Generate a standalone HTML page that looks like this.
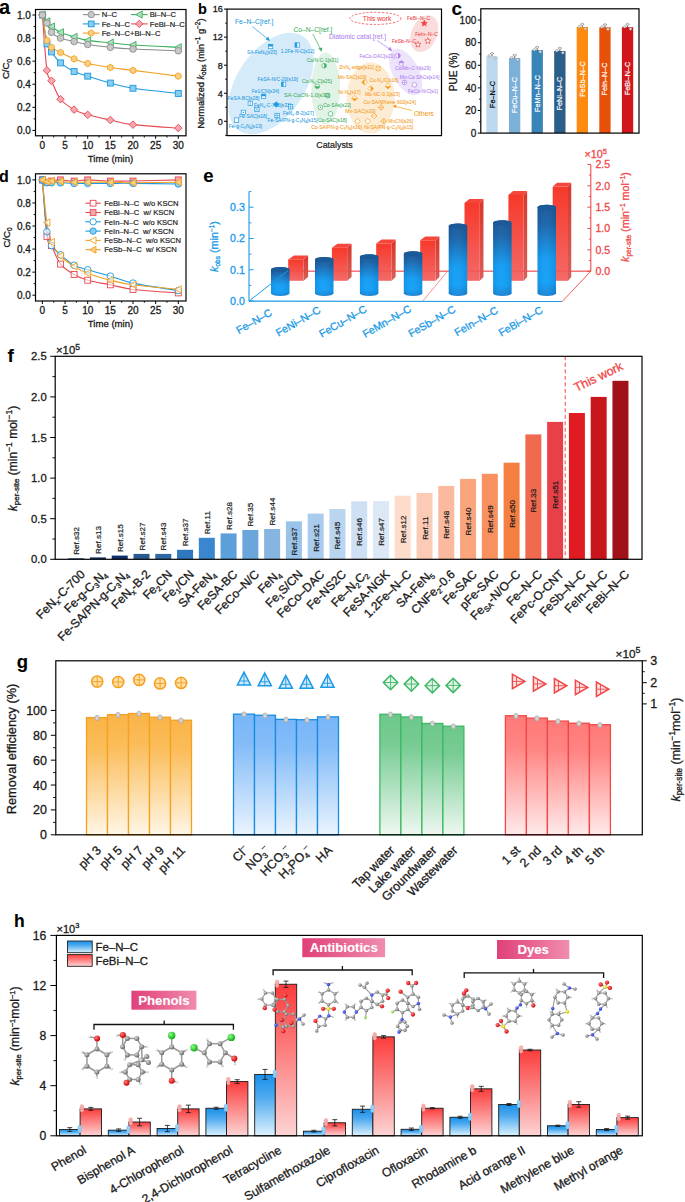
<!DOCTYPE html>
<html><head><meta charset="utf-8"><style>
html,body{margin:0;padding:0;background:#fff;width:685px;height:1202px;overflow:hidden}
svg{display:block;font-family:"Liberation Sans",sans-serif}
</style></head><body>
<svg width="685" height="1202" viewBox="0 0 685 1202">
<rect width="685" height="1202" fill="#fff"/>
<text x="-1" y="14.3" font-size="20" font-weight="bold" stroke="#000" stroke-width="0.1">a</text>
<rect x="35.5" y="9.5" width="150.5" height="126.3" fill="none" stroke="#000" stroke-width="1.2"/>
<line x1="42.4" y1="135.8" x2="42.4" y2="138.8" stroke="#000" stroke-width="1"/>
<text x="42.4" y="149.1" font-size="10" text-anchor="middle" fill="#1a1a1a" stroke="#1a1a1a" stroke-width="0.3">0</text>
<line x1="65.05" y1="135.8" x2="65.05" y2="138.8" stroke="#000" stroke-width="1"/>
<text x="65.05" y="149.1" font-size="10" text-anchor="middle" fill="#1a1a1a" stroke="#1a1a1a" stroke-width="0.3">5</text>
<line x1="87.7" y1="135.8" x2="87.7" y2="138.8" stroke="#000" stroke-width="1"/>
<text x="87.7" y="149.1" font-size="10" text-anchor="middle" fill="#1a1a1a" stroke="#1a1a1a" stroke-width="0.3">10</text>
<line x1="110.35" y1="135.8" x2="110.35" y2="138.8" stroke="#000" stroke-width="1"/>
<text x="110.35" y="149.1" font-size="10" text-anchor="middle" fill="#1a1a1a" stroke="#1a1a1a" stroke-width="0.3">15</text>
<line x1="133" y1="135.8" x2="133" y2="138.8" stroke="#000" stroke-width="1"/>
<text x="133" y="149.1" font-size="10" text-anchor="middle" fill="#1a1a1a" stroke="#1a1a1a" stroke-width="0.3">20</text>
<line x1="155.65" y1="135.8" x2="155.65" y2="138.8" stroke="#000" stroke-width="1"/>
<text x="155.65" y="149.1" font-size="10" text-anchor="middle" fill="#1a1a1a" stroke="#1a1a1a" stroke-width="0.3">25</text>
<line x1="178.3" y1="135.8" x2="178.3" y2="138.8" stroke="#000" stroke-width="1"/>
<text x="178.3" y="149.1" font-size="10" text-anchor="middle" fill="#1a1a1a" stroke="#1a1a1a" stroke-width="0.3">30</text>
<line x1="53.73" y1="135.8" x2="53.73" y2="137.6" stroke="#000" stroke-width="0.9"/>
<line x1="76.38" y1="135.8" x2="76.38" y2="137.6" stroke="#000" stroke-width="0.9"/>
<line x1="99.03" y1="135.8" x2="99.03" y2="137.6" stroke="#000" stroke-width="0.9"/>
<line x1="121.68" y1="135.8" x2="121.68" y2="137.6" stroke="#000" stroke-width="0.9"/>
<line x1="144.33" y1="135.8" x2="144.33" y2="137.6" stroke="#000" stroke-width="0.9"/>
<line x1="166.97" y1="135.8" x2="166.97" y2="137.6" stroke="#000" stroke-width="0.9"/>
<line x1="32.4" y1="130.4" x2="35.5" y2="130.4" stroke="#000" stroke-width="1"/>
<text x="30.8" y="134" font-size="10" text-anchor="end" fill="#1a1a1a" stroke="#1a1a1a" stroke-width="0.3">0.0</text>
<line x1="32.4" y1="107.32" x2="35.5" y2="107.32" stroke="#000" stroke-width="1"/>
<text x="30.8" y="110.92" font-size="10" text-anchor="end" fill="#1a1a1a" stroke="#1a1a1a" stroke-width="0.3">0.2</text>
<line x1="32.4" y1="84.24" x2="35.5" y2="84.24" stroke="#000" stroke-width="1"/>
<text x="30.8" y="87.84" font-size="10" text-anchor="end" fill="#1a1a1a" stroke="#1a1a1a" stroke-width="0.3">0.4</text>
<line x1="32.4" y1="61.16" x2="35.5" y2="61.16" stroke="#000" stroke-width="1"/>
<text x="30.8" y="64.76" font-size="10" text-anchor="end" fill="#1a1a1a" stroke="#1a1a1a" stroke-width="0.3">0.6</text>
<line x1="32.4" y1="38.08" x2="35.5" y2="38.08" stroke="#000" stroke-width="1"/>
<text x="30.8" y="41.68" font-size="10" text-anchor="end" fill="#1a1a1a" stroke="#1a1a1a" stroke-width="0.3">0.8</text>
<line x1="32.4" y1="15" x2="35.5" y2="15" stroke="#000" stroke-width="1"/>
<text x="30.8" y="18.6" font-size="10" text-anchor="end" fill="#1a1a1a" stroke="#1a1a1a" stroke-width="0.3">1.0</text>
<line x1="33.6" y1="118.86" x2="35.5" y2="118.86" stroke="#000" stroke-width="0.9"/>
<line x1="33.6" y1="95.78" x2="35.5" y2="95.78" stroke="#000" stroke-width="0.9"/>
<line x1="33.6" y1="72.7" x2="35.5" y2="72.7" stroke="#000" stroke-width="0.9"/>
<line x1="33.6" y1="49.62" x2="35.5" y2="49.62" stroke="#000" stroke-width="0.9"/>
<line x1="33.6" y1="26.54" x2="35.5" y2="26.54" stroke="#000" stroke-width="0.9"/>
<text x="110.5" y="161.5" font-size="9.6" text-anchor="middle" fill="#1a1a1a" stroke="#1a1a1a" stroke-width="0.3">Time (min)</text>
<text x="0" y="0" font-size="9.6" fill="#1a1a1a" text-anchor="middle" transform="translate(9.3 69) rotate(-90)" stroke="#1a1a1a" stroke-width="0.3">C/C<tspan font-size="6.5" dy="2.5">0</tspan></text>
<path d="M42.4,15 C43.16,24.23 45.42,59.43 46.93,70.39 C48.44,81.35 49.2,75.97 51.46,80.78 C53.73,85.59 56.74,94.43 60.52,99.24 C64.3,104.05 69.58,107.03 74.11,109.63 C78.64,112.22 81.66,113.09 87.7,114.82 C93.74,116.55 102.8,118.38 110.35,120.01 C117.9,121.65 121.67,123.28 133,124.63 C144.32,125.98 170.75,127.52 178.3,128.09" fill="none" stroke="#e84850" stroke-width="1.1"/>
<path d="M42.4,15 C43.16,19.81 45.42,37.7 46.93,43.85 C48.44,50 49.2,48.75 51.46,51.93 C53.73,55.1 56.74,59.62 60.52,62.89 C64.3,66.16 69.58,69.33 74.11,71.55 C78.64,73.76 81.66,74.24 87.7,76.16 C93.74,78.09 102.8,81.07 110.35,83.09 C117.9,85.11 121.67,86.55 133,88.28 C144.32,90.01 170.75,92.61 178.3,93.47" fill="none" stroke="#1e9ae0" stroke-width="1.1"/>
<path d="M42.4,15 C43.16,19.23 45.42,35 46.93,40.39 C48.44,45.77 49.2,45.29 51.46,47.31 C53.73,49.33 56.74,50.58 60.52,52.5 C64.3,54.43 69.58,57.02 74.11,58.85 C78.64,60.68 81.66,62.03 87.7,63.47 C93.74,64.91 102.8,66.35 110.35,67.51 C117.9,68.66 121.67,68.95 133,70.39 C144.32,71.83 170.75,75.2 178.3,76.16" fill="none" stroke="#f0a020" stroke-width="1.1"/>
<path d="M42.4,15 C43.16,16.06 45.42,19.42 46.93,21.35 C48.44,23.27 49.2,24.71 51.46,26.54 C53.73,28.37 56.74,30.58 60.52,32.31 C64.3,34.04 69.58,35.58 74.11,36.93 C78.64,38.27 81.66,39.43 87.7,40.39 C93.74,41.35 102.8,41.93 110.35,42.7 C117.9,43.47 121.67,44.23 133,45 C144.32,45.77 170.75,46.93 178.3,47.31" fill="none" stroke="#3cb060" stroke-width="1.1"/>
<path d="M42.4,15 C43.16,16.35 45.42,20.19 46.93,23.08 C48.44,25.96 49.2,29.81 51.46,32.31 C53.73,34.81 56.74,36.54 60.52,38.08 C64.3,39.62 69.58,40.48 74.11,41.54 C78.64,42.6 81.66,43.47 87.7,44.43 C93.74,45.39 102.8,46.54 110.35,47.31 C117.9,48.08 121.67,48.47 133,49.04 C144.32,49.62 170.75,50.49 178.3,50.77" fill="none" stroke="#8c8c8c" stroke-width="1.1"/>
<polygon points="42.4,11.21 46.2,15 42.4,18.79 38.6,15" fill="#f4a8b0" stroke="#e84850" stroke-width="0.9"/>
<polygon points="46.93,66.6 50.73,70.39 46.93,74.19 43.13,70.39" fill="#f4a8b0" stroke="#e84850" stroke-width="0.9"/>
<polygon points="51.46,76.98 55.26,80.78 51.46,84.57 47.66,80.78" fill="#f4a8b0" stroke="#e84850" stroke-width="0.9"/>
<polygon points="60.52,95.45 64.31,99.24 60.52,103.04 56.72,99.24" fill="#f4a8b0" stroke="#e84850" stroke-width="0.9"/>
<polygon points="74.11,105.83 77.91,109.63 74.11,113.42 70.31,109.63" fill="#f4a8b0" stroke="#e84850" stroke-width="0.9"/>
<polygon points="87.7,111.03 91.5,114.82 87.7,118.62 83.91,114.82" fill="#f4a8b0" stroke="#e84850" stroke-width="0.9"/>
<polygon points="110.35,116.22 114.14,120.01 110.35,123.81 106.55,120.01" fill="#f4a8b0" stroke="#e84850" stroke-width="0.9"/>
<polygon points="133,120.84 136.79,124.63 133,128.43 129.21,124.63" fill="#f4a8b0" stroke="#e84850" stroke-width="0.9"/>
<polygon points="178.3,124.3 182.09,128.09 178.3,131.89 174.51,128.09" fill="#f4a8b0" stroke="#e84850" stroke-width="0.9"/>
<rect x="39.43" y="12.03" width="5.94" height="5.94" fill="#88ccf2" stroke="#1e9ae0" stroke-width="0.9"/>
<rect x="43.96" y="40.88" width="5.94" height="5.94" fill="#88ccf2" stroke="#1e9ae0" stroke-width="0.9"/>
<rect x="48.49" y="48.96" width="5.94" height="5.94" fill="#88ccf2" stroke="#1e9ae0" stroke-width="0.9"/>
<rect x="57.55" y="59.92" width="5.94" height="5.94" fill="#88ccf2" stroke="#1e9ae0" stroke-width="0.9"/>
<rect x="71.14" y="68.58" width="5.94" height="5.94" fill="#88ccf2" stroke="#1e9ae0" stroke-width="0.9"/>
<rect x="84.73" y="73.19" width="5.94" height="5.94" fill="#88ccf2" stroke="#1e9ae0" stroke-width="0.9"/>
<rect x="107.38" y="80.12" width="5.94" height="5.94" fill="#88ccf2" stroke="#1e9ae0" stroke-width="0.9"/>
<rect x="130.03" y="85.31" width="5.94" height="5.94" fill="#88ccf2" stroke="#1e9ae0" stroke-width="0.9"/>
<rect x="175.33" y="90.5" width="5.94" height="5.94" fill="#88ccf2" stroke="#1e9ae0" stroke-width="0.9"/>
<polygon points="45.26,16.65 42.4,18.3 39.54,16.65 39.54,13.35 42.4,11.7 45.26,13.35" fill="#fbcf80" stroke="#f0a020" stroke-width="0.9"/>
<polygon points="49.79,42.04 46.93,43.69 44.07,42.04 44.07,38.74 46.93,37.09 49.79,38.74" fill="#fbcf80" stroke="#f0a020" stroke-width="0.9"/>
<polygon points="54.32,48.96 51.46,50.61 48.6,48.96 48.6,45.66 51.46,44.01 54.32,45.66" fill="#fbcf80" stroke="#f0a020" stroke-width="0.9"/>
<polygon points="63.38,54.15 60.52,55.8 57.66,54.15 57.66,50.85 60.52,49.2 63.38,50.85" fill="#fbcf80" stroke="#f0a020" stroke-width="0.9"/>
<polygon points="76.97,60.5 74.11,62.15 71.25,60.5 71.25,57.2 74.11,55.55 76.97,57.2" fill="#fbcf80" stroke="#f0a020" stroke-width="0.9"/>
<polygon points="90.56,65.12 87.7,66.77 84.84,65.12 84.84,61.82 87.7,60.17 90.56,61.82" fill="#fbcf80" stroke="#f0a020" stroke-width="0.9"/>
<polygon points="113.21,69.16 110.35,70.81 107.49,69.16 107.49,65.86 110.35,64.21 113.21,65.86" fill="#fbcf80" stroke="#f0a020" stroke-width="0.9"/>
<polygon points="135.86,72.04 133,73.69 130.14,72.04 130.14,68.74 133,67.09 135.86,68.74" fill="#fbcf80" stroke="#f0a020" stroke-width="0.9"/>
<polygon points="181.16,77.81 178.3,79.46 175.44,77.81 175.44,74.51 178.3,72.86 181.16,74.51" fill="#fbcf80" stroke="#f0a020" stroke-width="0.9"/>
<polygon points="38.77,15 45.37,11.37 45.37,18.63" fill="#b5dfc0" stroke="#3cb060" stroke-width="0.9"/>
<polygon points="43.3,21.35 49.9,17.72 49.9,24.98" fill="#b5dfc0" stroke="#3cb060" stroke-width="0.9"/>
<polygon points="47.83,26.54 54.43,22.91 54.43,30.17" fill="#b5dfc0" stroke="#3cb060" stroke-width="0.9"/>
<polygon points="56.89,32.31 63.49,28.68 63.49,35.94" fill="#b5dfc0" stroke="#3cb060" stroke-width="0.9"/>
<polygon points="70.48,36.93 77.08,33.3 77.08,40.56" fill="#b5dfc0" stroke="#3cb060" stroke-width="0.9"/>
<polygon points="84.07,40.39 90.67,36.76 90.67,44.02" fill="#b5dfc0" stroke="#3cb060" stroke-width="0.9"/>
<polygon points="106.72,42.7 113.32,39.07 113.32,46.33" fill="#b5dfc0" stroke="#3cb060" stroke-width="0.9"/>
<polygon points="129.37,45 135.97,41.37 135.97,48.63" fill="#b5dfc0" stroke="#3cb060" stroke-width="0.9"/>
<polygon points="174.67,47.31 181.27,43.68 181.27,50.94" fill="#b5dfc0" stroke="#3cb060" stroke-width="0.9"/>
<circle cx="42.4" cy="15" r="3.3" fill="#c8c8c8" stroke="#8c8c8c" stroke-width="0.9"/>
<circle cx="46.93" cy="23.08" r="3.3" fill="#c8c8c8" stroke="#8c8c8c" stroke-width="0.9"/>
<circle cx="51.46" cy="32.31" r="3.3" fill="#c8c8c8" stroke="#8c8c8c" stroke-width="0.9"/>
<circle cx="60.52" cy="38.08" r="3.3" fill="#c8c8c8" stroke="#8c8c8c" stroke-width="0.9"/>
<circle cx="74.11" cy="41.54" r="3.3" fill="#c8c8c8" stroke="#8c8c8c" stroke-width="0.9"/>
<circle cx="87.7" cy="44.43" r="3.3" fill="#c8c8c8" stroke="#8c8c8c" stroke-width="0.9"/>
<circle cx="110.35" cy="47.31" r="3.3" fill="#c8c8c8" stroke="#8c8c8c" stroke-width="0.9"/>
<circle cx="133" cy="49.04" r="3.3" fill="#c8c8c8" stroke="#8c8c8c" stroke-width="0.9"/>
<circle cx="178.3" cy="50.77" r="3.3" fill="#c8c8c8" stroke="#8c8c8c" stroke-width="0.9"/>
<line x1="82.9" y1="14.6" x2="99.6" y2="14.6" stroke="#8c8c8c" stroke-width="1.1"/>
<circle cx="91.2" cy="14.6" r="3.2" fill="#c8c8c8" stroke="#8c8c8c" stroke-width="0.9"/>
<text x="101.7" y="17.3" font-size="7.6" fill="#222" stroke="#222" stroke-width="0.2">N&#8211;C</text>
<line x1="131" y1="14.6" x2="147.7" y2="14.6" stroke="#3cb060" stroke-width="1.1"/>
<polygon points="135.78,14.6 142.18,11.08 142.18,18.12" fill="#b5dfc0" stroke="#3cb060" stroke-width="0.9"/>
<text x="149.8" y="17.3" font-size="7.6" fill="#222" stroke="#222" stroke-width="0.2">Bi&#8211;N&#8211;C</text>
<line x1="82.9" y1="23.9" x2="99.6" y2="23.9" stroke="#1e9ae0" stroke-width="1.1"/>
<rect x="88.32" y="21.02" width="5.76" height="5.76" fill="#88ccf2" stroke="#1e9ae0" stroke-width="0.9"/>
<text x="101.7" y="26.6" font-size="7.6" fill="#222" stroke="#222" stroke-width="0.2">Fe&#8211;N&#8211;C</text>
<line x1="131" y1="23.9" x2="147.7" y2="23.9" stroke="#e84850" stroke-width="1.1"/>
<polygon points="139.3,20.22 142.98,23.9 139.3,27.58 135.62,23.9" fill="#f4a8b0" stroke="#e84850" stroke-width="0.9"/>
<text x="149.8" y="26.6" font-size="7.6" fill="#222" stroke="#222" stroke-width="0.2">FeBi&#8211;N&#8211;C</text>
<line x1="82.9" y1="33.1" x2="99.6" y2="33.1" stroke="#f0a020" stroke-width="1.1"/>
<polygon points="93.97,34.7 91.2,36.3 88.43,34.7 88.43,31.5 91.2,29.9 93.97,31.5" fill="#fbcf80" stroke="#f0a020" stroke-width="0.9"/>
<text x="101.7" y="35.8" font-size="7.6" fill="#222" stroke="#222" stroke-width="0.2">Fe&#8211;N&#8211;C+Bi&#8211;N&#8211;C</text>
<text x="-1" y="181.8" font-size="16" font-weight="bold" stroke="#000" stroke-width="0.1">d</text>
<rect x="35.5" y="173.8" width="150.5" height="127.2" fill="none" stroke="#000" stroke-width="1.2"/>
<line x1="42.4" y1="301" x2="42.4" y2="304" stroke="#000" stroke-width="1"/>
<text x="42.4" y="314.3" font-size="10" text-anchor="middle" fill="#1a1a1a" stroke="#1a1a1a" stroke-width="0.3">0</text>
<line x1="65.05" y1="301" x2="65.05" y2="304" stroke="#000" stroke-width="1"/>
<text x="65.05" y="314.3" font-size="10" text-anchor="middle" fill="#1a1a1a" stroke="#1a1a1a" stroke-width="0.3">5</text>
<line x1="87.7" y1="301" x2="87.7" y2="304" stroke="#000" stroke-width="1"/>
<text x="87.7" y="314.3" font-size="10" text-anchor="middle" fill="#1a1a1a" stroke="#1a1a1a" stroke-width="0.3">10</text>
<line x1="110.35" y1="301" x2="110.35" y2="304" stroke="#000" stroke-width="1"/>
<text x="110.35" y="314.3" font-size="10" text-anchor="middle" fill="#1a1a1a" stroke="#1a1a1a" stroke-width="0.3">15</text>
<line x1="133" y1="301" x2="133" y2="304" stroke="#000" stroke-width="1"/>
<text x="133" y="314.3" font-size="10" text-anchor="middle" fill="#1a1a1a" stroke="#1a1a1a" stroke-width="0.3">20</text>
<line x1="155.65" y1="301" x2="155.65" y2="304" stroke="#000" stroke-width="1"/>
<text x="155.65" y="314.3" font-size="10" text-anchor="middle" fill="#1a1a1a" stroke="#1a1a1a" stroke-width="0.3">25</text>
<line x1="178.3" y1="301" x2="178.3" y2="304" stroke="#000" stroke-width="1"/>
<text x="178.3" y="314.3" font-size="10" text-anchor="middle" fill="#1a1a1a" stroke="#1a1a1a" stroke-width="0.3">30</text>
<line x1="53.73" y1="301" x2="53.73" y2="302.8" stroke="#000" stroke-width="0.9"/>
<line x1="76.38" y1="301" x2="76.38" y2="302.8" stroke="#000" stroke-width="0.9"/>
<line x1="99.03" y1="301" x2="99.03" y2="302.8" stroke="#000" stroke-width="0.9"/>
<line x1="121.68" y1="301" x2="121.68" y2="302.8" stroke="#000" stroke-width="0.9"/>
<line x1="144.33" y1="301" x2="144.33" y2="302.8" stroke="#000" stroke-width="0.9"/>
<line x1="166.97" y1="301" x2="166.97" y2="302.8" stroke="#000" stroke-width="0.9"/>
<line x1="32.4" y1="295.2" x2="35.5" y2="295.2" stroke="#000" stroke-width="1"/>
<text x="30.8" y="298.8" font-size="10" text-anchor="end" fill="#1a1a1a" stroke="#1a1a1a" stroke-width="0.3">0.0</text>
<line x1="32.4" y1="272.14" x2="35.5" y2="272.14" stroke="#000" stroke-width="1"/>
<text x="30.8" y="275.74" font-size="10" text-anchor="end" fill="#1a1a1a" stroke="#1a1a1a" stroke-width="0.3">0.2</text>
<line x1="32.4" y1="249.08" x2="35.5" y2="249.08" stroke="#000" stroke-width="1"/>
<text x="30.8" y="252.68" font-size="10" text-anchor="end" fill="#1a1a1a" stroke="#1a1a1a" stroke-width="0.3">0.4</text>
<line x1="32.4" y1="226.02" x2="35.5" y2="226.02" stroke="#000" stroke-width="1"/>
<text x="30.8" y="229.62" font-size="10" text-anchor="end" fill="#1a1a1a" stroke="#1a1a1a" stroke-width="0.3">0.6</text>
<line x1="32.4" y1="202.96" x2="35.5" y2="202.96" stroke="#000" stroke-width="1"/>
<text x="30.8" y="206.56" font-size="10" text-anchor="end" fill="#1a1a1a" stroke="#1a1a1a" stroke-width="0.3">0.8</text>
<line x1="32.4" y1="179.9" x2="35.5" y2="179.9" stroke="#000" stroke-width="1"/>
<text x="30.8" y="183.5" font-size="10" text-anchor="end" fill="#1a1a1a" stroke="#1a1a1a" stroke-width="0.3">1.0</text>
<line x1="33.6" y1="283.67" x2="35.5" y2="283.67" stroke="#000" stroke-width="0.9"/>
<line x1="33.6" y1="260.61" x2="35.5" y2="260.61" stroke="#000" stroke-width="0.9"/>
<line x1="33.6" y1="237.55" x2="35.5" y2="237.55" stroke="#000" stroke-width="0.9"/>
<line x1="33.6" y1="214.49" x2="35.5" y2="214.49" stroke="#000" stroke-width="0.9"/>
<line x1="33.6" y1="191.43" x2="35.5" y2="191.43" stroke="#000" stroke-width="0.9"/>
<text x="110.5" y="327" font-size="9.6" text-anchor="middle" fill="#1a1a1a" stroke="#1a1a1a" stroke-width="0.3">Time (min)</text>
<text x="0" y="0" font-size="9.6" fill="#1a1a1a" text-anchor="middle" transform="translate(9.8 237.5) rotate(-90)" stroke="#1a1a1a" stroke-width="0.3">C/C<tspan font-size="6.5" dy="2.5">0</tspan></text>
<path d="M42.4,179.9 C43.16,189.32 45.42,225.44 46.93,236.4 C48.44,247.35 49.2,241.01 51.46,245.62 C53.73,250.23 56.74,259.26 60.52,264.07 C64.3,268.87 69.58,271.76 74.11,274.45 C78.64,277.14 81.66,278.48 87.7,280.21 C93.74,281.94 102.8,283.29 110.35,284.82 C117.9,286.36 121.67,288.09 133,289.44 C144.32,290.78 170.75,292.32 178.3,292.89" fill="none" stroke="#e84850" stroke-width="1.1"/>
<path d="M42.4,179.9 C43.16,188.55 45.42,220.83 46.93,231.78 C48.44,242.74 49.2,241.78 51.46,245.62 C53.73,249.46 56.74,251.58 60.52,254.84 C64.3,258.11 69.58,262.72 74.11,265.22 C78.64,267.72 81.66,268.01 87.7,269.83 C93.74,271.66 102.8,273.97 110.35,276.18 C117.9,278.39 121.67,280.69 133,283.09 C144.32,285.5 170.75,289.34 178.3,290.59" fill="none" stroke="#1e9ae0" stroke-width="1.1"/>
<path d="M42.4,179.9 C43.16,187.01 45.42,212.18 46.93,222.56 C48.44,232.94 49.2,236.59 51.46,242.16 C53.73,247.73 56.74,251.96 60.52,256 C64.3,260.03 69.58,263.49 74.11,266.38 C78.64,269.26 81.66,270.99 87.7,273.29 C93.74,275.6 102.8,278.29 110.35,280.21 C117.9,282.13 121.67,283.29 133,284.82 C144.32,286.36 170.75,288.67 178.3,289.44" fill="none" stroke="#f0a020" stroke-width="1.1"/>
<path d="M42.4,179.9 C43.16,180.28 45.42,182.01 46.93,182.21 C48.44,182.4 49.2,181.44 51.46,181.05 C53.73,180.67 56.74,179.9 60.52,179.9 C64.3,179.9 69.58,181.05 74.11,181.05 C78.64,181.05 81.66,179.9 87.7,179.9 C93.74,179.9 102.8,180.86 110.35,181.05 C117.9,181.25 121.67,181.25 133,181.05 C144.32,180.86 170.75,180.09 178.3,179.9" fill="none" stroke="#e84850" stroke-width="1.1"/>
<path d="M42.4,179.9 C43.16,180.38 45.42,182.3 46.93,182.78 C48.44,183.26 49.2,182.78 51.46,182.78 C53.73,182.78 56.74,182.69 60.52,182.78 C64.3,182.88 69.58,183.26 74.11,183.36 C78.64,183.46 81.66,183.36 87.7,183.36 C93.74,183.36 102.8,183.36 110.35,183.36 C117.9,183.36 121.67,183.26 133,183.36 C144.32,183.46 170.75,183.84 178.3,183.94" fill="none" stroke="#1e9ae0" stroke-width="1.1"/>
<path d="M42.4,179.9 C43.16,180.19 45.42,181.44 46.93,181.63 C48.44,181.82 49.2,181.05 51.46,181.05 C53.73,181.05 56.74,181.44 60.52,181.63 C64.3,181.82 69.58,182.11 74.11,182.21 C78.64,182.3 81.66,182.21 87.7,182.21 C93.74,182.21 102.8,182.11 110.35,182.21 C117.9,182.3 121.67,182.78 133,182.78 C144.32,182.78 170.75,182.3 178.3,182.21" fill="none" stroke="#f0a020" stroke-width="1.1"/>
<rect x="39.43" y="176.93" width="5.94" height="5.94" fill="rgba(255,255,255,0.6)" stroke="#e84850" stroke-width="0.9"/>
<rect x="43.96" y="233.43" width="5.94" height="5.94" fill="rgba(255,255,255,0.6)" stroke="#e84850" stroke-width="0.9"/>
<rect x="48.49" y="242.65" width="5.94" height="5.94" fill="rgba(255,255,255,0.6)" stroke="#e84850" stroke-width="0.9"/>
<rect x="57.55" y="261.1" width="5.94" height="5.94" fill="rgba(255,255,255,0.6)" stroke="#e84850" stroke-width="0.9"/>
<rect x="71.14" y="271.48" width="5.94" height="5.94" fill="rgba(255,255,255,0.6)" stroke="#e84850" stroke-width="0.9"/>
<rect x="84.73" y="277.24" width="5.94" height="5.94" fill="rgba(255,255,255,0.6)" stroke="#e84850" stroke-width="0.9"/>
<rect x="107.38" y="281.85" width="5.94" height="5.94" fill="rgba(255,255,255,0.6)" stroke="#e84850" stroke-width="0.9"/>
<rect x="130.03" y="286.46" width="5.94" height="5.94" fill="rgba(255,255,255,0.6)" stroke="#e84850" stroke-width="0.9"/>
<rect x="175.33" y="289.92" width="5.94" height="5.94" fill="rgba(255,255,255,0.6)" stroke="#e84850" stroke-width="0.9"/>
<circle cx="42.4" cy="179.9" r="3.3" fill="rgba(255,255,255,0.6)" stroke="#1e9ae0" stroke-width="0.9"/>
<circle cx="46.93" cy="231.78" r="3.3" fill="rgba(255,255,255,0.6)" stroke="#1e9ae0" stroke-width="0.9"/>
<circle cx="51.46" cy="245.62" r="3.3" fill="rgba(255,255,255,0.6)" stroke="#1e9ae0" stroke-width="0.9"/>
<circle cx="60.52" cy="254.84" r="3.3" fill="rgba(255,255,255,0.6)" stroke="#1e9ae0" stroke-width="0.9"/>
<circle cx="74.11" cy="265.22" r="3.3" fill="rgba(255,255,255,0.6)" stroke="#1e9ae0" stroke-width="0.9"/>
<circle cx="87.7" cy="269.83" r="3.3" fill="rgba(255,255,255,0.6)" stroke="#1e9ae0" stroke-width="0.9"/>
<circle cx="110.35" cy="276.18" r="3.3" fill="rgba(255,255,255,0.6)" stroke="#1e9ae0" stroke-width="0.9"/>
<circle cx="133" cy="283.09" r="3.3" fill="rgba(255,255,255,0.6)" stroke="#1e9ae0" stroke-width="0.9"/>
<circle cx="178.3" cy="290.59" r="3.3" fill="rgba(255,255,255,0.6)" stroke="#1e9ae0" stroke-width="0.9"/>
<polygon points="38.77,179.9 45.37,176.27 45.37,183.53" fill="rgba(255,255,255,0.6)" stroke="#f0a020" stroke-width="0.9"/>
<polygon points="43.3,222.56 49.9,218.93 49.9,226.19" fill="rgba(255,255,255,0.6)" stroke="#f0a020" stroke-width="0.9"/>
<polygon points="47.83,242.16 54.43,238.53 54.43,245.79" fill="rgba(255,255,255,0.6)" stroke="#f0a020" stroke-width="0.9"/>
<polygon points="56.89,256 63.49,252.37 63.49,259.63" fill="rgba(255,255,255,0.6)" stroke="#f0a020" stroke-width="0.9"/>
<polygon points="70.48,266.38 77.08,262.75 77.08,270" fill="rgba(255,255,255,0.6)" stroke="#f0a020" stroke-width="0.9"/>
<polygon points="84.07,273.29 90.67,269.66 90.67,276.92" fill="rgba(255,255,255,0.6)" stroke="#f0a020" stroke-width="0.9"/>
<polygon points="106.72,280.21 113.32,276.58 113.32,283.84" fill="rgba(255,255,255,0.6)" stroke="#f0a020" stroke-width="0.9"/>
<polygon points="129.37,284.82 135.97,281.19 135.97,288.45" fill="rgba(255,255,255,0.6)" stroke="#f0a020" stroke-width="0.9"/>
<polygon points="174.67,289.44 181.27,285.81 181.27,293.06" fill="rgba(255,255,255,0.6)" stroke="#f0a020" stroke-width="0.9"/>
<rect x="39.43" y="176.93" width="5.94" height="5.94" fill="#f4a8b0" stroke="#e84850" stroke-width="0.9"/>
<rect x="43.96" y="179.24" width="5.94" height="5.94" fill="#f4a8b0" stroke="#e84850" stroke-width="0.9"/>
<rect x="48.49" y="178.08" width="5.94" height="5.94" fill="#f4a8b0" stroke="#e84850" stroke-width="0.9"/>
<rect x="57.55" y="176.93" width="5.94" height="5.94" fill="#f4a8b0" stroke="#e84850" stroke-width="0.9"/>
<rect x="71.14" y="178.08" width="5.94" height="5.94" fill="#f4a8b0" stroke="#e84850" stroke-width="0.9"/>
<rect x="84.73" y="176.93" width="5.94" height="5.94" fill="#f4a8b0" stroke="#e84850" stroke-width="0.9"/>
<rect x="107.38" y="178.08" width="5.94" height="5.94" fill="#f4a8b0" stroke="#e84850" stroke-width="0.9"/>
<rect x="130.03" y="178.08" width="5.94" height="5.94" fill="#f4a8b0" stroke="#e84850" stroke-width="0.9"/>
<rect x="175.33" y="176.93" width="5.94" height="5.94" fill="#f4a8b0" stroke="#e84850" stroke-width="0.9"/>
<circle cx="42.4" cy="179.9" r="3.3" fill="#88ccf2" stroke="#1e9ae0" stroke-width="0.9"/>
<circle cx="46.93" cy="182.78" r="3.3" fill="#88ccf2" stroke="#1e9ae0" stroke-width="0.9"/>
<circle cx="51.46" cy="182.78" r="3.3" fill="#88ccf2" stroke="#1e9ae0" stroke-width="0.9"/>
<circle cx="60.52" cy="182.78" r="3.3" fill="#88ccf2" stroke="#1e9ae0" stroke-width="0.9"/>
<circle cx="74.11" cy="183.36" r="3.3" fill="#88ccf2" stroke="#1e9ae0" stroke-width="0.9"/>
<circle cx="87.7" cy="183.36" r="3.3" fill="#88ccf2" stroke="#1e9ae0" stroke-width="0.9"/>
<circle cx="110.35" cy="183.36" r="3.3" fill="#88ccf2" stroke="#1e9ae0" stroke-width="0.9"/>
<circle cx="133" cy="183.36" r="3.3" fill="#88ccf2" stroke="#1e9ae0" stroke-width="0.9"/>
<circle cx="178.3" cy="183.94" r="3.3" fill="#88ccf2" stroke="#1e9ae0" stroke-width="0.9"/>
<polygon points="38.77,179.9 45.37,176.27 45.37,183.53" fill="#fbcf80" stroke="#f0a020" stroke-width="0.9"/>
<polygon points="43.3,181.63 49.9,178 49.9,185.26" fill="#fbcf80" stroke="#f0a020" stroke-width="0.9"/>
<polygon points="47.83,181.05 54.43,177.42 54.43,184.68" fill="#fbcf80" stroke="#f0a020" stroke-width="0.9"/>
<polygon points="56.89,181.63 63.49,178 63.49,185.26" fill="#fbcf80" stroke="#f0a020" stroke-width="0.9"/>
<polygon points="70.48,182.21 77.08,178.58 77.08,185.84" fill="#fbcf80" stroke="#f0a020" stroke-width="0.9"/>
<polygon points="84.07,182.21 90.67,178.58 90.67,185.84" fill="#fbcf80" stroke="#f0a020" stroke-width="0.9"/>
<polygon points="106.72,182.21 113.32,178.58 113.32,185.84" fill="#fbcf80" stroke="#f0a020" stroke-width="0.9"/>
<polygon points="129.37,182.78 135.97,179.15 135.97,186.41" fill="#fbcf80" stroke="#f0a020" stroke-width="0.9"/>
<polygon points="174.67,182.21 181.27,178.58 181.27,185.84" fill="#fbcf80" stroke="#f0a020" stroke-width="0.9"/>
<line x1="85.5" y1="203.2" x2="100.7" y2="203.2" stroke="#e84850" stroke-width="1.1"/>
<rect x="90.22" y="200.32" width="5.76" height="5.76" fill="#ffffff" stroke="#e84850" stroke-width="0.9"/>
<text x="104.2" y="205.9" font-size="7.6" fill="#222" xml:space="preserve" stroke="#222" stroke-width="0.2">FeBi&#8211;N&#8211;C  w/o KSCN</text>
<line x1="85.5" y1="212.5" x2="100.7" y2="212.5" stroke="#e84850" stroke-width="1.1"/>
<rect x="90.22" y="209.62" width="5.76" height="5.76" fill="#f4a8b0" stroke="#e84850" stroke-width="0.9"/>
<text x="104.2" y="215.2" font-size="7.6" fill="#222" xml:space="preserve" stroke="#222" stroke-width="0.2">FeBi&#8211;N&#8211;C  w/ KSCN</text>
<line x1="85.5" y1="221.8" x2="100.7" y2="221.8" stroke="#1e9ae0" stroke-width="1.1"/>
<circle cx="93.1" cy="221.8" r="3.2" fill="#ffffff" stroke="#1e9ae0" stroke-width="0.9"/>
<text x="104.2" y="224.5" font-size="7.6" fill="#222" xml:space="preserve" stroke="#222" stroke-width="0.2">FeIn&#8211;N&#8211;C  w/o KSCN</text>
<line x1="85.5" y1="231.1" x2="100.7" y2="231.1" stroke="#1e9ae0" stroke-width="1.1"/>
<circle cx="93.1" cy="231.1" r="3.2" fill="#88ccf2" stroke="#1e9ae0" stroke-width="0.9"/>
<text x="104.2" y="233.8" font-size="7.6" fill="#222" xml:space="preserve" stroke="#222" stroke-width="0.2">FeIn&#8211;N&#8211;C  w/ KSCN</text>
<line x1="85.5" y1="240.4" x2="100.7" y2="240.4" stroke="#f0a020" stroke-width="1.1"/>
<polygon points="89.58,240.4 95.98,236.88 95.98,243.92" fill="#ffffff" stroke="#f0a020" stroke-width="0.9"/>
<text x="104.2" y="243.1" font-size="7.6" fill="#222" xml:space="preserve" stroke="#222" stroke-width="0.2">FeSb&#8211;N&#8211;C  w/o KSCN</text>
<line x1="85.5" y1="249.7" x2="100.7" y2="249.7" stroke="#f0a020" stroke-width="1.1"/>
<polygon points="89.58,249.7 95.98,246.18 95.98,253.22" fill="#fbcf80" stroke="#f0a020" stroke-width="0.9"/>
<text x="104.2" y="252.4" font-size="7.6" fill="#222" xml:space="preserve" stroke="#222" stroke-width="0.2">FeSb&#8211;N&#8211;C  w/ KSCN</text>
<text x="198" y="13.8" font-size="14.5" font-weight="bold" stroke="#000" stroke-width="0.1">b</text>
<ellipse cx="271" cy="83.5" rx="57" ry="33.8" fill="#d6ebfa" transform="rotate(-55.5 271 83.5)"/>
<ellipse cx="325.7" cy="88.6" rx="14.3" ry="36" fill="#e1f2e6"/>
<ellipse cx="370.6" cy="97.9" rx="24" ry="35.7" fill="#fdecd4"/>
<ellipse cx="405.6" cy="72" rx="25.5" ry="13" fill="#ede3fa" transform="rotate(62 405.6 72)"/>
<ellipse cx="424.3" cy="33.6" rx="19.2" ry="12.8" fill="#fbdcdc" transform="rotate(-66.5 424.3 33.6)"/>
<ellipse cx="375.5" cy="18.4" rx="25.5" ry="6.1" fill="none" stroke="#f04848" stroke-width="0.8" stroke-dasharray="2.2,1.6"/>
<line x1="224" y1="121.3" x2="227" y2="121.3" stroke="#000" stroke-width="1"/>
<text x="222.8" y="124.6" font-size="9" text-anchor="end" fill="#1a1a1a" stroke="#1a1a1a" stroke-width="0.3">0</text>
<line x1="224" y1="93.25" x2="227" y2="93.25" stroke="#000" stroke-width="1"/>
<text x="222.8" y="96.55" font-size="9" text-anchor="end" fill="#1a1a1a" stroke="#1a1a1a" stroke-width="0.3">4</text>
<line x1="224" y1="65.2" x2="227" y2="65.2" stroke="#000" stroke-width="1"/>
<text x="222.8" y="68.5" font-size="9" text-anchor="end" fill="#1a1a1a" stroke="#1a1a1a" stroke-width="0.3">8</text>
<line x1="224" y1="37.15" x2="227" y2="37.15" stroke="#000" stroke-width="1"/>
<text x="222.8" y="40.45" font-size="9" text-anchor="end" fill="#1a1a1a" stroke="#1a1a1a" stroke-width="0.3">12</text>
<line x1="224" y1="9.1" x2="227" y2="9.1" stroke="#000" stroke-width="1"/>
<text x="222.8" y="12.4" font-size="9" text-anchor="end" fill="#1a1a1a" stroke="#1a1a1a" stroke-width="0.3">16</text>
<line x1="225.2" y1="107.27" x2="227" y2="107.27" stroke="#000" stroke-width="0.9"/>
<line x1="225.2" y1="79.22" x2="227" y2="79.22" stroke="#000" stroke-width="0.9"/>
<line x1="225.2" y1="51.17" x2="227" y2="51.17" stroke="#000" stroke-width="0.9"/>
<line x1="225.2" y1="23.12" x2="227" y2="23.12" stroke="#000" stroke-width="0.9"/>
<line x1="225.2" y1="135.32" x2="227" y2="135.32" stroke="#000" stroke-width="0.9"/>
<text x="0" y="0" font-size="9.2" fill="#1a1a1a" text-anchor="middle" transform="translate(203.5 73.5) rotate(-90)" font-size-adjust="none" stroke="#1a1a1a" stroke-width="0.3">Normalized <tspan font-style="italic">k</tspan><tspan font-size="6.5" dy="2">obs</tspan><tspan dy="-2"> (min</tspan><tspan font-size="6.5" dy="-3.5">&#8722;1</tspan><tspan dy="3.5"> g</tspan><tspan font-size="6.5" dy="-3.5">&#8722;2</tspan><tspan dy="3.5">)</tspan></text>
<text x="334.5" y="148.3" font-size="8.9" text-anchor="middle" fill="#1a1a1a" stroke="#1a1a1a" stroke-width="0.2">Catalysts</text>
<text x="235" y="24" font-size="6.7" fill="#1e9ae0" stroke="#1e9ae0" stroke-width="0.06">Fe&#8211;N&#8211;C[ref.]</text>
<line x1="252.6" y1="26.6" x2="268.5" y2="39.6" stroke="#1e9ae0" stroke-width="0.7"/>
<polygon points="270,41 265.6,39.4 268.2,36.6" fill="#1e9ae0"/>
<rect x="268.4" y="44.3" width="4.4" height="4.4" fill="#fff" stroke="#1e9ae0" stroke-width="0.7"/>
<rect x="268.4" y="44.3" width="4.4" height="2.2" fill="#1e9ae0"/>
<text x="246.9" y="54.2" font-size="5.6" fill="#1e9ae0" textLength="30" lengthAdjust="spacingAndGlyphs" stroke="#1e9ae0" stroke-width="0.06">SA-FeN<tspan font-size="4" dy="1">5</tspan><tspan dy="-1">[s33]</tspan></text>
<rect x="295" y="42.8" width="4.4" height="4.4" fill="#fff" stroke="#1e9ae0" stroke-width="0.7"/>
<rect x="295" y="42.8" width="2.2" height="4.4" fill="#1e9ae0"/>
<text x="280.7" y="52.7" font-size="5.6" fill="#1e9ae0" textLength="33.6" lengthAdjust="spacingAndGlyphs" stroke="#1e9ae0" stroke-width="0.06">1.2Fe-N-C[s12]</text>
<rect x="281.4" y="82" width="4.4" height="4.4" fill="#fff" stroke="#1e9ae0" stroke-width="0.7"/>
<rect x="281.4" y="82" width="2.2" height="4.4" fill="#1e9ae0"/>
<text x="257.5" y="81.2" font-size="5.6" fill="#1e9ae0" textLength="40.3" lengthAdjust="spacingAndGlyphs" stroke="#1e9ae0" stroke-width="0.06">FeSA-N/C-20[s19]</text>
<rect x="261.4" y="94.1" width="4.4" height="4.4" fill="#fff" stroke="#1e9ae0" stroke-width="0.7"/>
<rect x="261.4" y="94.1" width="4.4" height="2.2" fill="#1e9ae0"/>
<text x="251.8" y="93.4" font-size="5.6" fill="#1e9ae0" textLength="27.2" lengthAdjust="spacingAndGlyphs" stroke="#1e9ae0" stroke-width="0.06">Fe1/CN[s34]</text>
<rect x="248.1" y="101.2" width="4.4" height="4.4" fill="#fff" stroke="#1e9ae0" stroke-width="0.7"/>
<line x1="250.3" y1="101.2" x2="250.3" y2="105.6" stroke="#1e9ae0" stroke-width="0.6"/>
<text x="227.8" y="99.9" font-size="5.6" fill="#1e9ae0" textLength="31.7" lengthAdjust="spacingAndGlyphs" stroke="#1e9ae0" stroke-width="0.06">FeSA-BC[s28]</text>
<rect x="254.7" y="107.2" width="4.4" height="4.4" fill="#fff" stroke="#1e9ae0" stroke-width="0.7"/>
<line x1="254.7" y1="107.2" x2="259.1" y2="111.6" stroke="#1e9ae0" stroke-width="0.6"/>
<line x1="254.7" y1="111.6" x2="259.1" y2="107.2" stroke="#1e9ae0" stroke-width="0.6"/>
<text x="254" y="106.5" font-size="5.6" fill="#1e9ae0" textLength="37.2" lengthAdjust="spacingAndGlyphs" stroke="#1e9ae0" stroke-width="0.06">FeN<tspan font-size="4" dy="1">x</tspan><tspan dy="-1">-C-700[s32]</tspan></text>
<polygon points="276.3,101.7 279.1,104.5 276.3,107.3 273.5,104.5" fill="#fff" stroke="#1e9ae0" stroke-width="0.7"/>
<polygon points="276.3,101.7 279.1,104.5 276.3,107.3 273.5,104.5" fill="#1e9ae0"/>
<rect x="288.4" y="104.6" width="4.4" height="4.4" fill="#fff" stroke="#1e9ae0" stroke-width="0.7"/>
<line x1="290.6" y1="104.6" x2="290.6" y2="109" stroke="#1e9ae0" stroke-width="0.6"/>
<line x1="288.4" y1="106.8" x2="292.8" y2="106.8" stroke="#1e9ae0" stroke-width="0.6"/>
<text x="283" y="114.9" font-size="5.6" fill="#1e9ae0" textLength="30.9" lengthAdjust="spacingAndGlyphs" stroke="#1e9ae0" stroke-width="0.06">FeN<tspan font-size="4" dy="1">x</tspan><tspan dy="-1">-B-2[s27]</tspan></text>
<rect x="241.2" y="110.2" width="4.4" height="4.4" fill="#fff" stroke="#1e9ae0" stroke-width="0.7"/>
<circle cx="243.4" cy="112.4" r="0.7" fill="#1e9ae0"/>
<text x="239.1" y="118.4" font-size="5.6" fill="#1e9ae0" textLength="28.1" lengthAdjust="spacingAndGlyphs" stroke="#1e9ae0" stroke-width="0.06">Fe-SAC[s18]</text>
<rect x="274.9" y="113.3" width="4.4" height="4.4" fill="#fff" stroke="#1e9ae0" stroke-width="0.7"/>
<line x1="277.1" y1="113.3" x2="277.1" y2="117.7" stroke="#1e9ae0" stroke-width="0.6"/>
<line x1="274.9" y1="115.5" x2="279.3" y2="115.5" stroke="#1e9ae0" stroke-width="0.6"/>
<text x="267.6" y="122.1" font-size="5.6" fill="#1e9ae0" textLength="50.1" lengthAdjust="spacingAndGlyphs" stroke="#1e9ae0" stroke-width="0.06">Fe-SA/PN-g-C<tspan font-size="4" dy="1">3</tspan><tspan dy="-1">N</tspan><tspan font-size="4" dy="1">4</tspan><tspan dy="-1">[s15]</tspan></text>
<rect x="234.3" y="117.9" width="4.4" height="4.4" fill="#fff" stroke="#1e9ae0" stroke-width="0.7"/>
<text x="228.8" y="127.6" font-size="5.6" fill="#1e9ae0" textLength="33.3" lengthAdjust="spacingAndGlyphs" stroke="#1e9ae0" stroke-width="0.06">Fe-g-C<tspan font-size="4" dy="1">3</tspan><tspan dy="-1">N</tspan><tspan font-size="4" dy="1">4</tspan><tspan dy="-1">[s13]</tspan></text>
<text x="293.4" y="32" font-size="6.7" fill="#3cb060" stroke="#3cb060" stroke-width="0.06">Co&#8211;N&#8211;C[ref.]</text>
<line x1="312.8" y1="34" x2="320.8" y2="49.5" stroke="#3cb060" stroke-width="0.7"/>
<polygon points="321.7,51.7 318.4,48.6 322.2,47.6" fill="#3cb060"/>
<circle cx="324.1" cy="65.7" r="2.3" fill="#fff" stroke="#3cb060" stroke-width="0.7"/>
<path d="M324.1,63.4 A2.3,2.3 0 0 1 324.1,68 Z" fill="#3cb060"/>
<text x="306.7" y="62" font-size="5.6" fill="#3cb060" textLength="31.8" lengthAdjust="spacingAndGlyphs" stroke="#3cb060" stroke-width="0.06">Co/N-C-1[s31]</text>
<circle cx="317.3" cy="86.2" r="2.3" fill="#fff" stroke="#3cb060" stroke-width="0.7"/>
<path d="M315,86.2 A2.3,2.3 0 0 0 319.6,86.2 Z" fill="#3cb060"/>
<text x="302" y="83.1" font-size="5.6" fill="#3cb060" textLength="29.8" lengthAdjust="spacingAndGlyphs" stroke="#3cb060" stroke-width="0.06">Co-N<tspan font-size="4" dy="1">x</tspan><tspan dy="-1">-C[s25]</tspan></text>
<circle cx="327.6" cy="95.5" r="2.3" fill="#fff" stroke="#3cb060" stroke-width="0.7"/>
<line x1="326.8" y1="93.2" x2="326.8" y2="97.8" stroke="#3cb060" stroke-width="0.5"/>
<line x1="328.4" y1="93.2" x2="328.4" y2="97.8" stroke="#3cb060" stroke-width="0.5"/>
<text x="284" y="97.3" font-size="5.6" fill="#3cb060" textLength="46" lengthAdjust="spacingAndGlyphs" stroke="#3cb060" stroke-width="0.06">SA-CoCN-1.0[s30]</text>
<circle cx="320.4" cy="107.4" r="2.3" fill="#fff" stroke="#3cb060" stroke-width="0.7"/>
<circle cx="320.4" cy="107.4" r="0.7" fill="#3cb060"/>
<text x="323.3" y="107.2" font-size="5.6" fill="#3cb060" textLength="27.7" lengthAdjust="spacingAndGlyphs" stroke="#3cb060" stroke-width="0.06">Co-SAs[s22]</text>
<circle cx="330.5" cy="113.8" r="2.3" fill="#fff" stroke="#3cb060" stroke-width="0.7"/>
<text x="318" y="122" font-size="5.6" fill="#3cb060" textLength="28.9" lengthAdjust="spacingAndGlyphs" stroke="#3cb060" stroke-width="0.06">Co-SAC[s18]</text>
<text x="311.2" y="129.2" font-size="5.6" fill="#f59a18" textLength="50.6" lengthAdjust="spacingAndGlyphs" stroke="#f59a18" stroke-width="0.06">Co-SA/PN-g-C<tspan font-size="4" dy="1">3</tspan><tspan dy="-1">N</tspan><tspan font-size="4" dy="1">4</tspan><tspan dy="-1">[s16]</tspan></text>
<text x="364.2" y="129.2" font-size="5.6" fill="#f59a18" textLength="49.3" lengthAdjust="spacingAndGlyphs" stroke="#f59a18" stroke-width="0.06">Ni-SA/PN-g-C<tspan font-size="4" dy="1">3</tspan><tspan dy="-1">N</tspan><tspan font-size="4" dy="1">4</tspan><tspan dy="-1">[s15]</tspan></text>
<circle cx="378.2" cy="68.5" r="2.4" fill="#fff" stroke="#f59a18" stroke-width="0.7"/>
<line x1="376" y1="66.3" x2="380.4" y2="70.7" stroke="#f59a18" stroke-width="0.6"/>
<line x1="376" y1="70.7" x2="380.4" y2="66.3" stroke="#f59a18" stroke-width="0.6"/>
<text x="339.3" y="69.3" font-size="5.6" fill="#f59a18" textLength="34.6" lengthAdjust="spacingAndGlyphs" stroke="#f59a18" stroke-width="0.06">ZnN<tspan font-size="4" dy="1">x</tspan><tspan dy="-1">-edge[s11]</tspan></text>
<polygon points="364.6,79.4 367.4,82.2 364.6,85 361.8,82.2" fill="#fff" stroke="#f59a18" stroke-width="0.7"/>
<polygon points="364.6,79.4 364.6,85 361.8,82.2" fill="#f59a18"/>
<text x="337.7" y="79.4" font-size="5.6" fill="#f59a18" textLength="28.9" lengthAdjust="spacingAndGlyphs" stroke="#f59a18" stroke-width="0.06">Mn-SAC[s19]</text>
<polygon points="388,83.4 390.8,86.2 388,89 385.2,86.2" fill="#fff" stroke="#f59a18" stroke-width="0.7"/>
<polygon points="385.2,86.2 390.8,86.2 388,89" fill="#f59a18"/>
<text x="369.4" y="82.1" font-size="5.6" fill="#f59a18" textLength="28.9" lengthAdjust="spacingAndGlyphs" stroke="#f59a18" stroke-width="0.06">Cu-N<tspan font-size="4" dy="1">x</tspan><tspan dy="-1">/C[s18]</tspan></text>
<polygon points="370.7,85.8 373.5,88.6 370.7,91.4 367.9,88.6" fill="#fff" stroke="#f59a18" stroke-width="0.7"/>
<polygon points="370.7,85.8 373.5,88.6 370.7,91.4" fill="#f59a18"/>
<text x="365" y="95.9" font-size="5.6" fill="#f59a18" textLength="34.9" lengthAdjust="spacingAndGlyphs" stroke="#f59a18" stroke-width="0.06">Mo-NC-0.1[s23]</text>
<polygon points="354.6,95.5 357.4,98.3 354.6,101.1 351.8,98.3" fill="#fff" stroke="#f59a18" stroke-width="0.7"/>
<polygon points="351.8,98.3 357.4,98.3 354.6,101.1" fill="#f59a18"/>
<text x="338.5" y="93.8" font-size="5.6" fill="#f59a18" textLength="22.2" lengthAdjust="spacingAndGlyphs" stroke="#f59a18" stroke-width="0.06">Ni-N<tspan font-size="4" dy="1">x</tspan><tspan dy="-1">[s17]</tspan></text>
<text x="363.4" y="104" font-size="5.6" fill="#f59a18" textLength="52.6" lengthAdjust="spacingAndGlyphs" stroke="#f59a18" stroke-width="0.06">Cu-SA/MXene-900[s24]</text>
<polygon points="381.1,104.6 383.9,107.4 381.1,110.2 378.3,107.4" fill="#fff" stroke="#f59a18" stroke-width="0.7"/>
<line x1="381.1" y1="104.6" x2="381.1" y2="110.2" stroke="#f59a18" stroke-width="0.6"/>
<line x1="378.3" y1="107.4" x2="383.9" y2="107.4" stroke="#f59a18" stroke-width="0.6"/>
<polygon points="374.2,113.1 377,115.9 374.2,118.7 371.4,115.9" fill="#fff" stroke="#f59a18" stroke-width="0.7"/>
<line x1="371.4" y1="115.9" x2="377" y2="115.9" stroke="#f59a18" stroke-width="0.6"/>
<text x="345.3" y="113.1" font-size="5.6" fill="#f59a18" textLength="30.2" lengthAdjust="spacingAndGlyphs" stroke="#f59a18" stroke-width="0.06">Mn-SAC[s20]</text>
<polygon points="357.5,118.4 360.3,121.2 357.5,124 354.7,121.2" fill="#fff" stroke="#f59a18" stroke-width="0.7"/>
<polygon points="367.8,118.4 370.6,121.2 367.8,124 365,121.2" fill="#fff" stroke="#f59a18" stroke-width="0.7"/>
<polygon points="383.8,118.4 386.6,121.2 383.8,124 381,121.2" fill="#fff" stroke="#f59a18" stroke-width="0.7"/>
<line x1="383.8" y1="118.4" x2="383.8" y2="124" stroke="#f59a18" stroke-width="0.6"/>
<line x1="381" y1="121.2" x2="386.6" y2="121.2" stroke="#f59a18" stroke-width="0.6"/>
<text x="388.6" y="122.7" font-size="5.6" fill="#f59a18" textLength="24.4" lengthAdjust="spacingAndGlyphs" stroke="#f59a18" stroke-width="0.06">MnCN[s26]</text>
<text x="413.9" y="116.3" font-size="6.7" fill="#f59a18" stroke="#f59a18" stroke-width="0.06">Others</text>
<line x1="412" y1="110.5" x2="395" y2="106.4" stroke="#f59a18" stroke-width="0.7"/>
<polygon points="392.8,106 396.5,104.3 395.8,108.2" fill="#f59a18"/>
<text x="328.9" y="39.4" font-size="6.7" fill="#b07ef0" stroke="#b07ef0" stroke-width="0.06">Diatomic catal.[ref.]</text>
<line x1="377.1" y1="40.4" x2="390.5" y2="49.6" stroke="#b07ef0" stroke-width="0.7"/>
<polygon points="392.2,50.9 387.8,50 390.2,46.8" fill="#b07ef0"/>
<circle cx="398" cy="55.7" r="2.3" fill="#fff" stroke="#b07ef0" stroke-width="0.7"/>
<path d="M398,53.4 A2.3,2.3 0 0 1 398,58 Z" fill="#b07ef0"/>
<text x="359.4" y="57.7" font-size="5.6" fill="#b07ef0" textLength="35.3" lengthAdjust="spacingAndGlyphs" stroke="#b07ef0" stroke-width="0.06">FeCo-DAC[s21]</text>
<circle cx="401.3" cy="63.2" r="2.3" fill="#fff" stroke="#b07ef0" stroke-width="0.7"/>
<path d="M399,63.2 A2.3,2.3 0 0 1 403.6,63.2 Z" fill="#b07ef0"/>
<text x="395.1" y="69.8" font-size="5.6" fill="#b07ef0" textLength="35.6" lengthAdjust="spacingAndGlyphs" stroke="#b07ef0" stroke-width="0.06">Co/Mn-C-N[s29]</text>
<circle cx="404.5" cy="82.4" r="2.3" fill="#fff" stroke="#b07ef0" stroke-width="0.7"/>
<line x1="404.5" y1="80.1" x2="404.5" y2="84.7" stroke="#b07ef0" stroke-width="0.6"/>
<line x1="402.2" y1="82.4" x2="406.8" y2="82.4" stroke="#b07ef0" stroke-width="0.6"/>
<text x="399.8" y="79.2" font-size="5.6" fill="#b07ef0" textLength="39.7" lengthAdjust="spacingAndGlyphs" stroke="#b07ef0" stroke-width="0.06">Mn-Co SACs[s14]</text>
<circle cx="414.4" cy="84.8" r="2.3" fill="#fff" stroke="#b07ef0" stroke-width="0.7"/>
<text x="408" y="92.6" font-size="5.6" fill="#b07ef0" textLength="29.8" lengthAdjust="spacingAndGlyphs" stroke="#b07ef0" stroke-width="0.06">FeCo-N/C[s1]</text>
<text x="362.8" y="21.2" font-size="6.7" fill="#f04040" stroke="#f04040" stroke-width="0.06">This work</text>
<text x="407" y="19.6" font-size="5.6" fill="#f04040" textLength="23" lengthAdjust="spacingAndGlyphs" stroke="#f04040" stroke-width="0.06">FeBi&#8211;N&#8211;C</text>
<text x="415.3" y="36.3" font-size="5.6" fill="#f04040" textLength="22.5" lengthAdjust="spacingAndGlyphs" stroke="#f04040" stroke-width="0.06">FeIn&#8211;N&#8211;C</text>
<text x="392" y="43.3" font-size="5.6" fill="#f04040" textLength="24.1" lengthAdjust="spacingAndGlyphs" stroke="#f04040" stroke-width="0.06">FeSb&#8211;N&#8211;C</text>
<polygon points="424.3,20.2 425.09,22.31 427.34,22.41 425.58,23.82 426.18,25.99 424.3,24.74 422.42,25.99 423.02,23.82 421.26,22.41 423.51,22.31" fill="#f04040" stroke="#f04040" stroke-width="0.7"/>
<polygon points="427.8,37.8 428.59,39.91 430.84,40.01 429.08,41.42 429.68,43.59 427.8,42.34 425.92,43.59 426.52,41.42 424.76,40.01 427.01,39.91" fill="#fff" stroke="#f04040" stroke-width="0.7"/>
<polygon points="417.9,41.3 418.69,43.41 420.94,43.51 419.18,44.92 419.78,47.09 417.9,45.84 416.02,47.09 416.62,44.92 414.86,43.51 417.11,43.41" fill="#fff" stroke="#f04040" stroke-width="0.7"/>
<rect x="227" y="9.1" width="214.5" height="126.5" fill="none" stroke="#000" stroke-width="1.2"/>
<text x="451.5" y="14.6" font-size="19" font-weight="bold" stroke="#000" stroke-width="0.1">c</text>
<line x1="477.8" y1="133.1" x2="480.8" y2="133.1" stroke="#000" stroke-width="1"/>
<text x="476.3" y="136.7" font-size="10" text-anchor="end" fill="#1a1a1a" stroke="#1a1a1a" stroke-width="0.3">0</text>
<line x1="477.8" y1="110.5" x2="480.8" y2="110.5" stroke="#000" stroke-width="1"/>
<text x="476.3" y="114.1" font-size="10" text-anchor="end" fill="#1a1a1a" stroke="#1a1a1a" stroke-width="0.3">20</text>
<line x1="477.8" y1="87.9" x2="480.8" y2="87.9" stroke="#000" stroke-width="1"/>
<text x="476.3" y="91.5" font-size="10" text-anchor="end" fill="#1a1a1a" stroke="#1a1a1a" stroke-width="0.3">40</text>
<line x1="477.8" y1="65.3" x2="480.8" y2="65.3" stroke="#000" stroke-width="1"/>
<text x="476.3" y="68.9" font-size="10" text-anchor="end" fill="#1a1a1a" stroke="#1a1a1a" stroke-width="0.3">60</text>
<line x1="477.8" y1="42.7" x2="480.8" y2="42.7" stroke="#000" stroke-width="1"/>
<text x="476.3" y="46.3" font-size="10" text-anchor="end" fill="#1a1a1a" stroke="#1a1a1a" stroke-width="0.3">80</text>
<line x1="477.8" y1="20.1" x2="480.8" y2="20.1" stroke="#000" stroke-width="1"/>
<text x="476.3" y="23.7" font-size="10" text-anchor="end" fill="#1a1a1a" stroke="#1a1a1a" stroke-width="0.3">100</text>
<line x1="479" y1="121.8" x2="480.8" y2="121.8" stroke="#000" stroke-width="0.9"/>
<line x1="479" y1="99.2" x2="480.8" y2="99.2" stroke="#000" stroke-width="0.9"/>
<line x1="479" y1="76.6" x2="480.8" y2="76.6" stroke="#000" stroke-width="0.9"/>
<line x1="479" y1="54" x2="480.8" y2="54" stroke="#000" stroke-width="0.9"/>
<line x1="479" y1="31.4" x2="480.8" y2="31.4" stroke="#000" stroke-width="0.9"/>
<text x="0" y="0" font-size="10" text-anchor="middle" fill="#1a1a1a" transform="translate(456.5 71.8) rotate(-90)" stroke="#1a1a1a" stroke-width="0.3">PUE (%)</text>
<rect x="486.4" y="56.26" width="11.3" height="76.84" fill="#bcd7ee"/>
<line x1="492.05" y1="53.44" x2="492.05" y2="56.26" stroke="#222" stroke-width="0.7"/>
<line x1="490.25" y1="53.44" x2="493.85" y2="53.44" stroke="#222" stroke-width="0.7"/>
<circle cx="489.05" cy="55.92" r="1.3" fill="#e8e8e8" stroke="#888" stroke-width="0.5"/>
<circle cx="492.05" cy="53.66" r="1.3" fill="#e8e8e8" stroke="#888" stroke-width="0.5"/>
<circle cx="495.05" cy="58.07" r="1.3" fill="#e8e8e8" stroke="#888" stroke-width="0.5"/>
<text x="0" y="0" font-size="7.2" text-anchor="middle" transform="translate(494.55 94.5) rotate(-90)" stroke="#000" stroke-width="0.2">Fe&#8211;N&#8211;C</text>
<rect x="509" y="57.95" width="11.3" height="75.14" fill="#7bb0d8"/>
<line x1="514.65" y1="55.13" x2="514.65" y2="57.95" stroke="#222" stroke-width="0.7"/>
<line x1="512.85" y1="55.13" x2="516.45" y2="55.13" stroke="#222" stroke-width="0.7"/>
<circle cx="511.65" cy="57.62" r="1.3" fill="#e8e8e8" stroke="#888" stroke-width="0.5"/>
<circle cx="514.65" cy="55.36" r="1.3" fill="#e8e8e8" stroke="#888" stroke-width="0.5"/>
<circle cx="517.65" cy="59.76" r="1.3" fill="#e8e8e8" stroke="#888" stroke-width="0.5"/>
<text x="0" y="0" font-size="7.2" text-anchor="middle" fill="#fff" transform="translate(517.15 95) rotate(-90)" stroke="#fff" stroke-width="0.2">FeCu&#8211;N&#8211;C</text>
<rect x="531.6" y="50.05" width="11.3" height="83.05" fill="#3a85b8"/>
<line x1="537.25" y1="47.22" x2="537.25" y2="50.05" stroke="#222" stroke-width="0.7"/>
<line x1="535.45" y1="47.22" x2="539.05" y2="47.22" stroke="#222" stroke-width="0.7"/>
<circle cx="534.25" cy="49.71" r="1.3" fill="#e8e8e8" stroke="#888" stroke-width="0.5"/>
<circle cx="537.25" cy="47.45" r="1.3" fill="#e8e8e8" stroke="#888" stroke-width="0.5"/>
<circle cx="540.25" cy="51.85" r="1.3" fill="#e8e8e8" stroke="#888" stroke-width="0.5"/>
<text x="0" y="0" font-size="7.2" text-anchor="middle" fill="#fff" transform="translate(539.75 93.5) rotate(-90)" stroke="#fff" stroke-width="0.2">FeMn&#8211;N&#8211;C</text>
<rect x="554.2" y="50.95" width="11.3" height="82.15" fill="#2b5f8a"/>
<line x1="559.85" y1="48.12" x2="559.85" y2="50.95" stroke="#222" stroke-width="0.7"/>
<line x1="558.05" y1="48.12" x2="561.65" y2="48.12" stroke="#222" stroke-width="0.7"/>
<circle cx="556.85" cy="50.61" r="1.3" fill="#e8e8e8" stroke="#888" stroke-width="0.5"/>
<circle cx="559.85" cy="48.35" r="1.3" fill="#e8e8e8" stroke="#888" stroke-width="0.5"/>
<circle cx="562.85" cy="52.76" r="1.3" fill="#e8e8e8" stroke="#888" stroke-width="0.5"/>
<text x="0" y="0" font-size="7.2" text-anchor="middle" fill="#fff" transform="translate(562.35 93.5) rotate(-90)" stroke="#fff" stroke-width="0.2">FeNi&#8211;N&#8211;C</text>
<rect x="576.7" y="26.99" width="11.3" height="106.11" fill="#ff8a10"/>
<line x1="582.35" y1="24.17" x2="582.35" y2="26.99" stroke="#222" stroke-width="0.7"/>
<line x1="580.55" y1="24.17" x2="584.15" y2="24.17" stroke="#222" stroke-width="0.7"/>
<circle cx="579.35" cy="26.65" r="1.3" fill="#e8e8e8" stroke="#888" stroke-width="0.5"/>
<circle cx="582.35" cy="24.39" r="1.3" fill="#e8e8e8" stroke="#888" stroke-width="0.5"/>
<circle cx="585.35" cy="28.8" r="1.3" fill="#e8e8e8" stroke="#888" stroke-width="0.5"/>
<text x="0" y="0" font-size="7.2" text-anchor="middle" fill="#fff" transform="translate(584.85 79) rotate(-90)" stroke="#fff" stroke-width="0.2">FeSb&#8211;N&#8211;C</text>
<rect x="599.3" y="27.33" width="11.3" height="105.77" fill="#e8500a"/>
<line x1="604.95" y1="24.51" x2="604.95" y2="27.33" stroke="#222" stroke-width="0.7"/>
<line x1="603.15" y1="24.51" x2="606.75" y2="24.51" stroke="#222" stroke-width="0.7"/>
<circle cx="601.95" cy="26.99" r="1.3" fill="#e8e8e8" stroke="#888" stroke-width="0.5"/>
<circle cx="604.95" cy="24.73" r="1.3" fill="#e8e8e8" stroke="#888" stroke-width="0.5"/>
<circle cx="607.95" cy="29.14" r="1.3" fill="#e8e8e8" stroke="#888" stroke-width="0.5"/>
<text x="0" y="0" font-size="7.2" text-anchor="middle" fill="#fff" transform="translate(607.45 79) rotate(-90)" stroke="#fff" stroke-width="0.2">FeIn&#8211;N&#8211;C</text>
<rect x="621.9" y="27.11" width="11.3" height="105.99" fill="#d0161b"/>
<line x1="627.55" y1="24.28" x2="627.55" y2="27.11" stroke="#222" stroke-width="0.7"/>
<line x1="625.75" y1="24.28" x2="629.35" y2="24.28" stroke="#222" stroke-width="0.7"/>
<circle cx="624.55" cy="26.77" r="1.3" fill="#e8e8e8" stroke="#888" stroke-width="0.5"/>
<circle cx="627.55" cy="24.51" r="1.3" fill="#e8e8e8" stroke="#888" stroke-width="0.5"/>
<circle cx="630.55" cy="28.91" r="1.3" fill="#e8e8e8" stroke="#888" stroke-width="0.5"/>
<text x="0" y="0" font-size="7.2" text-anchor="middle" fill="#fff" transform="translate(630.05 78.5) rotate(-90)" stroke="#fff" stroke-width="0.2">FeBi&#8211;N&#8211;C</text>
<rect x="480.8" y="8.8" width="158.2" height="124.3" fill="none" stroke="#000" stroke-width="1.2"/>
<defs>
<linearGradient id="gcyl" x1="0" y1="0" x2="0" y2="1">
<stop offset="0" stop-color="#1a5898"/><stop offset="0.2" stop-color="#1a64aa"/><stop offset="0.6" stop-color="#139cf4"/><stop offset="0.85" stop-color="#12a0f8"/><stop offset="1" stop-color="#1a84d4"/></linearGradient>
<linearGradient id="gcylh" x1="0" y1="0" x2="1" y2="0">
<stop offset="0" stop-color="#000" stop-opacity="0.06"/><stop offset="0.4" stop-color="#fff" stop-opacity="0.03"/><stop offset="1" stop-color="#000" stop-opacity="0.08"/></linearGradient>
<linearGradient id="gred" x1="0" y1="0" x2="0" y2="1">
<stop offset="0" stop-color="#f6392a"/><stop offset="1" stop-color="#f46a68"/></linearGradient>
<linearGradient id="gredside" x1="0" y1="0" x2="0" y2="1">
<stop offset="0" stop-color="#d8362c"/><stop offset="1" stop-color="#d86058"/></linearGradient>
</defs>
<text x="203.2" y="181.8" font-size="18.5" font-weight="bold" stroke="#000" stroke-width="0.1">e</text>
<line x1="249" y1="191.5" x2="249" y2="301.1" stroke="#1a9ae6" stroke-width="1.1"/>
<line x1="249" y1="301.1" x2="253.5" y2="301.1" stroke="#1a9ae6" stroke-width="1"/>
<text x="244.8" y="304.9" font-size="10.6" text-anchor="end" fill="#1a9ae6" stroke="#1a9ae6" stroke-width="0.3">0.0</text>
<line x1="249" y1="269.8" x2="253.5" y2="269.8" stroke="#1a9ae6" stroke-width="1"/>
<text x="244.8" y="273.6" font-size="10.6" text-anchor="end" fill="#1a9ae6" stroke="#1a9ae6" stroke-width="0.3">0.1</text>
<line x1="249" y1="238.5" x2="253.5" y2="238.5" stroke="#1a9ae6" stroke-width="1"/>
<text x="244.8" y="242.3" font-size="10.6" text-anchor="end" fill="#1a9ae6" stroke="#1a9ae6" stroke-width="0.3">0.2</text>
<line x1="249" y1="207.2" x2="253.5" y2="207.2" stroke="#1a9ae6" stroke-width="1"/>
<text x="244.8" y="211" font-size="10.6" text-anchor="end" fill="#1a9ae6" stroke="#1a9ae6" stroke-width="0.3">0.3</text>
<line x1="249" y1="285.45" x2="251.5" y2="285.45" stroke="#1a9ae6" stroke-width="0.9"/>
<line x1="249" y1="254.15" x2="251.5" y2="254.15" stroke="#1a9ae6" stroke-width="0.9"/>
<line x1="249" y1="222.85" x2="251.5" y2="222.85" stroke="#1a9ae6" stroke-width="0.9"/>
<line x1="249" y1="191.55" x2="251.5" y2="191.55" stroke="#1a9ae6" stroke-width="0.9"/>
<text x="0" y="0" font-size="10.8" fill="#1a9ae6" text-anchor="middle" transform="translate(217.8 246.5) rotate(-90)" stroke="#1a9ae6" stroke-width="0.3"><tspan font-style="italic">k</tspan><tspan font-size="6.5" dy="2">obs</tspan><tspan dy="-2"> (min</tspan><tspan font-size="6.5" dy="-3.5">&#8722;1</tspan><tspan dy="3.5">)</tspan></text>
<line x1="288.2" y1="271.2" x2="590.8" y2="271.2" stroke="#f04848" stroke-width="0.9"/>
<line x1="590.8" y1="164.5" x2="590.8" y2="271.2" stroke="#f04848" stroke-width="1.1"/>
<line x1="587.3" y1="271.2" x2="590.8" y2="271.2" stroke="#f04848" stroke-width="1"/>
<text x="595.4" y="275" font-size="10.6" fill="#f04848" stroke="#f04848" stroke-width="0.3">0.0</text>
<line x1="587.3" y1="249.85" x2="590.8" y2="249.85" stroke="#f04848" stroke-width="1"/>
<text x="595.4" y="253.65" font-size="10.6" fill="#f04848" stroke="#f04848" stroke-width="0.3">0.5</text>
<line x1="587.3" y1="228.5" x2="590.8" y2="228.5" stroke="#f04848" stroke-width="1"/>
<text x="595.4" y="232.3" font-size="10.6" fill="#f04848" stroke="#f04848" stroke-width="0.3">1.0</text>
<line x1="587.3" y1="207.15" x2="590.8" y2="207.15" stroke="#f04848" stroke-width="1"/>
<text x="595.4" y="210.95" font-size="10.6" fill="#f04848" stroke="#f04848" stroke-width="0.3">1.5</text>
<line x1="587.3" y1="185.8" x2="590.8" y2="185.8" stroke="#f04848" stroke-width="1"/>
<text x="595.4" y="189.6" font-size="10.6" fill="#f04848" stroke="#f04848" stroke-width="0.3">2.0</text>
<line x1="587.3" y1="164.45" x2="590.8" y2="164.45" stroke="#f04848" stroke-width="1"/>
<text x="595.4" y="168.25" font-size="10.6" fill="#f04848" stroke="#f04848" stroke-width="0.3">2.5</text>
<line x1="588.8" y1="260.52" x2="590.8" y2="260.52" stroke="#f04848" stroke-width="0.9"/>
<line x1="588.8" y1="239.17" x2="590.8" y2="239.17" stroke="#f04848" stroke-width="0.9"/>
<line x1="588.8" y1="217.82" x2="590.8" y2="217.82" stroke="#f04848" stroke-width="0.9"/>
<line x1="588.8" y1="196.47" x2="590.8" y2="196.47" stroke="#f04848" stroke-width="0.9"/>
<line x1="588.8" y1="175.12" x2="590.8" y2="175.12" stroke="#f04848" stroke-width="0.9"/>
<text x="0" y="0" font-size="10.8" fill="#f04848" text-anchor="middle" transform="translate(628.5 217) rotate(-90)" stroke="#f04848" stroke-width="0.3"><tspan font-style="italic">k</tspan><tspan font-size="6.5" dy="2">per-site</tspan><tspan dy="-2"> (min</tspan><tspan font-size="6.5" dy="-3.5">&#8722;1</tspan><tspan dy="3.5"> mol</tspan><tspan font-size="6.5" dy="-3.5">&#8722;1</tspan><tspan dy="3.5">)</tspan></text>
<text x="584.5" y="158" font-size="10.8" fill="#f04848" stroke="#f04848" stroke-width="0.3">&#215;10<tspan font-size="7.5" dy="-4.5">5</tspan></text>
<line x1="422.8" y1="301.1" x2="447.7" y2="271.2" stroke="#f04848" stroke-width="0.6"/>
<polygon points="303.5,259.4 308.1,255.5 308.1,276.9 303.5,280.8" fill="url(#gredside)"/>
<polygon points="288.2,259.4 294,255.5 308.1,255.5 303.5,259.4" fill="#f4463a"/>
<rect x="288.2" y="259.4" width="15.3" height="21.4" fill="url(#gred)"/>
<polygon points="347.2,247.7 351.57,243.8 351.57,276.9 347.2,280.8" fill="url(#gredside)"/>
<polygon points="331.9,247.7 337.47,243.8 351.57,243.8 347.2,247.7" fill="#f4463a"/>
<rect x="331.9" y="247.7" width="15.3" height="33.1" fill="url(#gred)"/>
<polygon points="391.5,243.5 395.64,239.6 395.64,276.9 391.5,280.8" fill="url(#gredside)"/>
<polygon points="376.2,243.5 381.54,239.6 395.64,239.6 391.5,243.5" fill="#f4463a"/>
<rect x="376.2" y="243.5" width="15.3" height="37.3" fill="url(#gred)"/>
<polygon points="435.5,240.3 439.41,236.4 439.41,276.9 435.5,280.8" fill="url(#gredside)"/>
<polygon points="420.2,240.3 425.31,236.4 439.41,236.4 435.5,240.3" fill="#f4463a"/>
<rect x="420.2" y="240.3" width="15.3" height="40.5" fill="url(#gred)"/>
<polygon points="479.8,202.9 483.48,199 483.48,276.9 479.8,280.8" fill="url(#gredside)"/>
<polygon points="464.5,202.9 469.38,199 483.48,199 479.8,202.9" fill="#f4463a"/>
<rect x="464.5" y="202.9" width="15.3" height="77.9" fill="url(#gred)"/>
<polygon points="523.7,194.9 527.15,191 527.15,276.9 523.7,280.8" fill="url(#gredside)"/>
<polygon points="508.4,194.9 513.05,191 527.15,191 523.7,194.9" fill="#f4463a"/>
<rect x="508.4" y="194.9" width="15.3" height="85.9" fill="url(#gred)"/>
<polygon points="568,186.6 571.22,182.7 571.22,276.9 568,280.8" fill="url(#gredside)"/>
<polygon points="552.7,186.6 557.12,182.7 571.22,182.7 568,186.6" fill="#f4463a"/>
<rect x="552.7" y="186.6" width="15.3" height="94.2" fill="url(#gred)"/>
<line x1="288.2" y1="271.2" x2="590.8" y2="271.2" stroke="#f04848" stroke-width="0.7" stroke-opacity="0.7"/>
<path d="M271,269.6 L271,293.3 A9.25,2.6 0 0 0 289.5,293.3 L289.5,269.6 A9.25,2.6 0 0 0 271,269.6 Z" fill="url(#gcyl)"/>
<path d="M271,269.6 L271,293.3 A9.25,2.6 0 0 0 289.5,293.3 L289.5,269.6 A9.25,2.6 0 0 0 271,269.6 Z" fill="url(#gcylh)"/>
<ellipse cx="280.25" cy="269.6" rx="9.25" ry="2.6" fill="#1b5a98"/>
<path d="M315,259.7 L315,293.3 A9.25,2.6 0 0 0 333.5,293.3 L333.5,259.7 A9.25,2.6 0 0 0 315,259.7 Z" fill="url(#gcyl)"/>
<path d="M315,259.7 L315,293.3 A9.25,2.6 0 0 0 333.5,293.3 L333.5,259.7 A9.25,2.6 0 0 0 315,259.7 Z" fill="url(#gcylh)"/>
<ellipse cx="324.25" cy="259.7" rx="9.25" ry="2.6" fill="#1b5a98"/>
<path d="M359.9,256.9 L359.9,293.3 A9.25,2.6 0 0 0 378.4,293.3 L378.4,256.9 A9.25,2.6 0 0 0 359.9,256.9 Z" fill="url(#gcyl)"/>
<path d="M359.9,256.9 L359.9,293.3 A9.25,2.6 0 0 0 378.4,293.3 L378.4,256.9 A9.25,2.6 0 0 0 359.9,256.9 Z" fill="url(#gcylh)"/>
<ellipse cx="369.15" cy="256.9" rx="9.25" ry="2.6" fill="#1b5a98"/>
<path d="M403.8,253.8 L403.8,293.3 A9.25,2.6 0 0 0 422.3,293.3 L422.3,253.8 A9.25,2.6 0 0 0 403.8,253.8 Z" fill="url(#gcyl)"/>
<path d="M403.8,253.8 L403.8,293.3 A9.25,2.6 0 0 0 422.3,293.3 L422.3,253.8 A9.25,2.6 0 0 0 403.8,253.8 Z" fill="url(#gcylh)"/>
<ellipse cx="413.05" cy="253.8" rx="9.25" ry="2.6" fill="#1b5a98"/>
<path d="M448.7,226 L448.7,293.3 A9.25,2.6 0 0 0 467.2,293.3 L467.2,226 A9.25,2.6 0 0 0 448.7,226 Z" fill="url(#gcyl)"/>
<path d="M448.7,226 L448.7,293.3 A9.25,2.6 0 0 0 467.2,293.3 L467.2,226 A9.25,2.6 0 0 0 448.7,226 Z" fill="url(#gcylh)"/>
<ellipse cx="457.95" cy="226" rx="9.25" ry="2.6" fill="#1b5a98"/>
<path d="M493.1,222.9 L493.1,293.3 A9.25,2.6 0 0 0 511.6,293.3 L511.6,222.9 A9.25,2.6 0 0 0 493.1,222.9 Z" fill="url(#gcyl)"/>
<path d="M493.1,222.9 L493.1,293.3 A9.25,2.6 0 0 0 511.6,293.3 L511.6,222.9 A9.25,2.6 0 0 0 493.1,222.9 Z" fill="url(#gcylh)"/>
<ellipse cx="502.35" cy="222.9" rx="9.25" ry="2.6" fill="#1b5a98"/>
<path d="M537.5,207.3 L537.5,293.3 A9.25,2.6 0 0 0 556,293.3 L556,207.3 A9.25,2.6 0 0 0 537.5,207.3 Z" fill="url(#gcyl)"/>
<path d="M537.5,207.3 L537.5,293.3 A9.25,2.6 0 0 0 556,293.3 L556,207.3 A9.25,2.6 0 0 0 537.5,207.3 Z" fill="url(#gcylh)"/>
<ellipse cx="546.75" cy="207.3" rx="9.25" ry="2.6" fill="#1b5a98"/>
<line x1="249" y1="301.1" x2="288.2" y2="270.4" stroke="#1a9ae6" stroke-width="1"/>
<line x1="249" y1="301.1" x2="562.2" y2="301.5" stroke="#1a9ae6" stroke-width="1.1"/>
<line x1="562.2" y1="301.5" x2="590.8" y2="271.2" stroke="#f04848" stroke-width="0.9"/>
<text x="0" y="0" font-size="10.6" text-anchor="middle" fill="#1a9ae6" transform="translate(255.9 324.5) rotate(-30)" stroke="#1a9ae6" stroke-width="0.3">Fe&#8211;N&#8211;C</text>
<text x="0" y="0" font-size="10.6" text-anchor="middle" fill="#1a9ae6" transform="translate(299.9 324.5) rotate(-30)" stroke="#1a9ae6" stroke-width="0.3">FeNi&#8211;N&#8211;C</text>
<text x="0" y="0" font-size="10.6" text-anchor="middle" fill="#1a9ae6" transform="translate(344.8 324.5) rotate(-30)" stroke="#1a9ae6" stroke-width="0.3">FeCu&#8211;N&#8211;C</text>
<text x="0" y="0" font-size="10.6" text-anchor="middle" fill="#1a9ae6" transform="translate(388.7 324.5) rotate(-30)" stroke="#1a9ae6" stroke-width="0.3">FeMn&#8211;N&#8211;C</text>
<text x="0" y="0" font-size="10.6" text-anchor="middle" fill="#1a9ae6" transform="translate(433.6 324.5) rotate(-30)" stroke="#1a9ae6" stroke-width="0.3">FeSb&#8211;N&#8211;C</text>
<text x="0" y="0" font-size="10.6" text-anchor="middle" fill="#1a9ae6" transform="translate(478 324.5) rotate(-30)" stroke="#1a9ae6" stroke-width="0.3">FeIn&#8211;N&#8211;C</text>
<text x="0" y="0" font-size="10.6" text-anchor="middle" fill="#1a9ae6" transform="translate(522.4 324.5) rotate(-30)" stroke="#1a9ae6" stroke-width="0.3">FeBi&#8211;N&#8211;C</text>
<text x="7.5" y="361.5" font-size="19" font-weight="bold" stroke="#000" stroke-width="0.1">f</text>
<line x1="50.2" y1="559.3" x2="55.2" y2="559.3" stroke="#000" stroke-width="1"/>
<text x="46.7" y="563.4" font-size="11.3" text-anchor="end" fill="#1a1a1a" stroke="#1a1a1a" stroke-width="0.3">0.0</text>
<line x1="50.2" y1="518.7" x2="55.2" y2="518.7" stroke="#000" stroke-width="1"/>
<text x="46.7" y="522.8" font-size="11.3" text-anchor="end" fill="#1a1a1a" stroke="#1a1a1a" stroke-width="0.3">0.5</text>
<line x1="50.2" y1="478.1" x2="55.2" y2="478.1" stroke="#000" stroke-width="1"/>
<text x="46.7" y="482.2" font-size="11.3" text-anchor="end" fill="#1a1a1a" stroke="#1a1a1a" stroke-width="0.3">1.0</text>
<line x1="50.2" y1="437.5" x2="55.2" y2="437.5" stroke="#000" stroke-width="1"/>
<text x="46.7" y="441.6" font-size="11.3" text-anchor="end" fill="#1a1a1a" stroke="#1a1a1a" stroke-width="0.3">1.5</text>
<line x1="50.2" y1="396.9" x2="55.2" y2="396.9" stroke="#000" stroke-width="1"/>
<text x="46.7" y="401" font-size="11.3" text-anchor="end" fill="#1a1a1a" stroke="#1a1a1a" stroke-width="0.3">2.0</text>
<line x1="50.2" y1="356.3" x2="55.2" y2="356.3" stroke="#000" stroke-width="1"/>
<text x="46.7" y="360.4" font-size="11.3" text-anchor="end" fill="#1a1a1a" stroke="#1a1a1a" stroke-width="0.3">2.5</text>
<line x1="52.4" y1="539" x2="55.2" y2="539" stroke="#000" stroke-width="0.9"/>
<line x1="52.4" y1="498.4" x2="55.2" y2="498.4" stroke="#000" stroke-width="0.9"/>
<line x1="52.4" y1="457.8" x2="55.2" y2="457.8" stroke="#000" stroke-width="0.9"/>
<line x1="52.4" y1="417.2" x2="55.2" y2="417.2" stroke="#000" stroke-width="0.9"/>
<line x1="52.4" y1="376.6" x2="55.2" y2="376.6" stroke="#000" stroke-width="0.9"/>
<text x="56" y="354" font-size="11.3" fill="#1a1a1a" stroke="#1a1a1a" stroke-width="0.3">&#215;10<tspan font-size="8.5" dy="-4.5">5</tspan></text>
<text x="0" y="0" font-size="12" fill="#1a1a1a" text-anchor="middle" transform="translate(16.8 458.5) rotate(-90)" stroke="#1a1a1a" stroke-width="0.3"><tspan font-style="italic">k</tspan><tspan font-size="8" dy="2.5">per-site</tspan><tspan dy="-2.5"> (min</tspan><tspan font-size="8.5" dy="-4.5">&#8722;1</tspan><tspan dy="4.5"> mol</tspan><tspan font-size="8.5" dy="-4.5">&#8722;1</tspan><tspan dy="4.5">)</tspan></text>
<rect x="68.2" y="558.3" width="16" height="1" fill="#1a3a78"/>
<text x="0" y="0" font-size="8.1" fill="#1a1a1a" transform="translate(79.2 554.8) rotate(-90)" stroke="#1a1a1a" stroke-width="0.2">Ref.s32</text>
<text x="0" y="0" font-size="12" text-anchor="end" fill="#1a1a1a" transform="translate(85.7 575) rotate(-45)" stroke="#1a1a1a" stroke-width="0.3">FeN<tspan font-size="7.5" dy="2.5">x</tspan><tspan dy="-2.5">-C-700</tspan></text>
<rect x="89.97" y="557.4" width="16" height="1.9" fill="#112e68"/>
<text x="0" y="0" font-size="8.1" fill="#1a1a1a" transform="translate(100.97 553.9) rotate(-90)" stroke="#1a1a1a" stroke-width="0.2">Ref.s13</text>
<text x="0" y="0" font-size="12" text-anchor="end" fill="#1a1a1a" transform="translate(107.47 575) rotate(-45)" stroke="#1a1a1a" stroke-width="0.3">Fe-g-C<tspan font-size="7.5" dy="2.5">3</tspan><tspan dy="-2.5">N</tspan><tspan font-size="7.5" dy="2.5">4</tspan><tspan dy="-2.5"></tspan></text>
<rect x="111.74" y="555.6" width="16" height="3.7" fill="#0d2e6b"/>
<text x="0" y="0" font-size="8.1" fill="#1a1a1a" transform="translate(122.74 552.1) rotate(-90)" stroke="#1a1a1a" stroke-width="0.2">Ref.s15</text>
<text x="0" y="0" font-size="12" text-anchor="end" fill="#1a1a1a" transform="translate(129.24 575) rotate(-45)" stroke="#1a1a1a" stroke-width="0.3">Fe-SA/PN-g-C<tspan font-size="7.5" dy="2.5">3</tspan><tspan dy="-2.5">N</tspan><tspan font-size="7.5" dy="2.5">4</tspan><tspan dy="-2.5"></tspan></text>
<rect x="133.51" y="553.9" width="16" height="5.4" fill="#2a5a8e"/>
<text x="0" y="0" font-size="8.1" fill="#1a1a1a" transform="translate(144.51 550.4) rotate(-90)" stroke="#1a1a1a" stroke-width="0.2">Ref.s27</text>
<text x="0" y="0" font-size="12" text-anchor="end" fill="#1a1a1a" transform="translate(151.01 575) rotate(-45)" stroke="#1a1a1a" stroke-width="0.3">FeN<tspan font-size="7.5" dy="2.5">x</tspan><tspan dy="-2.5">-B-2</tspan></text>
<rect x="155.28" y="553.9" width="16" height="5.4" fill="#2e68a5"/>
<text x="0" y="0" font-size="8.1" fill="#1a1a1a" transform="translate(166.28 550.4) rotate(-90)" stroke="#1a1a1a" stroke-width="0.2">Ref.s43</text>
<text x="0" y="0" font-size="12" text-anchor="end" fill="#1a1a1a" transform="translate(172.78 575) rotate(-45)" stroke="#1a1a1a" stroke-width="0.3">Fe<tspan font-size="7.5" dy="2.5">2</tspan><tspan dy="-2.5">CN</tspan></text>
<rect x="177.05" y="549.8" width="16" height="9.5" fill="#2f78c0"/>
<text x="0" y="0" font-size="8.1" fill="#1a1a1a" transform="translate(188.05 546.3) rotate(-90)" stroke="#1a1a1a" stroke-width="0.2">Ref.s37</text>
<text x="0" y="0" font-size="12" text-anchor="end" fill="#1a1a1a" transform="translate(194.55 575) rotate(-45)" stroke="#1a1a1a" stroke-width="0.3">Fe<tspan font-size="7.5" dy="2.5">1</tspan><tspan dy="-2.5">/CN</tspan></text>
<rect x="198.82" y="537.8" width="16" height="21.5" fill="#3a86cf"/>
<text x="0" y="0" font-size="8.1" fill="#1a1a1a" transform="translate(209.82 534.3) rotate(-90)" stroke="#1a1a1a" stroke-width="0.2">Ref.11</text>
<text x="0" y="0" font-size="12" text-anchor="end" fill="#1a1a1a" transform="translate(216.32 575) rotate(-45)" stroke="#1a1a1a" stroke-width="0.3">SA-FeN<tspan font-size="7.5" dy="2.5">4</tspan><tspan dy="-2.5"></tspan></text>
<rect x="220.59" y="533.4" width="16" height="25.9" fill="#5ba0da"/>
<text x="0" y="0" font-size="8.1" fill="#1a1a1a" transform="translate(231.59 529.9) rotate(-90)" stroke="#1a1a1a" stroke-width="0.2">Ref.s28</text>
<text x="0" y="0" font-size="12" text-anchor="end" fill="#1a1a1a" transform="translate(238.09 575) rotate(-45)" stroke="#1a1a1a" stroke-width="0.3">FeSA-BC</text>
<rect x="242.36" y="530" width="16" height="29.3" fill="#6aa6dc"/>
<text x="0" y="0" font-size="8.1" fill="#1a1a1a" transform="translate(253.36 526.5) rotate(-90)" stroke="#1a1a1a" stroke-width="0.2">Ref.35</text>
<text x="0" y="0" font-size="12" text-anchor="end" fill="#1a1a1a" transform="translate(259.86 575) rotate(-45)" stroke="#1a1a1a" stroke-width="0.3">FeCo&#8211;N/C</text>
<rect x="264.13" y="529" width="16" height="30.3" fill="#86b5e2"/>
<text x="0" y="0" font-size="8.1" fill="#1a1a1a" transform="translate(275.13 525.5) rotate(-90)" stroke="#1a1a1a" stroke-width="0.2">Ref.s44</text>
<text x="0" y="0" font-size="12" text-anchor="end" fill="#1a1a1a" transform="translate(281.63 575) rotate(-45)" stroke="#1a1a1a" stroke-width="0.3">FeN<tspan font-size="7.5" dy="2.5">4</tspan><tspan dy="-2.5"></tspan></text>
<rect x="285.9" y="521.3" width="16" height="38" fill="#9ac3ea"/>
<text x="0" y="0" font-size="8.1" text-anchor="middle" fill="#1a1a1a" transform="translate(296.9 541.44) rotate(-90)" stroke="#1a1a1a" stroke-width="0.2">Ref.s37</text>
<text x="0" y="0" font-size="12" text-anchor="end" fill="#1a1a1a" transform="translate(303.4 575) rotate(-45)" stroke="#1a1a1a" stroke-width="0.3">Fe<tspan font-size="7.5" dy="2.5">1</tspan><tspan dy="-2.5">S/CN</tspan></text>
<rect x="307.67" y="513.6" width="16" height="45.7" fill="#a9cbee"/>
<text x="0" y="0" font-size="8.1" text-anchor="middle" fill="#1a1a1a" transform="translate(318.67 537.82) rotate(-90)" stroke="#1a1a1a" stroke-width="0.2">Ref.s21</text>
<text x="0" y="0" font-size="12" text-anchor="end" fill="#1a1a1a" transform="translate(325.17 575) rotate(-45)" stroke="#1a1a1a" stroke-width="0.3">FeCo&#8211;DAC</text>
<rect x="329.44" y="509" width="16" height="50.3" fill="#bad5f0"/>
<text x="0" y="0" font-size="8.1" text-anchor="middle" fill="#1a1a1a" transform="translate(340.44 535.66) rotate(-90)" stroke="#1a1a1a" stroke-width="0.2">Ref.s45</text>
<text x="0" y="0" font-size="12" text-anchor="end" fill="#1a1a1a" transform="translate(346.94 575) rotate(-45)" stroke="#1a1a1a" stroke-width="0.3">Fe-NS2C</text>
<rect x="351.21" y="501.3" width="16" height="58" fill="#cfe0f4"/>
<text x="0" y="0" font-size="8.1" text-anchor="middle" fill="#1a1a1a" transform="translate(362.21 532.04) rotate(-90)" stroke="#1a1a1a" stroke-width="0.2">Ref.s46</text>
<text x="0" y="0" font-size="12" text-anchor="end" fill="#1a1a1a" transform="translate(368.71 575) rotate(-45)" stroke="#1a1a1a" stroke-width="0.3">Fe&#8211;N<tspan font-size="7.5" dy="2.5">2</tspan><tspan dy="-2.5">C</tspan><tspan font-size="7.5" dy="2.5">2</tspan><tspan dy="-2.5"></tspan></text>
<rect x="372.98" y="501" width="16" height="58.3" fill="#dce8f6"/>
<text x="0" y="0" font-size="8.1" text-anchor="middle" fill="#1a1a1a" transform="translate(383.98 531.9) rotate(-90)" stroke="#1a1a1a" stroke-width="0.2">Ref.s47</text>
<text x="0" y="0" font-size="12" text-anchor="end" fill="#1a1a1a" transform="translate(390.48 575) rotate(-45)" stroke="#1a1a1a" stroke-width="0.3">FeSA-NGK</text>
<rect x="394.75" y="495.7" width="16" height="63.6" fill="#fddccc"/>
<text x="0" y="0" font-size="8.1" text-anchor="middle" fill="#1a1a1a" transform="translate(405.75 529.41) rotate(-90)" stroke="#1a1a1a" stroke-width="0.2">Ref.s12</text>
<text x="0" y="0" font-size="12" text-anchor="end" fill="#1a1a1a" transform="translate(412.25 575) rotate(-45)" stroke="#1a1a1a" stroke-width="0.3">1.2Fe&#8211;N&#8211;C</text>
<rect x="416.52" y="493" width="16" height="66.3" fill="#fccbb5"/>
<text x="0" y="0" font-size="8.1" text-anchor="middle" fill="#1a1a1a" transform="translate(427.52 528.14) rotate(-90)" stroke="#1a1a1a" stroke-width="0.2">Ref.11</text>
<text x="0" y="0" font-size="12" text-anchor="end" fill="#1a1a1a" transform="translate(434.02 575) rotate(-45)" stroke="#1a1a1a" stroke-width="0.3">SA-FeN<tspan font-size="7.5" dy="2.5">5</tspan><tspan dy="-2.5"></tspan></text>
<rect x="438.29" y="485.9" width="16" height="73.4" fill="#fbb9a0"/>
<text x="0" y="0" font-size="8.1" text-anchor="middle" fill="#1a1a1a" transform="translate(449.29 524.8) rotate(-90)" stroke="#1a1a1a" stroke-width="0.2">Ref.s48</text>
<text x="0" y="0" font-size="12" text-anchor="end" fill="#1a1a1a" transform="translate(455.79 575) rotate(-45)" stroke="#1a1a1a" stroke-width="0.3">CNFe<tspan font-size="7.5" dy="2.5">2</tspan><tspan dy="-2.5">-0.6</tspan></text>
<rect x="460.06" y="478.9" width="16" height="80.4" fill="#f9a57e"/>
<text x="0" y="0" font-size="8.1" text-anchor="middle" fill="#1a1a1a" transform="translate(471.06 521.51) rotate(-90)" stroke="#1a1a1a" stroke-width="0.2">Ref.s40</text>
<text x="0" y="0" font-size="12" text-anchor="end" fill="#1a1a1a" transform="translate(477.56 575) rotate(-45)" stroke="#1a1a1a" stroke-width="0.3">Fe-SAC</text>
<rect x="481.83" y="473.8" width="16" height="85.5" fill="#f89060"/>
<text x="0" y="0" font-size="8.1" text-anchor="middle" fill="#1a1a1a" transform="translate(492.83 519.12) rotate(-90)" stroke="#1a1a1a" stroke-width="0.2">Ref.s49</text>
<text x="0" y="0" font-size="12" text-anchor="end" fill="#1a1a1a" transform="translate(499.33 575) rotate(-45)" stroke="#1a1a1a" stroke-width="0.3">pFe-SAC</text>
<rect x="503.6" y="462.7" width="16" height="96.6" fill="#f57f40"/>
<text x="0" y="0" font-size="8.1" text-anchor="middle" fill="#1a1a1a" transform="translate(514.6 513.9) rotate(-90)" stroke="#1a1a1a" stroke-width="0.2">Ref.s50</text>
<text x="0" y="0" font-size="12" text-anchor="end" fill="#1a1a1a" transform="translate(521.1 575) rotate(-45)" stroke="#1a1a1a" stroke-width="0.3">Fe<tspan font-size="7.5" dy="2.5">SA</tspan><tspan dy="-2.5">-N/O&#8211;C</tspan></text>
<rect x="525.37" y="434.4" width="16" height="124.9" fill="#f06a50"/>
<text x="0" y="0" font-size="8.1" text-anchor="middle" fill="#1a1a1a" transform="translate(536.37 500.6) rotate(-90)" stroke="#1a1a1a" stroke-width="0.2">Ref.33</text>
<text x="0" y="0" font-size="12" text-anchor="end" fill="#1a1a1a" transform="translate(542.87 575) rotate(-45)" stroke="#1a1a1a" stroke-width="0.3">Fe&#8211;N&#8211;C</text>
<rect x="547.14" y="421.9" width="16" height="137.4" fill="#e84048"/>
<text x="0" y="0" font-size="8.1" text-anchor="middle" fill="#1a1a1a" transform="translate(558.14 494.72) rotate(-90)" stroke="#1a1a1a" stroke-width="0.2">Ref.s51</text>
<text x="0" y="0" font-size="12" text-anchor="end" fill="#1a1a1a" transform="translate(564.64 575) rotate(-45)" stroke="#1a1a1a" stroke-width="0.3">FePc-O-CNT</text>
<rect x="568.91" y="413" width="16" height="146.3" fill="#e01c22"/>
<text x="0" y="0" font-size="12" text-anchor="end" fill="#1a1a1a" transform="translate(586.41 575) rotate(-45)" stroke="#1a1a1a" stroke-width="0.3">FeSb&#8211;N&#8211;C</text>
<rect x="590.68" y="396.9" width="16" height="162.4" fill="#c8161c"/>
<text x="0" y="0" font-size="12" text-anchor="end" fill="#1a1a1a" transform="translate(608.18 575) rotate(-45)" stroke="#1a1a1a" stroke-width="0.3">FeIn&#8211;N&#8211;C</text>
<rect x="612.45" y="380.8" width="16" height="178.5" fill="#a01218"/>
<text x="0" y="0" font-size="12" text-anchor="end" fill="#1a1a1a" transform="translate(629.95 575) rotate(-45)" stroke="#1a1a1a" stroke-width="0.3">FeBi&#8211;N&#8211;C</text>
<line x1="565.2" y1="356.3" x2="565.2" y2="559.3" stroke="#f04848" stroke-width="1" stroke-dasharray="4,2.5"/>
<text x="0" y="0" font-size="12.3" fill="#f04848" transform="translate(576.5 392) rotate(-26)" stroke="#f04848" stroke-width="0.3">This work</text>
<rect x="55.2" y="356.3" width="586.8" height="203" fill="none" stroke="#000" stroke-width="1.2"/>
<defs>
<linearGradient id="gor" x1="0" y1="0" x2="0" y2="1"><stop offset="0" stop-color="#fab448"/><stop offset="0.25" stop-color="#fbbc58"/><stop offset="1" stop-color="#fff6e6"/></linearGradient>
<linearGradient id="gbl" x1="0" y1="0" x2="0" y2="1"><stop offset="0" stop-color="#78b6f8"/><stop offset="0.25" stop-color="#84bcf8"/><stop offset="1" stop-color="#eaf4fe"/></linearGradient>
<linearGradient id="ggr" x1="0" y1="0" x2="0" y2="1"><stop offset="0" stop-color="#6cc88a"/><stop offset="0.25" stop-color="#78cc94"/><stop offset="1" stop-color="#eef8f1"/></linearGradient>
<linearGradient id="grd" x1="0" y1="0" x2="0" y2="1"><stop offset="0" stop-color="#ff7a78"/><stop offset="0.25" stop-color="#ff8482"/><stop offset="1" stop-color="#ffeaea"/></linearGradient>
</defs>
<text x="16.8" y="667.5" font-size="18.5" font-weight="bold" stroke="#000" stroke-width="0.1">g</text>
<line x1="50.8" y1="834.8" x2="55.8" y2="834.8" stroke="#000" stroke-width="1"/>
<text x="47" y="839.3" font-size="12.5" text-anchor="end" fill="#1a1a1a" stroke="#1a1a1a" stroke-width="0.3">0</text>
<line x1="50.8" y1="809.92" x2="55.8" y2="809.92" stroke="#000" stroke-width="1"/>
<text x="47" y="814.42" font-size="12.5" text-anchor="end" fill="#1a1a1a" stroke="#1a1a1a" stroke-width="0.3">20</text>
<line x1="50.8" y1="785.04" x2="55.8" y2="785.04" stroke="#000" stroke-width="1"/>
<text x="47" y="789.54" font-size="12.5" text-anchor="end" fill="#1a1a1a" stroke="#1a1a1a" stroke-width="0.3">40</text>
<line x1="50.8" y1="760.16" x2="55.8" y2="760.16" stroke="#000" stroke-width="1"/>
<text x="47" y="764.66" font-size="12.5" text-anchor="end" fill="#1a1a1a" stroke="#1a1a1a" stroke-width="0.3">60</text>
<line x1="50.8" y1="735.28" x2="55.8" y2="735.28" stroke="#000" stroke-width="1"/>
<text x="47" y="739.78" font-size="12.5" text-anchor="end" fill="#1a1a1a" stroke="#1a1a1a" stroke-width="0.3">80</text>
<line x1="50.8" y1="710.4" x2="55.8" y2="710.4" stroke="#000" stroke-width="1"/>
<text x="47" y="714.9" font-size="12.5" text-anchor="end" fill="#1a1a1a" stroke="#1a1a1a" stroke-width="0.3">100</text>
<line x1="53" y1="822.36" x2="55.8" y2="822.36" stroke="#000" stroke-width="0.9"/>
<line x1="53" y1="797.48" x2="55.8" y2="797.48" stroke="#000" stroke-width="0.9"/>
<line x1="53" y1="772.6" x2="55.8" y2="772.6" stroke="#000" stroke-width="0.9"/>
<line x1="53" y1="747.72" x2="55.8" y2="747.72" stroke="#000" stroke-width="0.9"/>
<line x1="53" y1="722.84" x2="55.8" y2="722.84" stroke="#000" stroke-width="0.9"/>
<text x="0" y="0" font-size="12.8" text-anchor="middle" fill="#1a1a1a" transform="translate(15.5 749) rotate(-90)" stroke="#1a1a1a" stroke-width="0.3">Removal efficiency (%)</text>
<line x1="642.3" y1="703.9" x2="646.8" y2="703.9" stroke="#000" stroke-width="1"/>
<text x="650.3" y="708.4" font-size="12.5" fill="#1a1a1a" stroke="#1a1a1a" stroke-width="0.3">1</text>
<line x1="642.3" y1="682.7" x2="646.8" y2="682.7" stroke="#000" stroke-width="1"/>
<text x="650.3" y="687.2" font-size="12.5" fill="#1a1a1a" stroke="#1a1a1a" stroke-width="0.3">2</text>
<line x1="642.3" y1="660.8" x2="646.8" y2="660.8" stroke="#000" stroke-width="1"/>
<text x="650.3" y="665.3" font-size="12.5" fill="#1a1a1a" stroke="#1a1a1a" stroke-width="0.3">3</text>
<line x1="642.3" y1="693.3" x2="644.8" y2="693.3" stroke="#000" stroke-width="0.9"/>
<line x1="642.3" y1="671.7" x2="644.8" y2="671.7" stroke="#000" stroke-width="0.9"/>
<text x="615.5" y="658" font-size="11.8" fill="#1a1a1a" stroke="#1a1a1a" stroke-width="0.3">&#215;10<tspan font-size="8.8" dy="-5">5</tspan></text>
<text x="0" y="0" font-size="12.4" fill="#1a1a1a" text-anchor="middle" transform="translate(679.8 749.5) rotate(-90)" stroke="#1a1a1a" stroke-width="0.3"><tspan font-style="italic">k</tspan><tspan font-size="8.2" dy="2.5">per-site</tspan><tspan dy="-2.5"> (min</tspan><tspan font-size="8.2" dy="-4.5">&#8722;1</tspan><tspan dy="4.5">mol</tspan><tspan font-size="8.2" dy="-4.5">&#8722;1</tspan><tspan dy="4.5">)</tspan></text>
<rect x="86.5" y="717.62" width="21" height="117.18" fill="url(#gor)" stroke="#f5a020" stroke-width="1.3"/>
<rect x="107.5" y="714.63" width="21" height="120.17" fill="url(#gor)" stroke="#f5a020" stroke-width="1.3"/>
<rect x="128.5" y="713.51" width="21" height="121.29" fill="url(#gor)" stroke="#f5a020" stroke-width="1.3"/>
<rect x="149.5" y="717.24" width="21" height="117.56" fill="url(#gor)" stroke="#f5a020" stroke-width="1.3"/>
<rect x="170.5" y="720.23" width="21" height="114.57" fill="url(#gor)" stroke="#f5a020" stroke-width="1.3"/>
<ellipse cx="97" cy="717.92" rx="2.2" ry="2.6" fill="#d4d4d4" stroke="#9a9a9a" stroke-width="0.6"/>
<ellipse cx="118" cy="714.93" rx="2.2" ry="2.6" fill="#d4d4d4" stroke="#9a9a9a" stroke-width="0.6"/>
<ellipse cx="139" cy="713.81" rx="2.2" ry="2.6" fill="#d4d4d4" stroke="#9a9a9a" stroke-width="0.6"/>
<ellipse cx="160" cy="717.54" rx="2.2" ry="2.6" fill="#d4d4d4" stroke="#9a9a9a" stroke-width="0.6"/>
<ellipse cx="181" cy="720.53" rx="2.2" ry="2.6" fill="#d4d4d4" stroke="#9a9a9a" stroke-width="0.6"/>
<text x="0" y="0" font-size="12.4" text-anchor="end" fill="#1a1a1a" transform="translate(102 851) rotate(-45)" stroke="#1a1a1a" stroke-width="0.3">pH 3</text>
<text x="0" y="0" font-size="12.4" text-anchor="end" fill="#1a1a1a" transform="translate(123 851) rotate(-45)" stroke="#1a1a1a" stroke-width="0.3">pH 5</text>
<text x="0" y="0" font-size="12.4" text-anchor="end" fill="#1a1a1a" transform="translate(144 851) rotate(-45)" stroke="#1a1a1a" stroke-width="0.3">pH 7</text>
<text x="0" y="0" font-size="12.4" text-anchor="end" fill="#1a1a1a" transform="translate(165 851) rotate(-45)" stroke="#1a1a1a" stroke-width="0.3">pH 9</text>
<text x="0" y="0" font-size="12.4" text-anchor="end" fill="#1a1a1a" transform="translate(186 851) rotate(-45)" stroke="#1a1a1a" stroke-width="0.3">pH 11</text>
<circle cx="97.2" cy="681.6" r="5.6" fill="#fde0a8" stroke="#f5a020" stroke-width="1.5"/>
<line x1="92.2" y1="681.6" x2="102.2" y2="681.6" stroke="#f5a020" stroke-width="1"/>
<line x1="97.2" y1="676.6" x2="97.2" y2="686.6" stroke="#f5a020" stroke-width="1"/>
<circle cx="118.2" cy="682" r="5.6" fill="#fde0a8" stroke="#f5a020" stroke-width="1.5"/>
<line x1="113.2" y1="682" x2="123.2" y2="682" stroke="#f5a020" stroke-width="1"/>
<line x1="118.2" y1="677" x2="118.2" y2="687" stroke="#f5a020" stroke-width="1"/>
<circle cx="139.2" cy="679.9" r="5.6" fill="#fde0a8" stroke="#f5a020" stroke-width="1.5"/>
<line x1="134.2" y1="679.9" x2="144.2" y2="679.9" stroke="#f5a020" stroke-width="1"/>
<line x1="139.2" y1="674.9" x2="139.2" y2="684.9" stroke="#f5a020" stroke-width="1"/>
<circle cx="160.1" cy="683.4" r="5.6" fill="#fde0a8" stroke="#f5a020" stroke-width="1.5"/>
<line x1="155.1" y1="683.4" x2="165.1" y2="683.4" stroke="#f5a020" stroke-width="1"/>
<line x1="160.1" y1="678.4" x2="160.1" y2="688.4" stroke="#f5a020" stroke-width="1"/>
<circle cx="181.1" cy="682.9" r="5.6" fill="#fde0a8" stroke="#f5a020" stroke-width="1.5"/>
<line x1="176.1" y1="682.9" x2="186.1" y2="682.9" stroke="#f5a020" stroke-width="1"/>
<line x1="181.1" y1="677.9" x2="181.1" y2="687.9" stroke="#f5a020" stroke-width="1"/>
<rect x="233.5" y="714.13" width="21" height="120.67" fill="url(#gbl)" stroke="#1a8ce0" stroke-width="1.3"/>
<rect x="254.5" y="715.25" width="21" height="119.55" fill="url(#gbl)" stroke="#1a8ce0" stroke-width="1.3"/>
<rect x="275.5" y="719.36" width="21" height="115.44" fill="url(#gbl)" stroke="#1a8ce0" stroke-width="1.3"/>
<rect x="296.5" y="719.73" width="21" height="115.07" fill="url(#gbl)" stroke="#1a8ce0" stroke-width="1.3"/>
<rect x="317.5" y="716.87" width="21" height="117.93" fill="url(#gbl)" stroke="#1a8ce0" stroke-width="1.3"/>
<ellipse cx="244" cy="714.43" rx="2.2" ry="2.6" fill="#d4d4d4" stroke="#9a9a9a" stroke-width="0.6"/>
<ellipse cx="265" cy="715.55" rx="2.2" ry="2.6" fill="#d4d4d4" stroke="#9a9a9a" stroke-width="0.6"/>
<ellipse cx="286" cy="719.66" rx="2.2" ry="2.6" fill="#d4d4d4" stroke="#9a9a9a" stroke-width="0.6"/>
<ellipse cx="307" cy="720.03" rx="2.2" ry="2.6" fill="#d4d4d4" stroke="#9a9a9a" stroke-width="0.6"/>
<ellipse cx="328" cy="717.17" rx="2.2" ry="2.6" fill="#d4d4d4" stroke="#9a9a9a" stroke-width="0.6"/>
<text x="0" y="0" font-size="12.4" text-anchor="end" fill="#1a1a1a" transform="translate(249 851) rotate(-45)" stroke="#1a1a1a" stroke-width="0.3">Cl<tspan font-size="8" dy="-5">&#8211;</tspan></text>
<text x="0" y="0" font-size="12.4" text-anchor="end" fill="#1a1a1a" transform="translate(270 851) rotate(-45)" stroke="#1a1a1a" stroke-width="0.3">NO<tspan font-size="8" dy="2.5">3</tspan><tspan font-size="8" dy="-7.5">&#8211;</tspan></text>
<text x="0" y="0" font-size="12.4" text-anchor="end" fill="#1a1a1a" transform="translate(291 851) rotate(-45)" stroke="#1a1a1a" stroke-width="0.3">HCO<tspan font-size="8" dy="2.5">3</tspan><tspan font-size="8" dy="-7.5">&#8211;</tspan></text>
<text x="0" y="0" font-size="12.4" text-anchor="end" fill="#1a1a1a" transform="translate(312 851) rotate(-45)" stroke="#1a1a1a" stroke-width="0.3">H<tspan font-size="8" dy="2.5">2</tspan><tspan dy="-2.5">PO</tspan><tspan font-size="8" dy="2.5">4</tspan><tspan font-size="8" dy="-7.5">&#8211;</tspan></text>
<text x="0" y="0" font-size="12.4" text-anchor="end" fill="#1a1a1a" transform="translate(333 851) rotate(-45)" stroke="#1a1a1a" stroke-width="0.3">HA</text>
<polygon points="244,672.2 250.6,685 237.4,685" fill="#d2eafc" stroke="#1a9ae6" stroke-width="1.5"/>
<line x1="244" y1="673.2" x2="244" y2="685" stroke="#1a9ae6" stroke-width="0.9"/>
<line x1="240.2" y1="681" x2="247.8" y2="681" stroke="#1a9ae6" stroke-width="0.9"/>
<polygon points="264.8,673 271.4,685.8 258.2,685.8" fill="#d2eafc" stroke="#1a9ae6" stroke-width="1.5"/>
<line x1="264.8" y1="674" x2="264.8" y2="685.8" stroke="#1a9ae6" stroke-width="0.9"/>
<line x1="261" y1="681.8" x2="268.6" y2="681.8" stroke="#1a9ae6" stroke-width="0.9"/>
<polygon points="285.8,675.5 292.4,688.3 279.2,688.3" fill="#d2eafc" stroke="#1a9ae6" stroke-width="1.5"/>
<line x1="285.8" y1="676.5" x2="285.8" y2="688.3" stroke="#1a9ae6" stroke-width="0.9"/>
<line x1="282" y1="684.3" x2="289.6" y2="684.3" stroke="#1a9ae6" stroke-width="0.9"/>
<polygon points="306.6,675.5 313.2,688.3 300,688.3" fill="#d2eafc" stroke="#1a9ae6" stroke-width="1.5"/>
<line x1="306.6" y1="676.5" x2="306.6" y2="688.3" stroke="#1a9ae6" stroke-width="0.9"/>
<line x1="302.8" y1="684.3" x2="310.4" y2="684.3" stroke="#1a9ae6" stroke-width="0.9"/>
<polygon points="327.5,674.5 334.1,687.3 320.9,687.3" fill="#d2eafc" stroke="#1a9ae6" stroke-width="1.5"/>
<line x1="327.5" y1="675.5" x2="327.5" y2="687.3" stroke="#1a9ae6" stroke-width="0.9"/>
<line x1="323.7" y1="683.3" x2="331.3" y2="683.3" stroke="#1a9ae6" stroke-width="0.9"/>
<rect x="379.9" y="714.26" width="21" height="120.54" fill="url(#ggr)" stroke="#3cb864" stroke-width="1.3"/>
<rect x="400.9" y="716.99" width="21" height="117.81" fill="url(#ggr)" stroke="#3cb864" stroke-width="1.3"/>
<rect x="421.9" y="723.46" width="21" height="111.34" fill="url(#ggr)" stroke="#3cb864" stroke-width="1.3"/>
<rect x="442.9" y="726.2" width="21" height="108.6" fill="url(#ggr)" stroke="#3cb864" stroke-width="1.3"/>
<ellipse cx="390.4" cy="714.56" rx="2.2" ry="2.6" fill="#d4d4d4" stroke="#9a9a9a" stroke-width="0.6"/>
<ellipse cx="411.4" cy="717.29" rx="2.2" ry="2.6" fill="#d4d4d4" stroke="#9a9a9a" stroke-width="0.6"/>
<ellipse cx="432.4" cy="723.76" rx="2.2" ry="2.6" fill="#d4d4d4" stroke="#9a9a9a" stroke-width="0.6"/>
<ellipse cx="453.4" cy="726.5" rx="2.2" ry="2.6" fill="#d4d4d4" stroke="#9a9a9a" stroke-width="0.6"/>
<text x="0" y="0" font-size="12.4" text-anchor="end" fill="#1a1a1a" transform="translate(395.4 851) rotate(-45)" stroke="#1a1a1a" stroke-width="0.3">Tap water</text>
<text x="0" y="0" font-size="12.4" text-anchor="end" fill="#1a1a1a" transform="translate(416.4 851) rotate(-45)" stroke="#1a1a1a" stroke-width="0.3">Lake water</text>
<text x="0" y="0" font-size="12.4" text-anchor="end" fill="#1a1a1a" transform="translate(437.4 851) rotate(-45)" stroke="#1a1a1a" stroke-width="0.3">Groundwater</text>
<text x="0" y="0" font-size="12.4" text-anchor="end" fill="#1a1a1a" transform="translate(458.4 851) rotate(-45)" stroke="#1a1a1a" stroke-width="0.3">Wastewater</text>
<polygon points="390.6,675.3 397.8,682.5 390.6,689.7 383.4,682.5" fill="#e6f5ea" stroke="#3cb864" stroke-width="1.5"/>
<line x1="390.6" y1="676" x2="390.6" y2="689" stroke="#3cb864" stroke-width="0.9"/>
<line x1="384.1" y1="682.5" x2="397.1" y2="682.5" stroke="#3cb864" stroke-width="0.9"/>
<polygon points="411.4,676.9 418.6,684.1 411.4,691.3 404.2,684.1" fill="#e6f5ea" stroke="#3cb864" stroke-width="1.5"/>
<line x1="411.4" y1="677.6" x2="411.4" y2="690.6" stroke="#3cb864" stroke-width="0.9"/>
<line x1="404.9" y1="684.1" x2="417.9" y2="684.1" stroke="#3cb864" stroke-width="0.9"/>
<polygon points="432.3,678.5 439.5,685.7 432.3,692.9 425.1,685.7" fill="#e6f5ea" stroke="#3cb864" stroke-width="1.5"/>
<line x1="432.3" y1="679.2" x2="432.3" y2="692.2" stroke="#3cb864" stroke-width="0.9"/>
<line x1="425.8" y1="685.7" x2="438.8" y2="685.7" stroke="#3cb864" stroke-width="0.9"/>
<polygon points="453.2,678.2 460.4,685.4 453.2,692.6 446,685.4" fill="#e6f5ea" stroke="#3cb864" stroke-width="1.5"/>
<line x1="453.2" y1="678.9" x2="453.2" y2="691.9" stroke="#3cb864" stroke-width="0.9"/>
<line x1="446.7" y1="685.4" x2="459.7" y2="685.4" stroke="#3cb864" stroke-width="0.9"/>
<rect x="505.4" y="715.75" width="21" height="119.05" fill="url(#grd)" stroke="#f04848" stroke-width="1.3"/>
<rect x="526.4" y="718.11" width="21" height="116.69" fill="url(#grd)" stroke="#f04848" stroke-width="1.3"/>
<rect x="547.4" y="721.1" width="21" height="113.7" fill="url(#grd)" stroke="#f04848" stroke-width="1.3"/>
<rect x="568.4" y="723.21" width="21" height="111.59" fill="url(#grd)" stroke="#f04848" stroke-width="1.3"/>
<rect x="589.4" y="724.71" width="21" height="110.09" fill="url(#grd)" stroke="#f04848" stroke-width="1.3"/>
<ellipse cx="515.9" cy="716.05" rx="2.2" ry="2.6" fill="#d4d4d4" stroke="#9a9a9a" stroke-width="0.6"/>
<ellipse cx="536.9" cy="718.41" rx="2.2" ry="2.6" fill="#d4d4d4" stroke="#9a9a9a" stroke-width="0.6"/>
<ellipse cx="557.9" cy="721.4" rx="2.2" ry="2.6" fill="#d4d4d4" stroke="#9a9a9a" stroke-width="0.6"/>
<ellipse cx="578.9" cy="723.51" rx="2.2" ry="2.6" fill="#d4d4d4" stroke="#9a9a9a" stroke-width="0.6"/>
<ellipse cx="599.9" cy="725.01" rx="2.2" ry="2.6" fill="#d4d4d4" stroke="#9a9a9a" stroke-width="0.6"/>
<text x="0" y="0" font-size="12.4" text-anchor="end" fill="#1a1a1a" transform="translate(520.9 851) rotate(-45)" stroke="#1a1a1a" stroke-width="0.3">1 st</text>
<text x="0" y="0" font-size="12.4" text-anchor="end" fill="#1a1a1a" transform="translate(541.9 851) rotate(-45)" stroke="#1a1a1a" stroke-width="0.3">2 nd</text>
<text x="0" y="0" font-size="12.4" text-anchor="end" fill="#1a1a1a" transform="translate(562.9 851) rotate(-45)" stroke="#1a1a1a" stroke-width="0.3">3 rd</text>
<text x="0" y="0" font-size="12.4" text-anchor="end" fill="#1a1a1a" transform="translate(583.9 851) rotate(-45)" stroke="#1a1a1a" stroke-width="0.3">4 th</text>
<text x="0" y="0" font-size="12.4" text-anchor="end" fill="#1a1a1a" transform="translate(604.9 851) rotate(-45)" stroke="#1a1a1a" stroke-width="0.3">5 th</text>
<polygon points="524.8,681.4 512.4,674.2 512.4,688.6" fill="#fde0e0" stroke="#f04848" stroke-width="1.5"/>
<line x1="512.4" y1="681.4" x2="524.8" y2="681.4" stroke="#f04848" stroke-width="0.9"/>
<line x1="516.5" y1="676.8" x2="516.5" y2="686" stroke="#f04848" stroke-width="0.9"/>
<polygon points="545.8,683.9 533.4,676.7 533.4,691.1" fill="#fde0e0" stroke="#f04848" stroke-width="1.5"/>
<line x1="533.4" y1="683.9" x2="545.8" y2="683.9" stroke="#f04848" stroke-width="0.9"/>
<line x1="537.5" y1="679.3" x2="537.5" y2="688.5" stroke="#f04848" stroke-width="0.9"/>
<polygon points="566.8,685.7 554.4,678.5 554.4,692.9" fill="#fde0e0" stroke="#f04848" stroke-width="1.5"/>
<line x1="554.4" y1="685.7" x2="566.8" y2="685.7" stroke="#f04848" stroke-width="0.9"/>
<line x1="558.5" y1="681.1" x2="558.5" y2="690.3" stroke="#f04848" stroke-width="0.9"/>
<polygon points="587.8,687.4 575.4,680.2 575.4,694.6" fill="#fde0e0" stroke="#f04848" stroke-width="1.5"/>
<line x1="575.4" y1="687.4" x2="587.8" y2="687.4" stroke="#f04848" stroke-width="0.9"/>
<line x1="579.5" y1="682.8" x2="579.5" y2="692" stroke="#f04848" stroke-width="0.9"/>
<polygon points="608.8,689.2 596.4,682 596.4,696.4" fill="#fde0e0" stroke="#f04848" stroke-width="1.5"/>
<line x1="596.4" y1="689.2" x2="608.8" y2="689.2" stroke="#f04848" stroke-width="0.9"/>
<line x1="600.5" y1="684.6" x2="600.5" y2="693.8" stroke="#f04848" stroke-width="0.9"/>
<rect x="55.8" y="660.8" width="586.5" height="174" fill="none" stroke="#000" stroke-width="1.2"/>
<defs>
<linearGradient id="hbl" x1="0" y1="0" x2="0" y2="1"><stop offset="0" stop-color="#1a90e8"/><stop offset="0.35" stop-color="#4aa8f0"/><stop offset="1" stop-color="#dcf2fd"/></linearGradient>
<linearGradient id="hrd" x1="0" y1="0" x2="0" y2="1"><stop offset="0" stop-color="#fc3c3c"/><stop offset="1" stop-color="#fdd4d4"/></linearGradient>
<linearGradient id="hpk" x1="0" y1="0" x2="1" y2="0"><stop offset="0" stop-color="#e04078"/><stop offset="1" stop-color="#f08cb0"/></linearGradient>
<radialGradient id="ac" cx="0.35" cy="0.35" r="0.65"><stop offset="0" stop-color="#d8d8d8"/><stop offset="1" stop-color="#686868"/></radialGradient>
<radialGradient id="ah" cx="0.35" cy="0.35" r="0.65"><stop offset="0" stop-color="#ffffff"/><stop offset="1" stop-color="#b8b8b8"/></radialGradient>
<radialGradient id="ao" cx="0.35" cy="0.35" r="0.65"><stop offset="0" stop-color="#ff8080"/><stop offset="1" stop-color="#d00000"/></radialGradient>
<radialGradient id="acl" cx="0.35" cy="0.35" r="0.65"><stop offset="0" stop-color="#90ff90"/><stop offset="1" stop-color="#10b010"/></radialGradient>
<radialGradient id="an" cx="0.35" cy="0.35" r="0.65"><stop offset="0" stop-color="#8090ff"/><stop offset="1" stop-color="#1830d0"/></radialGradient>
<radialGradient id="as" cx="0.35" cy="0.35" r="0.65"><stop offset="0" stop-color="#ffff90"/><stop offset="1" stop-color="#d0c000"/></radialGradient>
<radialGradient id="af" cx="0.35" cy="0.35" r="0.65"><stop offset="0" stop-color="#d0ff90"/><stop offset="1" stop-color="#70c020"/></radialGradient>
</defs>
<text x="14" y="926.8" font-size="17.5" font-weight="bold" stroke="#000" stroke-width="0.1">h</text>
<line x1="50.4" y1="1135.8" x2="56.4" y2="1135.8" stroke="#000" stroke-width="1"/>
<text x="46.4" y="1140.2" font-size="12.2" text-anchor="end" fill="#1a1a1a" stroke="#1a1a1a" stroke-width="0.3">0</text>
<line x1="50.4" y1="1085.7" x2="56.4" y2="1085.7" stroke="#000" stroke-width="1"/>
<text x="46.4" y="1090.1" font-size="12.2" text-anchor="end" fill="#1a1a1a" stroke="#1a1a1a" stroke-width="0.3">4</text>
<line x1="50.4" y1="1035.6" x2="56.4" y2="1035.6" stroke="#000" stroke-width="1"/>
<text x="46.4" y="1040" font-size="12.2" text-anchor="end" fill="#1a1a1a" stroke="#1a1a1a" stroke-width="0.3">8</text>
<line x1="50.4" y1="985.5" x2="56.4" y2="985.5" stroke="#000" stroke-width="1"/>
<text x="46.4" y="989.9" font-size="12.2" text-anchor="end" fill="#1a1a1a" stroke="#1a1a1a" stroke-width="0.3">12</text>
<line x1="50.4" y1="935.4" x2="56.4" y2="935.4" stroke="#000" stroke-width="1"/>
<text x="46.4" y="939.8" font-size="12.2" text-anchor="end" fill="#1a1a1a" stroke="#1a1a1a" stroke-width="0.3">16</text>
<line x1="53.4" y1="1110.75" x2="56.4" y2="1110.75" stroke="#000" stroke-width="0.9"/>
<line x1="53.4" y1="1060.65" x2="56.4" y2="1060.65" stroke="#000" stroke-width="0.9"/>
<line x1="53.4" y1="1010.55" x2="56.4" y2="1010.55" stroke="#000" stroke-width="0.9"/>
<line x1="53.4" y1="960.45" x2="56.4" y2="960.45" stroke="#000" stroke-width="0.9"/>
<text x="56.5" y="932.5" font-size="11" fill="#1a1a1a" stroke="#1a1a1a" stroke-width="0.3">&#215;10<tspan font-size="7.5" dy="-4.5">3</tspan></text>
<text x="0" y="0" font-size="12.2" fill="#1a1a1a" text-anchor="middle" transform="translate(18.8 1036) rotate(-90)" stroke="#1a1a1a" stroke-width="0.3"><tspan font-style="italic">k</tspan><tspan font-size="7.5" dy="2.5">per-site</tspan><tspan dy="-2.5"> (min</tspan><tspan font-size="7.5" dy="-4">&#8722;1</tspan><tspan dy="4">mol</tspan><tspan font-size="7.5" dy="-4">&#8722;1</tspan><tspan dy="4">)</tspan></text>
<rect x="67.5" y="941" width="24.7" height="11.7" fill="url(#hbl)" stroke="#222" stroke-width="0.9"/>
<rect x="67.5" y="954.6" width="24.7" height="11.7" fill="url(#hrd)" stroke="#222" stroke-width="0.9"/>
<text x="95.5" y="951" font-size="11.4" fill="#1a1a1a" stroke="#1a1a1a" stroke-width="0.3">Fe&#8211;N&#8211;C</text>
<text x="95.5" y="964.5" font-size="11.4" fill="#1a1a1a" stroke="#1a1a1a" stroke-width="0.3">FeBi&#8211;N&#8211;C</text>
<rect x="59.5" y="1129.54" width="20.6" height="6.26" fill="url(#hbl)" stroke="#1a1a1a" stroke-width="0.9"/>
<rect x="80.1" y="1108.87" width="21.4" height="26.93" fill="url(#hrd)" stroke="#1a1a1a" stroke-width="0.9"/>
<line x1="69.8" y1="1127.66" x2="69.8" y2="1131.42" stroke="#111" stroke-width="0.8"/>
<line x1="67.3" y1="1127.66" x2="72.3" y2="1127.66" stroke="#111" stroke-width="0.8"/>
<line x1="67.3" y1="1131.42" x2="72.3" y2="1131.42" stroke="#111" stroke-width="0.8"/>
<line x1="90.8" y1="1107.37" x2="90.8" y2="1110.37" stroke="#111" stroke-width="0.8"/>
<line x1="88.3" y1="1107.37" x2="93.3" y2="1107.37" stroke="#111" stroke-width="0.8"/>
<line x1="88.3" y1="1110.37" x2="93.3" y2="1110.37" stroke="#111" stroke-width="0.8"/>
<circle cx="79.6" cy="1131.04" r="1.8" fill="#9ad2f6" stroke="#6ab8f0" stroke-width="0.4"/>
<circle cx="81.9" cy="1110.37" r="1.8" fill="#f6b0b0" stroke="#f08888" stroke-width="0.4"/>
<circle cx="79.6" cy="1128.91" r="1.8" fill="#9ad2f6" stroke="#6ab8f0" stroke-width="0.4"/>
<circle cx="81.9" cy="1108.24" r="1.8" fill="#f6b0b0" stroke="#f08888" stroke-width="0.4"/>
<circle cx="79.6" cy="1127.03" r="1.8" fill="#9ad2f6" stroke="#6ab8f0" stroke-width="0.4"/>
<circle cx="81.9" cy="1106.37" r="1.8" fill="#f6b0b0" stroke="#f08888" stroke-width="0.4"/>
<text x="0" y="0" font-size="12.2" text-anchor="end" fill="#1a1a1a" transform="translate(87.1 1152.5) rotate(-30)" stroke="#1a1a1a" stroke-width="0.3">Phenol</text>
<rect x="108.3" y="1130.16" width="20.6" height="5.64" fill="url(#hbl)" stroke="#1a1a1a" stroke-width="0.9"/>
<rect x="128.9" y="1122.02" width="21.4" height="13.78" fill="url(#hrd)" stroke="#1a1a1a" stroke-width="0.9"/>
<line x1="118.6" y1="1128.91" x2="118.6" y2="1131.42" stroke="#111" stroke-width="0.8"/>
<line x1="116.1" y1="1128.91" x2="121.1" y2="1128.91" stroke="#111" stroke-width="0.8"/>
<line x1="116.1" y1="1131.42" x2="121.1" y2="1131.42" stroke="#111" stroke-width="0.8"/>
<line x1="139.6" y1="1118.26" x2="139.6" y2="1125.78" stroke="#111" stroke-width="0.8"/>
<line x1="137.1" y1="1118.26" x2="142.1" y2="1118.26" stroke="#111" stroke-width="0.8"/>
<line x1="137.1" y1="1125.78" x2="142.1" y2="1125.78" stroke="#111" stroke-width="0.8"/>
<circle cx="128.4" cy="1131.67" r="1.8" fill="#9ad2f6" stroke="#6ab8f0" stroke-width="0.4"/>
<circle cx="130.7" cy="1123.53" r="1.8" fill="#f6b0b0" stroke="#f08888" stroke-width="0.4"/>
<circle cx="128.4" cy="1129.54" r="1.8" fill="#9ad2f6" stroke="#6ab8f0" stroke-width="0.4"/>
<circle cx="130.7" cy="1121.4" r="1.8" fill="#f6b0b0" stroke="#f08888" stroke-width="0.4"/>
<circle cx="128.4" cy="1127.66" r="1.8" fill="#9ad2f6" stroke="#6ab8f0" stroke-width="0.4"/>
<circle cx="130.7" cy="1119.52" r="1.8" fill="#f6b0b0" stroke="#f08888" stroke-width="0.4"/>
<text x="0" y="0" font-size="12.2" text-anchor="end" fill="#1a1a1a" transform="translate(135.9 1152.5) rotate(-30)" stroke="#1a1a1a" stroke-width="0.3">Bisphenol A</text>
<rect x="157.1" y="1128.54" width="20.6" height="7.26" fill="url(#hbl)" stroke="#1a1a1a" stroke-width="0.9"/>
<rect x="177.7" y="1108.87" width="21.4" height="26.93" fill="url(#hrd)" stroke="#1a1a1a" stroke-width="0.9"/>
<line x1="167.4" y1="1125.4" x2="167.4" y2="1131.67" stroke="#111" stroke-width="0.8"/>
<line x1="164.9" y1="1125.4" x2="169.9" y2="1125.4" stroke="#111" stroke-width="0.8"/>
<line x1="164.9" y1="1131.67" x2="169.9" y2="1131.67" stroke="#111" stroke-width="0.8"/>
<line x1="188.4" y1="1105.11" x2="188.4" y2="1112.63" stroke="#111" stroke-width="0.8"/>
<line x1="185.9" y1="1105.11" x2="190.9" y2="1105.11" stroke="#111" stroke-width="0.8"/>
<line x1="185.9" y1="1112.63" x2="190.9" y2="1112.63" stroke="#111" stroke-width="0.8"/>
<circle cx="177.2" cy="1130.04" r="1.8" fill="#9ad2f6" stroke="#6ab8f0" stroke-width="0.4"/>
<circle cx="179.5" cy="1110.37" r="1.8" fill="#f6b0b0" stroke="#f08888" stroke-width="0.4"/>
<circle cx="177.2" cy="1127.91" r="1.8" fill="#9ad2f6" stroke="#6ab8f0" stroke-width="0.4"/>
<circle cx="179.5" cy="1108.24" r="1.8" fill="#f6b0b0" stroke="#f08888" stroke-width="0.4"/>
<circle cx="177.2" cy="1126.03" r="1.8" fill="#9ad2f6" stroke="#6ab8f0" stroke-width="0.4"/>
<circle cx="179.5" cy="1106.37" r="1.8" fill="#f6b0b0" stroke="#f08888" stroke-width="0.4"/>
<text x="0" y="0" font-size="12.2" text-anchor="end" fill="#1a1a1a" transform="translate(184.7 1152.5) rotate(-30)" stroke="#1a1a1a" stroke-width="0.3">4-Chlorophenol</text>
<rect x="205.9" y="1108.24" width="20.6" height="27.56" fill="url(#hbl)" stroke="#1a1a1a" stroke-width="0.9"/>
<rect x="226.5" y="1081.57" width="21.4" height="54.23" fill="url(#hrd)" stroke="#1a1a1a" stroke-width="0.9"/>
<line x1="216.2" y1="1107.24" x2="216.2" y2="1109.25" stroke="#111" stroke-width="0.8"/>
<line x1="213.7" y1="1107.24" x2="218.7" y2="1107.24" stroke="#111" stroke-width="0.8"/>
<line x1="213.7" y1="1109.25" x2="218.7" y2="1109.25" stroke="#111" stroke-width="0.8"/>
<line x1="237.2" y1="1079.69" x2="237.2" y2="1083.45" stroke="#111" stroke-width="0.8"/>
<line x1="234.7" y1="1079.69" x2="239.7" y2="1079.69" stroke="#111" stroke-width="0.8"/>
<line x1="234.7" y1="1083.45" x2="239.7" y2="1083.45" stroke="#111" stroke-width="0.8"/>
<circle cx="226" cy="1109.75" r="1.8" fill="#9ad2f6" stroke="#6ab8f0" stroke-width="0.4"/>
<circle cx="228.3" cy="1083.07" r="1.8" fill="#f6b0b0" stroke="#f08888" stroke-width="0.4"/>
<circle cx="226" cy="1107.62" r="1.8" fill="#9ad2f6" stroke="#6ab8f0" stroke-width="0.4"/>
<circle cx="228.3" cy="1080.94" r="1.8" fill="#f6b0b0" stroke="#f08888" stroke-width="0.4"/>
<circle cx="226" cy="1105.74" r="1.8" fill="#9ad2f6" stroke="#6ab8f0" stroke-width="0.4"/>
<circle cx="228.3" cy="1079.06" r="1.8" fill="#f6b0b0" stroke="#f08888" stroke-width="0.4"/>
<text x="0" y="0" font-size="12.2" text-anchor="end" fill="#1a1a1a" transform="translate(233.5 1152.5) rotate(-30)" stroke="#1a1a1a" stroke-width="0.3">2,4-Dichlorophenol</text>
<rect x="254.7" y="1074.43" width="20.6" height="61.37" fill="url(#hbl)" stroke="#1a1a1a" stroke-width="0.9"/>
<rect x="275.3" y="984.25" width="21.4" height="151.55" fill="url(#hrd)" stroke="#1a1a1a" stroke-width="0.9"/>
<line x1="265" y1="1069.42" x2="265" y2="1079.44" stroke="#111" stroke-width="0.8"/>
<line x1="262.5" y1="1069.42" x2="267.5" y2="1069.42" stroke="#111" stroke-width="0.8"/>
<line x1="262.5" y1="1079.44" x2="267.5" y2="1079.44" stroke="#111" stroke-width="0.8"/>
<line x1="286" y1="981.12" x2="286" y2="987.38" stroke="#111" stroke-width="0.8"/>
<line x1="283.5" y1="981.12" x2="288.5" y2="981.12" stroke="#111" stroke-width="0.8"/>
<line x1="283.5" y1="987.38" x2="288.5" y2="987.38" stroke="#111" stroke-width="0.8"/>
<circle cx="274.8" cy="1075.93" r="1.8" fill="#9ad2f6" stroke="#6ab8f0" stroke-width="0.4"/>
<circle cx="277.1" cy="985.75" r="1.8" fill="#f6b0b0" stroke="#f08888" stroke-width="0.4"/>
<circle cx="274.8" cy="1073.8" r="1.8" fill="#9ad2f6" stroke="#6ab8f0" stroke-width="0.4"/>
<circle cx="277.1" cy="983.62" r="1.8" fill="#f6b0b0" stroke="#f08888" stroke-width="0.4"/>
<circle cx="274.8" cy="1071.92" r="1.8" fill="#9ad2f6" stroke="#6ab8f0" stroke-width="0.4"/>
<circle cx="277.1" cy="981.74" r="1.8" fill="#f6b0b0" stroke="#f08888" stroke-width="0.4"/>
<text x="0" y="0" font-size="12.2" text-anchor="end" fill="#1a1a1a" transform="translate(282.3 1152.5) rotate(-30)" stroke="#1a1a1a" stroke-width="0.3">Tetracycline</text>
<rect x="303.5" y="1131.17" width="20.6" height="4.63" fill="url(#hbl)" stroke="#1a1a1a" stroke-width="0.9"/>
<rect x="324.1" y="1122.77" width="21.4" height="13.03" fill="url(#hrd)" stroke="#1a1a1a" stroke-width="0.9"/>
<line x1="313.8" y1="1130.29" x2="313.8" y2="1132.04" stroke="#111" stroke-width="0.8"/>
<line x1="311.3" y1="1130.29" x2="316.3" y2="1130.29" stroke="#111" stroke-width="0.8"/>
<line x1="311.3" y1="1132.04" x2="316.3" y2="1132.04" stroke="#111" stroke-width="0.8"/>
<line x1="334.8" y1="1119.64" x2="334.8" y2="1125.91" stroke="#111" stroke-width="0.8"/>
<line x1="332.3" y1="1119.64" x2="337.3" y2="1119.64" stroke="#111" stroke-width="0.8"/>
<line x1="332.3" y1="1125.91" x2="337.3" y2="1125.91" stroke="#111" stroke-width="0.8"/>
<circle cx="323.6" cy="1132.67" r="1.8" fill="#9ad2f6" stroke="#6ab8f0" stroke-width="0.4"/>
<circle cx="325.9" cy="1124.28" r="1.8" fill="#f6b0b0" stroke="#f08888" stroke-width="0.4"/>
<circle cx="323.6" cy="1130.54" r="1.8" fill="#9ad2f6" stroke="#6ab8f0" stroke-width="0.4"/>
<circle cx="325.9" cy="1122.15" r="1.8" fill="#f6b0b0" stroke="#f08888" stroke-width="0.4"/>
<circle cx="323.6" cy="1128.66" r="1.8" fill="#9ad2f6" stroke="#6ab8f0" stroke-width="0.4"/>
<circle cx="325.9" cy="1120.27" r="1.8" fill="#f6b0b0" stroke="#f08888" stroke-width="0.4"/>
<text x="0" y="0" font-size="12.2" text-anchor="end" fill="#1a1a1a" transform="translate(331.1 1152.5) rotate(-30)" stroke="#1a1a1a" stroke-width="0.3">Sulfamethoxazole</text>
<rect x="352.3" y="1109.25" width="20.6" height="26.55" fill="url(#hbl)" stroke="#1a1a1a" stroke-width="0.9"/>
<rect x="372.9" y="1036.85" width="21.4" height="98.95" fill="url(#hrd)" stroke="#1a1a1a" stroke-width="0.9"/>
<line x1="362.6" y1="1106.12" x2="362.6" y2="1112.38" stroke="#111" stroke-width="0.8"/>
<line x1="360.1" y1="1106.12" x2="365.1" y2="1106.12" stroke="#111" stroke-width="0.8"/>
<line x1="360.1" y1="1112.38" x2="365.1" y2="1112.38" stroke="#111" stroke-width="0.8"/>
<line x1="383.6" y1="1035.6" x2="383.6" y2="1038.11" stroke="#111" stroke-width="0.8"/>
<line x1="381.1" y1="1035.6" x2="386.1" y2="1035.6" stroke="#111" stroke-width="0.8"/>
<line x1="381.1" y1="1038.11" x2="386.1" y2="1038.11" stroke="#111" stroke-width="0.8"/>
<circle cx="372.4" cy="1110.75" r="1.8" fill="#9ad2f6" stroke="#6ab8f0" stroke-width="0.4"/>
<circle cx="374.7" cy="1038.36" r="1.8" fill="#f6b0b0" stroke="#f08888" stroke-width="0.4"/>
<circle cx="372.4" cy="1108.62" r="1.8" fill="#9ad2f6" stroke="#6ab8f0" stroke-width="0.4"/>
<circle cx="374.7" cy="1036.23" r="1.8" fill="#f6b0b0" stroke="#f08888" stroke-width="0.4"/>
<circle cx="372.4" cy="1106.74" r="1.8" fill="#9ad2f6" stroke="#6ab8f0" stroke-width="0.4"/>
<circle cx="374.7" cy="1034.35" r="1.8" fill="#f6b0b0" stroke="#f08888" stroke-width="0.4"/>
<text x="0" y="0" font-size="12.2" text-anchor="end" fill="#1a1a1a" transform="translate(379.9 1152.5) rotate(-30)" stroke="#1a1a1a" stroke-width="0.3">Ciprofloxacin</text>
<rect x="401.1" y="1129.29" width="20.6" height="6.51" fill="url(#hbl)" stroke="#1a1a1a" stroke-width="0.9"/>
<rect x="421.7" y="1108.24" width="21.4" height="27.56" fill="url(#hrd)" stroke="#1a1a1a" stroke-width="0.9"/>
<line x1="411.4" y1="1128.03" x2="411.4" y2="1130.54" stroke="#111" stroke-width="0.8"/>
<line x1="408.9" y1="1128.03" x2="413.9" y2="1128.03" stroke="#111" stroke-width="0.8"/>
<line x1="408.9" y1="1130.54" x2="413.9" y2="1130.54" stroke="#111" stroke-width="0.8"/>
<line x1="432.4" y1="1107.62" x2="432.4" y2="1108.87" stroke="#111" stroke-width="0.8"/>
<line x1="429.9" y1="1107.62" x2="434.9" y2="1107.62" stroke="#111" stroke-width="0.8"/>
<line x1="429.9" y1="1108.87" x2="434.9" y2="1108.87" stroke="#111" stroke-width="0.8"/>
<circle cx="421.2" cy="1130.79" r="1.8" fill="#9ad2f6" stroke="#6ab8f0" stroke-width="0.4"/>
<circle cx="423.5" cy="1109.75" r="1.8" fill="#f6b0b0" stroke="#f08888" stroke-width="0.4"/>
<circle cx="421.2" cy="1128.66" r="1.8" fill="#9ad2f6" stroke="#6ab8f0" stroke-width="0.4"/>
<circle cx="423.5" cy="1107.62" r="1.8" fill="#f6b0b0" stroke="#f08888" stroke-width="0.4"/>
<circle cx="421.2" cy="1126.78" r="1.8" fill="#9ad2f6" stroke="#6ab8f0" stroke-width="0.4"/>
<circle cx="423.5" cy="1105.74" r="1.8" fill="#f6b0b0" stroke="#f08888" stroke-width="0.4"/>
<text x="0" y="0" font-size="12.2" text-anchor="end" fill="#1a1a1a" transform="translate(428.7 1152.5) rotate(-30)" stroke="#1a1a1a" stroke-width="0.3">Ofloxacin</text>
<rect x="449.9" y="1117.26" width="20.6" height="18.54" fill="url(#hbl)" stroke="#1a1a1a" stroke-width="0.9"/>
<rect x="470.5" y="1088.83" width="21.4" height="46.97" fill="url(#hrd)" stroke="#1a1a1a" stroke-width="0.9"/>
<line x1="460.2" y1="1116.26" x2="460.2" y2="1118.26" stroke="#111" stroke-width="0.8"/>
<line x1="457.7" y1="1116.26" x2="462.7" y2="1116.26" stroke="#111" stroke-width="0.8"/>
<line x1="457.7" y1="1118.26" x2="462.7" y2="1118.26" stroke="#111" stroke-width="0.8"/>
<line x1="481.2" y1="1086.33" x2="481.2" y2="1091.34" stroke="#111" stroke-width="0.8"/>
<line x1="478.7" y1="1086.33" x2="483.7" y2="1086.33" stroke="#111" stroke-width="0.8"/>
<line x1="478.7" y1="1091.34" x2="483.7" y2="1091.34" stroke="#111" stroke-width="0.8"/>
<circle cx="470" cy="1118.77" r="1.8" fill="#9ad2f6" stroke="#6ab8f0" stroke-width="0.4"/>
<circle cx="472.3" cy="1090.33" r="1.8" fill="#f6b0b0" stroke="#f08888" stroke-width="0.4"/>
<circle cx="470" cy="1116.64" r="1.8" fill="#9ad2f6" stroke="#6ab8f0" stroke-width="0.4"/>
<circle cx="472.3" cy="1088.2" r="1.8" fill="#f6b0b0" stroke="#f08888" stroke-width="0.4"/>
<circle cx="470" cy="1114.76" r="1.8" fill="#9ad2f6" stroke="#6ab8f0" stroke-width="0.4"/>
<circle cx="472.3" cy="1086.33" r="1.8" fill="#f6b0b0" stroke="#f08888" stroke-width="0.4"/>
<text x="0" y="0" font-size="12.2" text-anchor="end" fill="#1a1a1a" transform="translate(477.5 1152.5) rotate(-30)" stroke="#1a1a1a" stroke-width="0.3">Rhodamine b</text>
<rect x="498.7" y="1104.49" width="20.6" height="31.31" fill="url(#hbl)" stroke="#1a1a1a" stroke-width="0.9"/>
<rect x="519.3" y="1050" width="21.4" height="85.8" fill="url(#hrd)" stroke="#1a1a1a" stroke-width="0.9"/>
<line x1="509" y1="1103.49" x2="509" y2="1105.49" stroke="#111" stroke-width="0.8"/>
<line x1="506.5" y1="1103.49" x2="511.5" y2="1103.49" stroke="#111" stroke-width="0.8"/>
<line x1="506.5" y1="1105.49" x2="511.5" y2="1105.49" stroke="#111" stroke-width="0.8"/>
<line x1="530" y1="1049.25" x2="530" y2="1050.76" stroke="#111" stroke-width="0.8"/>
<line x1="527.5" y1="1049.25" x2="532.5" y2="1049.25" stroke="#111" stroke-width="0.8"/>
<line x1="527.5" y1="1050.76" x2="532.5" y2="1050.76" stroke="#111" stroke-width="0.8"/>
<circle cx="518.8" cy="1105.99" r="1.8" fill="#9ad2f6" stroke="#6ab8f0" stroke-width="0.4"/>
<circle cx="521.1" cy="1051.51" r="1.8" fill="#f6b0b0" stroke="#f08888" stroke-width="0.4"/>
<circle cx="518.8" cy="1103.86" r="1.8" fill="#9ad2f6" stroke="#6ab8f0" stroke-width="0.4"/>
<circle cx="521.1" cy="1049.38" r="1.8" fill="#f6b0b0" stroke="#f08888" stroke-width="0.4"/>
<circle cx="518.8" cy="1101.98" r="1.8" fill="#9ad2f6" stroke="#6ab8f0" stroke-width="0.4"/>
<circle cx="521.1" cy="1047.5" r="1.8" fill="#f6b0b0" stroke="#f08888" stroke-width="0.4"/>
<text x="0" y="0" font-size="12.2" text-anchor="end" fill="#1a1a1a" transform="translate(526.3 1152.5) rotate(-30)" stroke="#1a1a1a" stroke-width="0.3">Acid orange II</text>
<rect x="547.5" y="1125.78" width="20.6" height="10.02" fill="url(#hbl)" stroke="#1a1a1a" stroke-width="0.9"/>
<rect x="568.1" y="1104.49" width="21.4" height="31.31" fill="url(#hrd)" stroke="#1a1a1a" stroke-width="0.9"/>
<line x1="557.8" y1="1125.15" x2="557.8" y2="1126.41" stroke="#111" stroke-width="0.8"/>
<line x1="555.3" y1="1125.15" x2="560.3" y2="1125.15" stroke="#111" stroke-width="0.8"/>
<line x1="555.3" y1="1126.41" x2="560.3" y2="1126.41" stroke="#111" stroke-width="0.8"/>
<line x1="578.8" y1="1101.73" x2="578.8" y2="1107.24" stroke="#111" stroke-width="0.8"/>
<line x1="576.3" y1="1101.73" x2="581.3" y2="1101.73" stroke="#111" stroke-width="0.8"/>
<line x1="576.3" y1="1107.24" x2="581.3" y2="1107.24" stroke="#111" stroke-width="0.8"/>
<circle cx="567.6" cy="1127.28" r="1.8" fill="#9ad2f6" stroke="#6ab8f0" stroke-width="0.4"/>
<circle cx="569.9" cy="1105.99" r="1.8" fill="#f6b0b0" stroke="#f08888" stroke-width="0.4"/>
<circle cx="567.6" cy="1125.15" r="1.8" fill="#9ad2f6" stroke="#6ab8f0" stroke-width="0.4"/>
<circle cx="569.9" cy="1103.86" r="1.8" fill="#f6b0b0" stroke="#f08888" stroke-width="0.4"/>
<circle cx="567.6" cy="1123.27" r="1.8" fill="#9ad2f6" stroke="#6ab8f0" stroke-width="0.4"/>
<circle cx="569.9" cy="1101.98" r="1.8" fill="#f6b0b0" stroke="#f08888" stroke-width="0.4"/>
<text x="0" y="0" font-size="12.2" text-anchor="end" fill="#1a1a1a" transform="translate(575.1 1152.5) rotate(-30)" stroke="#1a1a1a" stroke-width="0.3">Methylene blue</text>
<rect x="596.3" y="1129.54" width="20.6" height="6.26" fill="url(#hbl)" stroke="#1a1a1a" stroke-width="0.9"/>
<rect x="616.9" y="1117.64" width="21.4" height="18.16" fill="url(#hrd)" stroke="#1a1a1a" stroke-width="0.9"/>
<line x1="606.6" y1="1128.54" x2="606.6" y2="1130.54" stroke="#111" stroke-width="0.8"/>
<line x1="604.1" y1="1128.54" x2="609.1" y2="1128.54" stroke="#111" stroke-width="0.8"/>
<line x1="604.1" y1="1130.54" x2="609.1" y2="1130.54" stroke="#111" stroke-width="0.8"/>
<line x1="627.6" y1="1116.14" x2="627.6" y2="1119.14" stroke="#111" stroke-width="0.8"/>
<line x1="625.1" y1="1116.14" x2="630.1" y2="1116.14" stroke="#111" stroke-width="0.8"/>
<line x1="625.1" y1="1119.14" x2="630.1" y2="1119.14" stroke="#111" stroke-width="0.8"/>
<circle cx="616.4" cy="1131.04" r="1.8" fill="#9ad2f6" stroke="#6ab8f0" stroke-width="0.4"/>
<circle cx="618.7" cy="1119.14" r="1.8" fill="#f6b0b0" stroke="#f08888" stroke-width="0.4"/>
<circle cx="616.4" cy="1128.91" r="1.8" fill="#9ad2f6" stroke="#6ab8f0" stroke-width="0.4"/>
<circle cx="618.7" cy="1117.01" r="1.8" fill="#f6b0b0" stroke="#f08888" stroke-width="0.4"/>
<circle cx="616.4" cy="1127.03" r="1.8" fill="#9ad2f6" stroke="#6ab8f0" stroke-width="0.4"/>
<circle cx="618.7" cy="1115.13" r="1.8" fill="#f6b0b0" stroke="#f08888" stroke-width="0.4"/>
<text x="0" y="0" font-size="12.2" text-anchor="end" fill="#1a1a1a" transform="translate(623.9 1152.5) rotate(-30)" stroke="#1a1a1a" stroke-width="0.3">Methyl orange</text>
<rect x="56.4" y="935.4" width="585.9" height="200.4" fill="none" stroke="#000" stroke-width="1.2"/>
<rect x="131.4" y="990.7" width="65" height="19" fill="url(#hpk)"/>
<text x="163.9" y="1004.9" font-size="13.2" text-anchor="middle" font-weight="bold" fill="#fff" stroke="#fff" stroke-width="0.1">Phenols</text>
<rect x="302.3" y="938.2" width="82.8" height="19" fill="url(#hpk)"/>
<text x="343.7" y="952.4" font-size="13.2" text-anchor="middle" font-weight="bold" fill="#fff" stroke="#fff" stroke-width="0.1">Antibiotics</text>
<rect x="497" y="940" width="72.3" height="19" fill="url(#hpk)"/>
<text x="533.15" y="954.2" font-size="13.2" text-anchor="middle" font-weight="bold" fill="#fff" stroke="#fff" stroke-width="0.1">Dyes</text>
<path d="M94,1029.7 L94,1024.5 L233.4,1024.5 L233.4,1029.7" fill="none" stroke="#111" stroke-width="1.3"/>
<path d="M164.2,1024.5 L164.2,1020.5" fill="none" stroke="#111" stroke-width="1.3"/>
<path d="M273.1,975.2 L273.1,970 L412.2,970 L412.2,975.2" fill="none" stroke="#111" stroke-width="1.3"/>
<path d="M342.4,970 L342.4,966" fill="none" stroke="#111" stroke-width="1.3"/>
<path d="M464.2,978.1 L464.2,972.9 L603.6,972.9 L603.6,978.1" fill="none" stroke="#111" stroke-width="1.3"/>
<path d="M533.5,972.9 L533.5,968.9" fill="none" stroke="#111" stroke-width="1.3"/>
<line x1="96.9" y1="1049" x2="106.86" y2="1054.75" stroke="#9a9a9a" stroke-width="1.5"/>
<line x1="106.86" y1="1054.75" x2="106.86" y2="1066.25" stroke="#9a9a9a" stroke-width="1.5"/>
<line x1="106.86" y1="1066.25" x2="96.9" y2="1072" stroke="#9a9a9a" stroke-width="1.5"/>
<line x1="96.9" y1="1072" x2="86.94" y2="1066.25" stroke="#9a9a9a" stroke-width="1.5"/>
<line x1="86.94" y1="1066.25" x2="86.94" y2="1054.75" stroke="#9a9a9a" stroke-width="1.5"/>
<line x1="86.94" y1="1054.75" x2="96.9" y2="1049" stroke="#9a9a9a" stroke-width="1.5"/>
<line x1="106.86" y1="1054.75" x2="111.62" y2="1052" stroke="#9a9a9a" stroke-width="1.5"/>
<line x1="106.86" y1="1066.25" x2="111.62" y2="1069" stroke="#9a9a9a" stroke-width="1.5"/>
<line x1="96.9" y1="1072" x2="96.9" y2="1077.5" stroke="#9a9a9a" stroke-width="1.5"/>
<line x1="86.94" y1="1066.25" x2="82.18" y2="1069" stroke="#9a9a9a" stroke-width="1.5"/>
<line x1="86.94" y1="1054.75" x2="82.18" y2="1052" stroke="#9a9a9a" stroke-width="1.5"/>
<line x1="96.9" y1="1049" x2="97.1" y2="1038.4" stroke="#9a9a9a" stroke-width="1.5"/>
<line x1="97.1" y1="1038.4" x2="89.6" y2="1036.8" stroke="#9a9a9a" stroke-width="1.5"/>
<line x1="136.85" y1="1038.47" x2="141.6" y2="1046.7" stroke="#9a9a9a" stroke-width="1.5"/>
<line x1="141.6" y1="1046.7" x2="136.85" y2="1054.93" stroke="#9a9a9a" stroke-width="1.5"/>
<line x1="136.85" y1="1054.93" x2="127.35" y2="1054.93" stroke="#9a9a9a" stroke-width="1.5"/>
<line x1="127.35" y1="1054.93" x2="122.6" y2="1046.7" stroke="#9a9a9a" stroke-width="1.5"/>
<line x1="122.6" y1="1046.7" x2="127.35" y2="1038.47" stroke="#9a9a9a" stroke-width="1.5"/>
<line x1="127.35" y1="1038.47" x2="136.85" y2="1038.47" stroke="#9a9a9a" stroke-width="1.5"/>
<line x1="141.6" y1="1046.7" x2="146.6" y2="1046.7" stroke="#9a9a9a" stroke-width="1.5"/>
<line x1="136.85" y1="1054.93" x2="139.35" y2="1059.26" stroke="#9a9a9a" stroke-width="1.5"/>
<line x1="127.35" y1="1054.93" x2="124.85" y2="1059.26" stroke="#9a9a9a" stroke-width="1.5"/>
<line x1="127.35" y1="1038.47" x2="124.85" y2="1034.14" stroke="#9a9a9a" stroke-width="1.5"/>
<line x1="122.6" y1="1046.7" x2="122.8" y2="1034.9" stroke="#9a9a9a" stroke-width="1.5"/>
<line x1="122.8" y1="1034.9" x2="117" y2="1035.5" stroke="#9a9a9a" stroke-width="1.5"/>
<line x1="141.6" y1="1046.7" x2="142" y2="1059.7" stroke="#9a9a9a" stroke-width="1.5"/>
<line x1="142" y1="1059.7" x2="146.8" y2="1056.6" stroke="#9a9a9a" stroke-width="1.5"/>
<line x1="142" y1="1059.7" x2="148.5" y2="1062.5" stroke="#9a9a9a" stroke-width="1.5"/>
<line x1="138.15" y1="1064.74" x2="142.4" y2="1072.1" stroke="#9a9a9a" stroke-width="1.5"/>
<line x1="142.4" y1="1072.1" x2="138.15" y2="1079.46" stroke="#9a9a9a" stroke-width="1.5"/>
<line x1="138.15" y1="1079.46" x2="129.65" y2="1079.46" stroke="#9a9a9a" stroke-width="1.5"/>
<line x1="129.65" y1="1079.46" x2="125.4" y2="1072.1" stroke="#9a9a9a" stroke-width="1.5"/>
<line x1="125.4" y1="1072.1" x2="129.65" y2="1064.74" stroke="#9a9a9a" stroke-width="1.5"/>
<line x1="129.65" y1="1064.74" x2="138.15" y2="1064.74" stroke="#9a9a9a" stroke-width="1.5"/>
<line x1="138.15" y1="1064.74" x2="140.65" y2="1060.41" stroke="#9a9a9a" stroke-width="1.5"/>
<line x1="142.4" y1="1072.1" x2="147.4" y2="1072.1" stroke="#9a9a9a" stroke-width="1.5"/>
<line x1="138.15" y1="1079.46" x2="140.65" y2="1083.79" stroke="#9a9a9a" stroke-width="1.5"/>
<line x1="125.4" y1="1072.1" x2="120.4" y2="1072.1" stroke="#9a9a9a" stroke-width="1.5"/>
<line x1="129.65" y1="1064.74" x2="142" y2="1059.7" stroke="#9a9a9a" stroke-width="1.5"/>
<line x1="129.65" y1="1079.46" x2="126.5" y2="1082.7" stroke="#9a9a9a" stroke-width="1.5"/>
<line x1="171.7" y1="1047" x2="181.66" y2="1052.75" stroke="#9a9a9a" stroke-width="1.5"/>
<line x1="181.66" y1="1052.75" x2="181.66" y2="1064.25" stroke="#9a9a9a" stroke-width="1.5"/>
<line x1="181.66" y1="1064.25" x2="171.7" y2="1070" stroke="#9a9a9a" stroke-width="1.5"/>
<line x1="171.7" y1="1070" x2="161.74" y2="1064.25" stroke="#9a9a9a" stroke-width="1.5"/>
<line x1="161.74" y1="1064.25" x2="161.74" y2="1052.75" stroke="#9a9a9a" stroke-width="1.5"/>
<line x1="161.74" y1="1052.75" x2="171.7" y2="1047" stroke="#9a9a9a" stroke-width="1.5"/>
<line x1="181.66" y1="1052.75" x2="186.42" y2="1050" stroke="#9a9a9a" stroke-width="1.5"/>
<line x1="181.66" y1="1064.25" x2="186.42" y2="1067" stroke="#9a9a9a" stroke-width="1.5"/>
<line x1="161.74" y1="1064.25" x2="156.98" y2="1067" stroke="#9a9a9a" stroke-width="1.5"/>
<line x1="161.74" y1="1052.75" x2="156.98" y2="1050" stroke="#9a9a9a" stroke-width="1.5"/>
<line x1="171.7" y1="1047" x2="171.7" y2="1035.5" stroke="#9a9a9a" stroke-width="1.5"/>
<line x1="171.7" y1="1070" x2="171.7" y2="1080.8" stroke="#9a9a9a" stroke-width="1.5"/>
<line x1="171.7" y1="1080.8" x2="177" y2="1082" stroke="#9a9a9a" stroke-width="1.5"/>
<line x1="220.05" y1="1043.71" x2="225.3" y2="1052.8" stroke="#9a9a9a" stroke-width="1.5"/>
<line x1="225.3" y1="1052.8" x2="220.05" y2="1061.89" stroke="#9a9a9a" stroke-width="1.5"/>
<line x1="220.05" y1="1061.89" x2="209.55" y2="1061.89" stroke="#9a9a9a" stroke-width="1.5"/>
<line x1="209.55" y1="1061.89" x2="204.3" y2="1052.8" stroke="#9a9a9a" stroke-width="1.5"/>
<line x1="204.3" y1="1052.8" x2="209.55" y2="1043.71" stroke="#9a9a9a" stroke-width="1.5"/>
<line x1="209.55" y1="1043.71" x2="220.05" y2="1043.71" stroke="#9a9a9a" stroke-width="1.5"/>
<line x1="220.05" y1="1061.89" x2="222.55" y2="1066.22" stroke="#9a9a9a" stroke-width="1.5"/>
<line x1="209.55" y1="1061.89" x2="207.05" y2="1066.22" stroke="#9a9a9a" stroke-width="1.5"/>
<line x1="209.55" y1="1043.71" x2="207.05" y2="1039.38" stroke="#9a9a9a" stroke-width="1.5"/>
<line x1="220.05" y1="1043.71" x2="231.3" y2="1037.4" stroke="#9a9a9a" stroke-width="1.5"/>
<line x1="225.3" y1="1052.8" x2="234.3" y2="1058.5" stroke="#9a9a9a" stroke-width="1.5"/>
<line x1="234.3" y1="1058.5" x2="235" y2="1064" stroke="#9a9a9a" stroke-width="1.5"/>
<line x1="204.3" y1="1052.8" x2="194" y2="1047.8" stroke="#9a9a9a" stroke-width="1.5"/>
<line x1="275.9" y1="999" x2="272.4" y2="1005.06" stroke="#9a9a9a" stroke-width="1.1"/>
<line x1="272.4" y1="1005.06" x2="265.4" y2="1005.06" stroke="#9a9a9a" stroke-width="1.1"/>
<line x1="265.4" y1="1005.06" x2="261.9" y2="999" stroke="#9a9a9a" stroke-width="1.1"/>
<line x1="261.9" y1="999" x2="265.4" y2="992.94" stroke="#9a9a9a" stroke-width="1.1"/>
<line x1="265.4" y1="992.94" x2="272.4" y2="992.94" stroke="#9a9a9a" stroke-width="1.1"/>
<line x1="272.4" y1="992.94" x2="275.9" y2="999" stroke="#9a9a9a" stroke-width="1.1"/>
<line x1="265.4" y1="1005.06" x2="263.4" y2="1008.53" stroke="#9a9a9a" stroke-width="1.1"/>
<line x1="261.9" y1="999" x2="257.9" y2="999" stroke="#9a9a9a" stroke-width="1.1"/>
<line x1="265.4" y1="992.94" x2="263.4" y2="989.47" stroke="#9a9a9a" stroke-width="1.1"/>
<line x1="288" y1="1005.5" x2="284.5" y2="1011.56" stroke="#9a9a9a" stroke-width="1.1"/>
<line x1="284.5" y1="1011.56" x2="277.5" y2="1011.56" stroke="#9a9a9a" stroke-width="1.1"/>
<line x1="277.5" y1="1011.56" x2="274" y2="1005.5" stroke="#9a9a9a" stroke-width="1.1"/>
<line x1="274" y1="1005.5" x2="277.5" y2="999.44" stroke="#9a9a9a" stroke-width="1.1"/>
<line x1="277.5" y1="999.44" x2="284.5" y2="999.44" stroke="#9a9a9a" stroke-width="1.1"/>
<line x1="284.5" y1="999.44" x2="288" y2="1005.5" stroke="#9a9a9a" stroke-width="1.1"/>
<line x1="296.9" y1="1020" x2="293.4" y2="1026.06" stroke="#9a9a9a" stroke-width="1.1"/>
<line x1="293.4" y1="1026.06" x2="286.4" y2="1026.06" stroke="#9a9a9a" stroke-width="1.1"/>
<line x1="286.4" y1="1026.06" x2="282.9" y2="1020" stroke="#9a9a9a" stroke-width="1.1"/>
<line x1="282.9" y1="1020" x2="286.4" y2="1013.94" stroke="#9a9a9a" stroke-width="1.1"/>
<line x1="286.4" y1="1013.94" x2="293.4" y2="1013.94" stroke="#9a9a9a" stroke-width="1.1"/>
<line x1="293.4" y1="1013.94" x2="296.9" y2="1020" stroke="#9a9a9a" stroke-width="1.1"/>
<line x1="265.4" y1="1005.06" x2="264.8" y2="1008.2" stroke="#9a9a9a" stroke-width="1.1"/>
<line x1="284.5" y1="999.44" x2="285.3" y2="995.4" stroke="#9a9a9a" stroke-width="1.1"/>
<line x1="286.4" y1="1026.06" x2="291.4" y2="1023" stroke="#9a9a9a" stroke-width="1.1"/>
<line x1="282.9" y1="1020" x2="281.7" y2="1020" stroke="#9a9a9a" stroke-width="1.1"/>
<line x1="274" y1="1005.5" x2="274.5" y2="1009.7" stroke="#9a9a9a" stroke-width="1.1"/>
<line x1="282.9" y1="1020" x2="276" y2="1025.1" stroke="#9a9a9a" stroke-width="1.1"/>
<line x1="276" y1="1025.1" x2="283.2" y2="1027" stroke="#9a9a9a" stroke-width="1.1"/>
<line x1="283.2" y1="1027" x2="283.2" y2="1031.2" stroke="#9a9a9a" stroke-width="1.1"/>
<line x1="296.9" y1="1020" x2="299.6" y2="1019" stroke="#9a9a9a" stroke-width="1.1"/>
<line x1="299.6" y1="1019" x2="304" y2="1015" stroke="#9a9a9a" stroke-width="1.1"/>
<line x1="299.6" y1="1019" x2="303" y2="1024" stroke="#9a9a9a" stroke-width="1.1"/>
<line x1="328.5" y1="990" x2="334.91" y2="993.7" stroke="#9a9a9a" stroke-width="1.1"/>
<line x1="334.91" y1="993.7" x2="334.91" y2="1001.1" stroke="#9a9a9a" stroke-width="1.1"/>
<line x1="334.91" y1="1001.1" x2="328.5" y2="1004.8" stroke="#9a9a9a" stroke-width="1.1"/>
<line x1="328.5" y1="1004.8" x2="322.09" y2="1001.1" stroke="#9a9a9a" stroke-width="1.1"/>
<line x1="322.09" y1="1001.1" x2="322.09" y2="993.7" stroke="#9a9a9a" stroke-width="1.1"/>
<line x1="322.09" y1="993.7" x2="328.5" y2="990" stroke="#9a9a9a" stroke-width="1.1"/>
<line x1="334.91" y1="993.7" x2="338.37" y2="991.7" stroke="#9a9a9a" stroke-width="1.1"/>
<line x1="334.91" y1="1001.1" x2="338.37" y2="1003.1" stroke="#9a9a9a" stroke-width="1.1"/>
<line x1="322.09" y1="1001.1" x2="318.63" y2="1003.1" stroke="#9a9a9a" stroke-width="1.1"/>
<line x1="322.09" y1="993.7" x2="318.63" y2="991.7" stroke="#9a9a9a" stroke-width="1.1"/>
<line x1="328.5" y1="990" x2="328.5" y2="984.5" stroke="#9a9a9a" stroke-width="1.1"/>
<line x1="328.5" y1="984.5" x2="324" y2="982.5" stroke="#9a9a9a" stroke-width="1.1"/>
<line x1="328.5" y1="984.5" x2="333" y2="982.5" stroke="#9a9a9a" stroke-width="1.1"/>
<line x1="328.5" y1="984.5" x2="328.5" y2="990" stroke="#9a9a9a" stroke-width="1.1"/>
<line x1="328.5" y1="1004.8" x2="328.5" y2="1008.8" stroke="#9a9a9a" stroke-width="1.1"/>
<line x1="328.5" y1="1008.8" x2="323.1" y2="1008.8" stroke="#9a9a9a" stroke-width="1.1"/>
<line x1="328.5" y1="1008.8" x2="333.8" y2="1008.8" stroke="#9a9a9a" stroke-width="1.1"/>
<line x1="328.5" y1="1008.8" x2="328.8" y2="1015.8" stroke="#9a9a9a" stroke-width="1.1"/>
<line x1="328.8" y1="1015.8" x2="333" y2="1017" stroke="#9a9a9a" stroke-width="1.1"/>
<line x1="325.66" y1="1018.75" x2="324.99" y2="1025.18" stroke="#9a9a9a" stroke-width="1.1"/>
<line x1="324.99" y1="1025.18" x2="318.66" y2="1026.52" stroke="#9a9a9a" stroke-width="1.1"/>
<line x1="318.66" y1="1026.52" x2="315.43" y2="1020.93" stroke="#9a9a9a" stroke-width="1.1"/>
<line x1="315.43" y1="1020.93" x2="319.76" y2="1016.12" stroke="#9a9a9a" stroke-width="1.1"/>
<line x1="319.76" y1="1016.12" x2="325.66" y2="1018.75" stroke="#9a9a9a" stroke-width="1.1"/>
<line x1="328.8" y1="1015.8" x2="325.66" y2="1018.75" stroke="#9a9a9a" stroke-width="1.1"/>
<line x1="318.66" y1="1026.52" x2="316.7" y2="1031" stroke="#9a9a9a" stroke-width="1.1"/>
<line x1="356.3" y1="1012" x2="353.3" y2="1017.2" stroke="#9a9a9a" stroke-width="1.1"/>
<line x1="353.3" y1="1017.2" x2="347.3" y2="1017.2" stroke="#9a9a9a" stroke-width="1.1"/>
<line x1="347.3" y1="1017.2" x2="344.3" y2="1012" stroke="#9a9a9a" stroke-width="1.1"/>
<line x1="344.3" y1="1012" x2="347.3" y2="1006.8" stroke="#9a9a9a" stroke-width="1.1"/>
<line x1="347.3" y1="1006.8" x2="353.3" y2="1006.8" stroke="#9a9a9a" stroke-width="1.1"/>
<line x1="353.3" y1="1006.8" x2="356.3" y2="1012" stroke="#9a9a9a" stroke-width="1.1"/>
<line x1="353.3" y1="1017.2" x2="355.05" y2="1020.23" stroke="#9a9a9a" stroke-width="1.1"/>
<line x1="347.3" y1="1017.2" x2="345.55" y2="1020.23" stroke="#9a9a9a" stroke-width="1.1"/>
<line x1="347.3" y1="1006.8" x2="345.55" y2="1003.77" stroke="#9a9a9a" stroke-width="1.1"/>
<line x1="353.3" y1="1006.8" x2="355.05" y2="1003.77" stroke="#9a9a9a" stroke-width="1.1"/>
<line x1="366.4" y1="998.2" x2="371.77" y2="1001.3" stroke="#9a9a9a" stroke-width="1.1"/>
<line x1="371.77" y1="1001.3" x2="371.77" y2="1007.5" stroke="#9a9a9a" stroke-width="1.1"/>
<line x1="371.77" y1="1007.5" x2="366.4" y2="1010.6" stroke="#9a9a9a" stroke-width="1.1"/>
<line x1="366.4" y1="1010.6" x2="361.03" y2="1007.5" stroke="#9a9a9a" stroke-width="1.1"/>
<line x1="361.03" y1="1007.5" x2="361.03" y2="1001.3" stroke="#9a9a9a" stroke-width="1.1"/>
<line x1="361.03" y1="1001.3" x2="366.4" y2="998.2" stroke="#9a9a9a" stroke-width="1.1"/>
<line x1="377.2" y1="992" x2="382.57" y2="995.1" stroke="#9a9a9a" stroke-width="1.1"/>
<line x1="382.57" y1="995.1" x2="382.57" y2="1001.3" stroke="#9a9a9a" stroke-width="1.1"/>
<line x1="382.57" y1="1001.3" x2="377.2" y2="1004.4" stroke="#9a9a9a" stroke-width="1.1"/>
<line x1="377.2" y1="1004.4" x2="371.83" y2="1001.3" stroke="#9a9a9a" stroke-width="1.1"/>
<line x1="371.83" y1="1001.3" x2="371.83" y2="995.1" stroke="#9a9a9a" stroke-width="1.1"/>
<line x1="371.83" y1="995.1" x2="377.2" y2="992" stroke="#9a9a9a" stroke-width="1.1"/>
<line x1="356.3" y1="1012" x2="361.03" y2="1007.5" stroke="#9a9a9a" stroke-width="1.1"/>
<line x1="366.4" y1="1010.6" x2="365.5" y2="1017.7" stroke="#9a9a9a" stroke-width="1.1"/>
<line x1="377.2" y1="1004.4" x2="382" y2="1006.3" stroke="#9a9a9a" stroke-width="1.1"/>
<line x1="371.83" y1="995.1" x2="364.5" y2="987.3" stroke="#9a9a9a" stroke-width="1.1"/>
<line x1="364.5" y1="987.3" x2="360" y2="985" stroke="#9a9a9a" stroke-width="1.1"/>
<line x1="364.5" y1="987.3" x2="367" y2="983" stroke="#9a9a9a" stroke-width="1.1"/>
<line x1="382.57" y1="995.1" x2="386" y2="994" stroke="#9a9a9a" stroke-width="1.1"/>
<line x1="386" y1="994" x2="387.7" y2="990.6" stroke="#9a9a9a" stroke-width="1.1"/>
<line x1="386" y1="994" x2="388.2" y2="998.1" stroke="#9a9a9a" stroke-width="1.1"/>
<line x1="402.5" y1="1000.1" x2="407.87" y2="1003.2" stroke="#9a9a9a" stroke-width="1.1"/>
<line x1="407.87" y1="1003.2" x2="407.87" y2="1009.4" stroke="#9a9a9a" stroke-width="1.1"/>
<line x1="407.87" y1="1009.4" x2="402.5" y2="1012.5" stroke="#9a9a9a" stroke-width="1.1"/>
<line x1="402.5" y1="1012.5" x2="397.13" y2="1009.4" stroke="#9a9a9a" stroke-width="1.1"/>
<line x1="397.13" y1="1009.4" x2="397.13" y2="1003.2" stroke="#9a9a9a" stroke-width="1.1"/>
<line x1="397.13" y1="1003.2" x2="402.5" y2="1000.1" stroke="#9a9a9a" stroke-width="1.1"/>
<line x1="413" y1="994.1" x2="418.37" y2="997.2" stroke="#9a9a9a" stroke-width="1.1"/>
<line x1="418.37" y1="997.2" x2="418.37" y2="1003.4" stroke="#9a9a9a" stroke-width="1.1"/>
<line x1="418.37" y1="1003.4" x2="413" y2="1006.5" stroke="#9a9a9a" stroke-width="1.1"/>
<line x1="413" y1="1006.5" x2="407.63" y2="1003.4" stroke="#9a9a9a" stroke-width="1.1"/>
<line x1="407.63" y1="1003.4" x2="407.63" y2="997.2" stroke="#9a9a9a" stroke-width="1.1"/>
<line x1="407.63" y1="997.2" x2="413" y2="994.1" stroke="#9a9a9a" stroke-width="1.1"/>
<line x1="407.63" y1="997.2" x2="400.6" y2="991.7" stroke="#9a9a9a" stroke-width="1.1"/>
<line x1="413" y1="994.1" x2="412" y2="986" stroke="#9a9a9a" stroke-width="1.1"/>
<line x1="412" y1="986" x2="408.2" y2="983" stroke="#9a9a9a" stroke-width="1.1"/>
<line x1="412" y1="986" x2="416.1" y2="983" stroke="#9a9a9a" stroke-width="1.1"/>
<line x1="407.87" y1="1009.4" x2="412.9" y2="1014.5" stroke="#9a9a9a" stroke-width="1.1"/>
<line x1="418.37" y1="1003.4" x2="419.5" y2="1009.2" stroke="#9a9a9a" stroke-width="1.1"/>
<line x1="397.13" y1="1009.4" x2="392.6" y2="1012" stroke="#9a9a9a" stroke-width="1.1"/>
<line x1="402.5" y1="1012.5" x2="402.1" y2="1019.6" stroke="#9a9a9a" stroke-width="1.1"/>
<line x1="407.3" y1="1026.2" x2="404.9" y2="1030.36" stroke="#9a9a9a" stroke-width="1.1"/>
<line x1="404.9" y1="1030.36" x2="400.1" y2="1030.36" stroke="#9a9a9a" stroke-width="1.1"/>
<line x1="400.1" y1="1030.36" x2="397.7" y2="1026.2" stroke="#9a9a9a" stroke-width="1.1"/>
<line x1="397.7" y1="1026.2" x2="400.1" y2="1022.04" stroke="#9a9a9a" stroke-width="1.1"/>
<line x1="400.1" y1="1022.04" x2="404.9" y2="1022.04" stroke="#9a9a9a" stroke-width="1.1"/>
<line x1="404.9" y1="1022.04" x2="407.3" y2="1026.2" stroke="#9a9a9a" stroke-width="1.1"/>
<line x1="402.1" y1="1019.6" x2="400.1" y2="1022.04" stroke="#9a9a9a" stroke-width="1.1"/>
<line x1="400.1" y1="1030.36" x2="399" y2="1032" stroke="#9a9a9a" stroke-width="1.1"/>
<line x1="457.5" y1="1002" x2="462.7" y2="1005" stroke="#9a9a9a" stroke-width="1.1"/>
<line x1="462.7" y1="1005" x2="462.7" y2="1011" stroke="#9a9a9a" stroke-width="1.1"/>
<line x1="462.7" y1="1011" x2="457.5" y2="1014" stroke="#9a9a9a" stroke-width="1.1"/>
<line x1="457.5" y1="1014" x2="452.3" y2="1011" stroke="#9a9a9a" stroke-width="1.1"/>
<line x1="452.3" y1="1011" x2="452.3" y2="1005" stroke="#9a9a9a" stroke-width="1.1"/>
<line x1="452.3" y1="1005" x2="457.5" y2="1002" stroke="#9a9a9a" stroke-width="1.1"/>
<line x1="457.5" y1="1002" x2="457.5" y2="998.5" stroke="#9a9a9a" stroke-width="1.1"/>
<line x1="457.5" y1="1014" x2="457.5" y2="1017.5" stroke="#9a9a9a" stroke-width="1.1"/>
<line x1="452.3" y1="1005" x2="449.27" y2="1003.25" stroke="#9a9a9a" stroke-width="1.1"/>
<line x1="467.8" y1="996" x2="473" y2="999" stroke="#9a9a9a" stroke-width="1.1"/>
<line x1="473" y1="999" x2="473" y2="1005" stroke="#9a9a9a" stroke-width="1.1"/>
<line x1="473" y1="1005" x2="467.8" y2="1008" stroke="#9a9a9a" stroke-width="1.1"/>
<line x1="467.8" y1="1008" x2="462.6" y2="1005" stroke="#9a9a9a" stroke-width="1.1"/>
<line x1="462.6" y1="1005" x2="462.6" y2="999" stroke="#9a9a9a" stroke-width="1.1"/>
<line x1="462.6" y1="999" x2="467.8" y2="996" stroke="#9a9a9a" stroke-width="1.1"/>
<line x1="478" y1="998.5" x2="483.2" y2="1001.5" stroke="#9a9a9a" stroke-width="1.1"/>
<line x1="483.2" y1="1001.5" x2="483.2" y2="1007.5" stroke="#9a9a9a" stroke-width="1.1"/>
<line x1="483.2" y1="1007.5" x2="478" y2="1010.5" stroke="#9a9a9a" stroke-width="1.1"/>
<line x1="478" y1="1010.5" x2="472.8" y2="1007.5" stroke="#9a9a9a" stroke-width="1.1"/>
<line x1="472.8" y1="1007.5" x2="472.8" y2="1001.5" stroke="#9a9a9a" stroke-width="1.1"/>
<line x1="472.8" y1="1001.5" x2="478" y2="998.5" stroke="#9a9a9a" stroke-width="1.1"/>
<line x1="483.2" y1="1001.5" x2="486.23" y2="999.75" stroke="#9a9a9a" stroke-width="1.1"/>
<line x1="483.2" y1="1007.5" x2="486.23" y2="1009.25" stroke="#9a9a9a" stroke-width="1.1"/>
<line x1="472.8" y1="1007.5" x2="469.77" y2="1009.25" stroke="#9a9a9a" stroke-width="1.1"/>
<line x1="462.6" y1="999" x2="464.5" y2="996.5" stroke="#9a9a9a" stroke-width="1.1"/>
<line x1="464.5" y1="996.5" x2="463.9" y2="993.5" stroke="#9a9a9a" stroke-width="1.1"/>
<line x1="464.5" y1="996.5" x2="466.3" y2="990.3" stroke="#9a9a9a" stroke-width="1.1"/>
<line x1="457.5" y1="1014" x2="450.3" y2="1017.1" stroke="#9a9a9a" stroke-width="1.1"/>
<line x1="450.3" y1="1017.1" x2="444" y2="1015" stroke="#9a9a9a" stroke-width="1.1"/>
<line x1="450.3" y1="1017.1" x2="452" y2="1023" stroke="#9a9a9a" stroke-width="1.1"/>
<line x1="483.2" y1="1001.5" x2="485.6" y2="1008.7" stroke="#9a9a9a" stroke-width="1.1"/>
<line x1="485.6" y1="1008.7" x2="491" y2="1004" stroke="#9a9a9a" stroke-width="1.1"/>
<line x1="485.6" y1="1008.7" x2="489" y2="1014" stroke="#9a9a9a" stroke-width="1.1"/>
<line x1="519.3" y1="981" x2="524.5" y2="984" stroke="#9a9a9a" stroke-width="1.1"/>
<line x1="524.5" y1="984" x2="524.5" y2="990" stroke="#9a9a9a" stroke-width="1.1"/>
<line x1="524.5" y1="990" x2="519.3" y2="993" stroke="#9a9a9a" stroke-width="1.1"/>
<line x1="519.3" y1="993" x2="514.1" y2="990" stroke="#9a9a9a" stroke-width="1.1"/>
<line x1="514.1" y1="990" x2="514.1" y2="984" stroke="#9a9a9a" stroke-width="1.1"/>
<line x1="514.1" y1="984" x2="519.3" y2="981" stroke="#9a9a9a" stroke-width="1.1"/>
<line x1="519.3" y1="981" x2="519.3" y2="977.5" stroke="#9a9a9a" stroke-width="1.1"/>
<line x1="524.5" y1="984" x2="527.53" y2="982.25" stroke="#9a9a9a" stroke-width="1.1"/>
<line x1="514.1" y1="990" x2="511.07" y2="991.75" stroke="#9a9a9a" stroke-width="1.1"/>
<line x1="514.1" y1="984" x2="511.07" y2="982.25" stroke="#9a9a9a" stroke-width="1.1"/>
<line x1="526.5" y1="991.5" x2="531.7" y2="994.5" stroke="#9a9a9a" stroke-width="1.1"/>
<line x1="531.7" y1="994.5" x2="531.7" y2="1000.5" stroke="#9a9a9a" stroke-width="1.1"/>
<line x1="531.7" y1="1000.5" x2="526.5" y2="1003.5" stroke="#9a9a9a" stroke-width="1.1"/>
<line x1="526.5" y1="1003.5" x2="521.3" y2="1000.5" stroke="#9a9a9a" stroke-width="1.1"/>
<line x1="521.3" y1="1000.5" x2="521.3" y2="994.5" stroke="#9a9a9a" stroke-width="1.1"/>
<line x1="521.3" y1="994.5" x2="526.5" y2="991.5" stroke="#9a9a9a" stroke-width="1.1"/>
<line x1="531.7" y1="994.5" x2="534.73" y2="992.75" stroke="#9a9a9a" stroke-width="1.1"/>
<line x1="531.7" y1="1000.5" x2="534.73" y2="1002.25" stroke="#9a9a9a" stroke-width="1.1"/>
<line x1="526.5" y1="1003.5" x2="526.5" y2="1007" stroke="#9a9a9a" stroke-width="1.1"/>
<line x1="531.7" y1="1000.5" x2="533.3" y2="1005.5" stroke="#9a9a9a" stroke-width="1.1"/>
<line x1="521.3" y1="1000.5" x2="520.4" y2="1004.7" stroke="#9a9a9a" stroke-width="1.1"/>
<line x1="520.4" y1="1004.7" x2="517" y2="1008" stroke="#9a9a9a" stroke-width="1.1"/>
<line x1="515.1" y1="1010.8" x2="518.1" y2="1016" stroke="#9a9a9a" stroke-width="1.1"/>
<line x1="518.1" y1="1016" x2="515.1" y2="1021.2" stroke="#9a9a9a" stroke-width="1.1"/>
<line x1="515.1" y1="1021.2" x2="509.1" y2="1021.2" stroke="#9a9a9a" stroke-width="1.1"/>
<line x1="509.1" y1="1021.2" x2="506.1" y2="1016" stroke="#9a9a9a" stroke-width="1.1"/>
<line x1="506.1" y1="1016" x2="509.1" y2="1010.8" stroke="#9a9a9a" stroke-width="1.1"/>
<line x1="509.1" y1="1010.8" x2="515.1" y2="1010.8" stroke="#9a9a9a" stroke-width="1.1"/>
<line x1="518.1" y1="1016" x2="521.6" y2="1016" stroke="#9a9a9a" stroke-width="1.1"/>
<line x1="515.1" y1="1021.2" x2="516.85" y2="1024.23" stroke="#9a9a9a" stroke-width="1.1"/>
<line x1="506.1" y1="1016" x2="502.6" y2="1016" stroke="#9a9a9a" stroke-width="1.1"/>
<line x1="509.1" y1="1010.8" x2="507.35" y2="1007.77" stroke="#9a9a9a" stroke-width="1.1"/>
<line x1="517" y1="1008" x2="515.1" y2="1010.8" stroke="#9a9a9a" stroke-width="1.1"/>
<line x1="509.1" y1="1021.2" x2="503.3" y2="1026.4" stroke="#9a9a9a" stroke-width="1.1"/>
<line x1="503.3" y1="1026.4" x2="497.6" y2="1025.1" stroke="#9a9a9a" stroke-width="1.1"/>
<line x1="503.3" y1="1026.4" x2="506.5" y2="1031.5" stroke="#9a9a9a" stroke-width="1.1"/>
<line x1="503.3" y1="1026.4" x2="501" y2="1021" stroke="#9a9a9a" stroke-width="1.1"/>
<line x1="564.5" y1="991.76" x2="567.7" y2="997.3" stroke="#9a9a9a" stroke-width="1.1"/>
<line x1="567.7" y1="997.3" x2="564.5" y2="1002.84" stroke="#9a9a9a" stroke-width="1.1"/>
<line x1="564.5" y1="1002.84" x2="558.1" y2="1002.84" stroke="#9a9a9a" stroke-width="1.1"/>
<line x1="558.1" y1="1002.84" x2="554.9" y2="997.3" stroke="#9a9a9a" stroke-width="1.1"/>
<line x1="554.9" y1="997.3" x2="558.1" y2="991.76" stroke="#9a9a9a" stroke-width="1.1"/>
<line x1="558.1" y1="991.76" x2="564.5" y2="991.76" stroke="#9a9a9a" stroke-width="1.1"/>
<line x1="567.7" y1="997.3" x2="571.2" y2="997.3" stroke="#9a9a9a" stroke-width="1.1"/>
<line x1="564.5" y1="1002.84" x2="566.25" y2="1005.87" stroke="#9a9a9a" stroke-width="1.1"/>
<line x1="558.1" y1="991.76" x2="556.35" y2="988.73" stroke="#9a9a9a" stroke-width="1.1"/>
<line x1="558.6" y1="1014.16" x2="561.8" y2="1019.7" stroke="#9a9a9a" stroke-width="1.1"/>
<line x1="561.8" y1="1019.7" x2="558.6" y2="1025.24" stroke="#9a9a9a" stroke-width="1.1"/>
<line x1="558.6" y1="1025.24" x2="552.2" y2="1025.24" stroke="#9a9a9a" stroke-width="1.1"/>
<line x1="552.2" y1="1025.24" x2="549" y2="1019.7" stroke="#9a9a9a" stroke-width="1.1"/>
<line x1="549" y1="1019.7" x2="552.2" y2="1014.16" stroke="#9a9a9a" stroke-width="1.1"/>
<line x1="552.2" y1="1014.16" x2="558.6" y2="1014.16" stroke="#9a9a9a" stroke-width="1.1"/>
<line x1="558.6" y1="1014.16" x2="560.35" y2="1011.13" stroke="#9a9a9a" stroke-width="1.1"/>
<line x1="552.2" y1="1025.24" x2="550.45" y2="1028.27" stroke="#9a9a9a" stroke-width="1.1"/>
<line x1="552.2" y1="1014.16" x2="550.45" y2="1011.13" stroke="#9a9a9a" stroke-width="1.1"/>
<line x1="564.5" y1="1002.84" x2="567.2" y2="1011.8" stroke="#9a9a9a" stroke-width="1.1"/>
<line x1="567.2" y1="1011.8" x2="558.6" y2="1014.16" stroke="#9a9a9a" stroke-width="1.1"/>
<line x1="554.9" y1="997.3" x2="552.7" y2="1008.5" stroke="#9a9a9a" stroke-width="1.1"/>
<line x1="552.7" y1="1008.5" x2="552.2" y2="1014.16" stroke="#9a9a9a" stroke-width="1.1"/>
<line x1="564.5" y1="991.76" x2="569.4" y2="988.1" stroke="#9a9a9a" stroke-width="1.1"/>
<line x1="569.4" y1="988.1" x2="564" y2="984" stroke="#9a9a9a" stroke-width="1.1"/>
<line x1="569.4" y1="988.1" x2="575" y2="989" stroke="#9a9a9a" stroke-width="1.1"/>
<line x1="552.2" y1="1025.24" x2="557.3" y2="1033.5" stroke="#9a9a9a" stroke-width="1.1"/>
<line x1="557.3" y1="1033.5" x2="552" y2="1037" stroke="#9a9a9a" stroke-width="1.1"/>
<line x1="557.3" y1="1033.5" x2="563" y2="1035" stroke="#9a9a9a" stroke-width="1.1"/>
<line x1="605.3" y1="987.1" x2="600.7" y2="984.5" stroke="#9a9a9a" stroke-width="1.1"/>
<line x1="605.3" y1="987.1" x2="607" y2="982.6" stroke="#9a9a9a" stroke-width="1.1"/>
<line x1="605.3" y1="987.1" x2="609.9" y2="987.9" stroke="#9a9a9a" stroke-width="1.1"/>
<line x1="605.2" y1="993.06" x2="608.4" y2="998.6" stroke="#9a9a9a" stroke-width="1.1"/>
<line x1="608.4" y1="998.6" x2="605.2" y2="1004.14" stroke="#9a9a9a" stroke-width="1.1"/>
<line x1="605.2" y1="1004.14" x2="598.8" y2="1004.14" stroke="#9a9a9a" stroke-width="1.1"/>
<line x1="598.8" y1="1004.14" x2="595.6" y2="998.6" stroke="#9a9a9a" stroke-width="1.1"/>
<line x1="595.6" y1="998.6" x2="598.8" y2="993.06" stroke="#9a9a9a" stroke-width="1.1"/>
<line x1="598.8" y1="993.06" x2="605.2" y2="993.06" stroke="#9a9a9a" stroke-width="1.1"/>
<line x1="608.4" y1="998.6" x2="611.9" y2="998.6" stroke="#9a9a9a" stroke-width="1.1"/>
<line x1="605.2" y1="1004.14" x2="606.95" y2="1007.17" stroke="#9a9a9a" stroke-width="1.1"/>
<line x1="595.6" y1="998.6" x2="592.1" y2="998.6" stroke="#9a9a9a" stroke-width="1.1"/>
<line x1="598.8" y1="993.06" x2="597.05" y2="990.03" stroke="#9a9a9a" stroke-width="1.1"/>
<line x1="605.3" y1="987.1" x2="598.8" y2="993.06" stroke="#9a9a9a" stroke-width="1.1"/>
<line x1="605.2" y1="1004.14" x2="600.5" y2="1009" stroke="#9a9a9a" stroke-width="1.1"/>
<line x1="600.5" y1="1009" x2="597.5" y2="1013.5" stroke="#9a9a9a" stroke-width="1.1"/>
<line x1="598.6" y1="1018.06" x2="601.8" y2="1023.6" stroke="#9a9a9a" stroke-width="1.1"/>
<line x1="601.8" y1="1023.6" x2="598.6" y2="1029.14" stroke="#9a9a9a" stroke-width="1.1"/>
<line x1="598.6" y1="1029.14" x2="592.2" y2="1029.14" stroke="#9a9a9a" stroke-width="1.1"/>
<line x1="592.2" y1="1029.14" x2="589" y2="1023.6" stroke="#9a9a9a" stroke-width="1.1"/>
<line x1="589" y1="1023.6" x2="592.2" y2="1018.06" stroke="#9a9a9a" stroke-width="1.1"/>
<line x1="592.2" y1="1018.06" x2="598.6" y2="1018.06" stroke="#9a9a9a" stroke-width="1.1"/>
<line x1="601.8" y1="1023.6" x2="605.3" y2="1023.6" stroke="#9a9a9a" stroke-width="1.1"/>
<line x1="598.6" y1="1029.14" x2="600.35" y2="1032.17" stroke="#9a9a9a" stroke-width="1.1"/>
<line x1="589" y1="1023.6" x2="585.5" y2="1023.6" stroke="#9a9a9a" stroke-width="1.1"/>
<line x1="592.2" y1="1018.06" x2="590.45" y2="1015.03" stroke="#9a9a9a" stroke-width="1.1"/>
<line x1="597.5" y1="1013.5" x2="592.2" y2="1018.06" stroke="#9a9a9a" stroke-width="1.1"/>
<line x1="598.6" y1="1029.14" x2="592.5" y2="1034.8" stroke="#9a9a9a" stroke-width="1.1"/>
<line x1="592.5" y1="1034.8" x2="587" y2="1036" stroke="#9a9a9a" stroke-width="1.1"/>
<line x1="592.5" y1="1034.8" x2="597" y2="1039" stroke="#9a9a9a" stroke-width="1.1"/>
<circle cx="96.9" cy="1049" r="2.5" fill="url(#ac)"/>
<circle cx="106.86" cy="1054.75" r="2.5" fill="url(#ac)"/>
<circle cx="106.86" cy="1066.25" r="2.5" fill="url(#ac)"/>
<circle cx="96.9" cy="1072" r="2.5" fill="url(#ac)"/>
<circle cx="86.94" cy="1066.25" r="2.5" fill="url(#ac)"/>
<circle cx="86.94" cy="1054.75" r="2.5" fill="url(#ac)"/>
<circle cx="111.62" cy="1052" r="1.2" fill="url(#ah)"/>
<circle cx="111.62" cy="1069" r="1.2" fill="url(#ah)"/>
<circle cx="96.9" cy="1077.5" r="1.2" fill="url(#ah)"/>
<circle cx="82.18" cy="1069" r="1.2" fill="url(#ah)"/>
<circle cx="82.18" cy="1052" r="1.2" fill="url(#ah)"/>
<circle cx="97.1" cy="1038.4" r="3" fill="url(#ao)"/>
<circle cx="89.6" cy="1036.8" r="1.2" fill="url(#ah)"/>
<circle cx="136.85" cy="1038.47" r="2.5" fill="url(#ac)"/>
<circle cx="141.6" cy="1046.7" r="2.5" fill="url(#ac)"/>
<circle cx="136.85" cy="1054.93" r="2.5" fill="url(#ac)"/>
<circle cx="127.35" cy="1054.93" r="2.5" fill="url(#ac)"/>
<circle cx="122.6" cy="1046.7" r="2.5" fill="url(#ac)"/>
<circle cx="127.35" cy="1038.47" r="2.5" fill="url(#ac)"/>
<circle cx="146.6" cy="1046.7" r="1.2" fill="url(#ah)"/>
<circle cx="139.35" cy="1059.26" r="1.2" fill="url(#ah)"/>
<circle cx="124.85" cy="1059.26" r="1.2" fill="url(#ah)"/>
<circle cx="124.85" cy="1034.14" r="1.2" fill="url(#ah)"/>
<circle cx="122.8" cy="1034.9" r="3" fill="url(#ao)"/>
<circle cx="117" cy="1035.5" r="1.2" fill="url(#ah)"/>
<circle cx="142" cy="1059.7" r="2.5" fill="url(#ac)"/>
<circle cx="146.8" cy="1056.6" r="2.5" fill="url(#ac)"/>
<circle cx="148.5" cy="1062.5" r="2.5" fill="url(#ac)"/>
<circle cx="138.15" cy="1064.74" r="2.5" fill="url(#ac)"/>
<circle cx="142.4" cy="1072.1" r="2.5" fill="url(#ac)"/>
<circle cx="138.15" cy="1079.46" r="2.5" fill="url(#ac)"/>
<circle cx="129.65" cy="1079.46" r="2.5" fill="url(#ac)"/>
<circle cx="125.4" cy="1072.1" r="2.5" fill="url(#ac)"/>
<circle cx="129.65" cy="1064.74" r="2.5" fill="url(#ac)"/>
<circle cx="140.65" cy="1060.41" r="1.2" fill="url(#ah)"/>
<circle cx="147.4" cy="1072.1" r="1.2" fill="url(#ah)"/>
<circle cx="140.65" cy="1083.79" r="1.2" fill="url(#ah)"/>
<circle cx="120.4" cy="1072.1" r="1.2" fill="url(#ah)"/>
<circle cx="126.5" cy="1082.7" r="3" fill="url(#ao)"/>
<circle cx="171.7" cy="1047" r="2.5" fill="url(#ac)"/>
<circle cx="181.66" cy="1052.75" r="2.5" fill="url(#ac)"/>
<circle cx="181.66" cy="1064.25" r="2.5" fill="url(#ac)"/>
<circle cx="171.7" cy="1070" r="2.5" fill="url(#ac)"/>
<circle cx="161.74" cy="1064.25" r="2.5" fill="url(#ac)"/>
<circle cx="161.74" cy="1052.75" r="2.5" fill="url(#ac)"/>
<circle cx="186.42" cy="1050" r="1.2" fill="url(#ah)"/>
<circle cx="186.42" cy="1067" r="1.2" fill="url(#ah)"/>
<circle cx="156.98" cy="1067" r="1.2" fill="url(#ah)"/>
<circle cx="156.98" cy="1050" r="1.2" fill="url(#ah)"/>
<circle cx="171.7" cy="1035.5" r="3.7" fill="url(#acl)"/>
<circle cx="171.7" cy="1080.8" r="3" fill="url(#ao)"/>
<circle cx="177" cy="1082" r="1.2" fill="url(#ah)"/>
<circle cx="220.05" cy="1043.71" r="2.5" fill="url(#ac)"/>
<circle cx="225.3" cy="1052.8" r="2.5" fill="url(#ac)"/>
<circle cx="220.05" cy="1061.89" r="2.5" fill="url(#ac)"/>
<circle cx="209.55" cy="1061.89" r="2.5" fill="url(#ac)"/>
<circle cx="204.3" cy="1052.8" r="2.5" fill="url(#ac)"/>
<circle cx="209.55" cy="1043.71" r="2.5" fill="url(#ac)"/>
<circle cx="222.55" cy="1066.22" r="1.2" fill="url(#ah)"/>
<circle cx="207.05" cy="1066.22" r="1.2" fill="url(#ah)"/>
<circle cx="207.05" cy="1039.38" r="1.2" fill="url(#ah)"/>
<circle cx="231.3" cy="1037.4" r="3.7" fill="url(#acl)"/>
<circle cx="234.3" cy="1058.5" r="3" fill="url(#ao)"/>
<circle cx="235" cy="1064" r="1.2" fill="url(#ah)"/>
<circle cx="194" cy="1047.8" r="3.7" fill="url(#acl)"/>
<circle cx="275.9" cy="999" r="1.8" fill="url(#ac)"/>
<circle cx="272.4" cy="1005.06" r="1.8" fill="url(#ac)"/>
<circle cx="265.4" cy="1005.06" r="1.8" fill="url(#ac)"/>
<circle cx="261.9" cy="999" r="1.8" fill="url(#ac)"/>
<circle cx="265.4" cy="992.94" r="1.8" fill="url(#ac)"/>
<circle cx="272.4" cy="992.94" r="1.8" fill="url(#ac)"/>
<circle cx="263.4" cy="1008.53" r="0.86" fill="url(#ah)"/>
<circle cx="257.9" cy="999" r="0.86" fill="url(#ah)"/>
<circle cx="263.4" cy="989.47" r="0.86" fill="url(#ah)"/>
<circle cx="288" cy="1005.5" r="1.8" fill="url(#ac)"/>
<circle cx="284.5" cy="1011.56" r="1.8" fill="url(#ac)"/>
<circle cx="277.5" cy="1011.56" r="1.8" fill="url(#ac)"/>
<circle cx="274" cy="1005.5" r="1.8" fill="url(#ac)"/>
<circle cx="277.5" cy="999.44" r="1.8" fill="url(#ac)"/>
<circle cx="284.5" cy="999.44" r="1.8" fill="url(#ac)"/>
<circle cx="296.9" cy="1020" r="1.8" fill="url(#ac)"/>
<circle cx="293.4" cy="1026.06" r="1.8" fill="url(#ac)"/>
<circle cx="286.4" cy="1026.06" r="1.8" fill="url(#ac)"/>
<circle cx="282.9" cy="1020" r="1.8" fill="url(#ac)"/>
<circle cx="286.4" cy="1013.94" r="1.8" fill="url(#ac)"/>
<circle cx="293.4" cy="1013.94" r="1.8" fill="url(#ac)"/>
<circle cx="264.8" cy="1008.2" r="2.16" fill="url(#ao)"/>
<circle cx="285.3" cy="995.4" r="2.16" fill="url(#ao)"/>
<circle cx="291.4" cy="1023" r="2.16" fill="url(#ao)"/>
<circle cx="281.7" cy="1020" r="2.16" fill="url(#ao)"/>
<circle cx="274.5" cy="1009.7" r="2.16" fill="url(#ao)"/>
<circle cx="276" cy="1025.1" r="1.73" fill="url(#an)"/>
<circle cx="283.2" cy="1027" r="1.8" fill="url(#ac)"/>
<circle cx="283.2" cy="1031.2" r="2.16" fill="url(#ao)"/>
<circle cx="299.6" cy="1019" r="1.73" fill="url(#an)"/>
<circle cx="304" cy="1015" r="1.8" fill="url(#ac)"/>
<circle cx="303" cy="1024" r="1.8" fill="url(#ac)"/>
<circle cx="328.5" cy="990" r="1.8" fill="url(#ac)"/>
<circle cx="334.91" cy="993.7" r="1.8" fill="url(#ac)"/>
<circle cx="334.91" cy="1001.1" r="1.8" fill="url(#ac)"/>
<circle cx="328.5" cy="1004.8" r="1.8" fill="url(#ac)"/>
<circle cx="322.09" cy="1001.1" r="1.8" fill="url(#ac)"/>
<circle cx="322.09" cy="993.7" r="1.8" fill="url(#ac)"/>
<circle cx="338.37" cy="991.7" r="0.86" fill="url(#ah)"/>
<circle cx="338.37" cy="1003.1" r="0.86" fill="url(#ah)"/>
<circle cx="318.63" cy="1003.1" r="0.86" fill="url(#ah)"/>
<circle cx="318.63" cy="991.7" r="0.86" fill="url(#ah)"/>
<circle cx="328.5" cy="984.5" r="1.73" fill="url(#an)"/>
<circle cx="324" cy="982.5" r="0.86" fill="url(#ah)"/>
<circle cx="333" cy="982.5" r="0.86" fill="url(#ah)"/>
<circle cx="328.5" cy="1008.8" r="2.02" fill="url(#as)"/>
<circle cx="323.1" cy="1008.8" r="2.16" fill="url(#ao)"/>
<circle cx="333.8" cy="1008.8" r="2.16" fill="url(#ao)"/>
<circle cx="328.8" cy="1015.8" r="1.73" fill="url(#an)"/>
<circle cx="333" cy="1017" r="0.86" fill="url(#ah)"/>
<circle cx="325.66" cy="1018.75" r="1.8" fill="url(#ac)"/>
<circle cx="324.99" cy="1025.18" r="1.8" fill="url(#ac)"/>
<circle cx="318.66" cy="1026.52" r="1.8" fill="url(#ac)"/>
<circle cx="315.43" cy="1020.93" r="2.16" fill="url(#ao)"/>
<circle cx="319.76" cy="1016.12" r="1.73" fill="url(#an)"/>
<circle cx="316.7" cy="1031" r="1.8" fill="url(#ac)"/>
<circle cx="356.3" cy="1012" r="1.73" fill="url(#an)"/>
<circle cx="353.3" cy="1017.2" r="1.8" fill="url(#ac)"/>
<circle cx="347.3" cy="1017.2" r="1.8" fill="url(#ac)"/>
<circle cx="344.3" cy="1012" r="1.73" fill="url(#an)"/>
<circle cx="347.3" cy="1006.8" r="1.8" fill="url(#ac)"/>
<circle cx="353.3" cy="1006.8" r="1.8" fill="url(#ac)"/>
<circle cx="355.05" cy="1020.23" r="0.86" fill="url(#ah)"/>
<circle cx="345.55" cy="1020.23" r="0.86" fill="url(#ah)"/>
<circle cx="345.55" cy="1003.77" r="0.86" fill="url(#ah)"/>
<circle cx="355.05" cy="1003.77" r="0.86" fill="url(#ah)"/>
<circle cx="366.4" cy="998.2" r="1.8" fill="url(#ac)"/>
<circle cx="371.77" cy="1001.3" r="1.8" fill="url(#ac)"/>
<circle cx="371.77" cy="1007.5" r="1.8" fill="url(#ac)"/>
<circle cx="366.4" cy="1010.6" r="1.8" fill="url(#ac)"/>
<circle cx="361.03" cy="1007.5" r="1.8" fill="url(#ac)"/>
<circle cx="361.03" cy="1001.3" r="1.8" fill="url(#ac)"/>
<circle cx="377.2" cy="992" r="1.8" fill="url(#ac)"/>
<circle cx="382.57" cy="995.1" r="1.8" fill="url(#ac)"/>
<circle cx="382.57" cy="1001.3" r="1.8" fill="url(#ac)"/>
<circle cx="377.2" cy="1004.4" r="1.8" fill="url(#ac)"/>
<circle cx="371.83" cy="1001.3" r="1.8" fill="url(#ac)"/>
<circle cx="371.83" cy="995.1" r="1.73" fill="url(#an)"/>
<circle cx="365.5" cy="1017.7" r="1.44" fill="url(#af)"/>
<circle cx="382" cy="1006.3" r="2.16" fill="url(#ao)"/>
<circle cx="364.5" cy="987.3" r="1.8" fill="url(#ac)"/>
<circle cx="360" cy="985" r="1.8" fill="url(#ac)"/>
<circle cx="367" cy="983" r="1.8" fill="url(#ac)"/>
<circle cx="386" cy="994" r="1.8" fill="url(#ac)"/>
<circle cx="387.7" cy="990.6" r="2.16" fill="url(#ao)"/>
<circle cx="388.2" cy="998.1" r="2.16" fill="url(#ao)"/>
<circle cx="402.5" cy="1000.1" r="1.8" fill="url(#ac)"/>
<circle cx="407.87" cy="1003.2" r="1.8" fill="url(#ac)"/>
<circle cx="407.87" cy="1009.4" r="1.8" fill="url(#ac)"/>
<circle cx="402.5" cy="1012.5" r="1.8" fill="url(#ac)"/>
<circle cx="397.13" cy="1009.4" r="1.8" fill="url(#ac)"/>
<circle cx="397.13" cy="1003.2" r="1.8" fill="url(#ac)"/>
<circle cx="413" cy="994.1" r="1.8" fill="url(#ac)"/>
<circle cx="418.37" cy="997.2" r="1.8" fill="url(#ac)"/>
<circle cx="418.37" cy="1003.4" r="1.73" fill="url(#an)"/>
<circle cx="413" cy="1006.5" r="1.8" fill="url(#ac)"/>
<circle cx="407.63" cy="1003.4" r="1.8" fill="url(#ac)"/>
<circle cx="407.63" cy="997.2" r="1.8" fill="url(#ac)"/>
<circle cx="400.6" cy="991.7" r="2.16" fill="url(#ao)"/>
<circle cx="412" cy="986" r="1.8" fill="url(#ac)"/>
<circle cx="408.2" cy="983" r="2.16" fill="url(#ao)"/>
<circle cx="416.1" cy="983" r="2.16" fill="url(#ao)"/>
<circle cx="412.9" cy="1014.5" r="2.16" fill="url(#ao)"/>
<circle cx="419.5" cy="1009.2" r="1.8" fill="url(#ac)"/>
<circle cx="392.6" cy="1012" r="1.44" fill="url(#af)"/>
<circle cx="402.1" cy="1019.6" r="1.73" fill="url(#an)"/>
<circle cx="407.3" cy="1026.2" r="1.8" fill="url(#ac)"/>
<circle cx="404.9" cy="1030.36" r="1.8" fill="url(#ac)"/>
<circle cx="400.1" cy="1030.36" r="1.8" fill="url(#ac)"/>
<circle cx="397.7" cy="1026.2" r="1.8" fill="url(#ac)"/>
<circle cx="400.1" cy="1022.04" r="1.8" fill="url(#ac)"/>
<circle cx="404.9" cy="1022.04" r="1.8" fill="url(#ac)"/>
<circle cx="399" cy="1032" r="1.73" fill="url(#an)"/>
<circle cx="457.5" cy="1002" r="1.8" fill="url(#ac)"/>
<circle cx="462.7" cy="1005" r="1.8" fill="url(#ac)"/>
<circle cx="462.7" cy="1011" r="1.8" fill="url(#ac)"/>
<circle cx="457.5" cy="1014" r="1.8" fill="url(#ac)"/>
<circle cx="452.3" cy="1011" r="1.8" fill="url(#ac)"/>
<circle cx="452.3" cy="1005" r="1.8" fill="url(#ac)"/>
<circle cx="457.5" cy="998.5" r="0.86" fill="url(#ah)"/>
<circle cx="457.5" cy="1017.5" r="0.86" fill="url(#ah)"/>
<circle cx="449.27" cy="1003.25" r="0.86" fill="url(#ah)"/>
<circle cx="467.8" cy="996" r="1.8" fill="url(#ac)"/>
<circle cx="473" cy="999" r="1.8" fill="url(#ac)"/>
<circle cx="473" cy="1005" r="1.8" fill="url(#ac)"/>
<circle cx="467.8" cy="1008" r="2.16" fill="url(#ao)"/>
<circle cx="462.6" cy="1005" r="1.8" fill="url(#ac)"/>
<circle cx="462.6" cy="999" r="1.8" fill="url(#ac)"/>
<circle cx="478" cy="998.5" r="1.8" fill="url(#ac)"/>
<circle cx="483.2" cy="1001.5" r="1.8" fill="url(#ac)"/>
<circle cx="483.2" cy="1007.5" r="1.8" fill="url(#ac)"/>
<circle cx="478" cy="1010.5" r="1.8" fill="url(#ac)"/>
<circle cx="472.8" cy="1007.5" r="1.8" fill="url(#ac)"/>
<circle cx="472.8" cy="1001.5" r="1.8" fill="url(#ac)"/>
<circle cx="486.23" cy="999.75" r="0.86" fill="url(#ah)"/>
<circle cx="486.23" cy="1009.25" r="0.86" fill="url(#ah)"/>
<circle cx="469.77" cy="1009.25" r="0.86" fill="url(#ah)"/>
<circle cx="464.5" cy="996.5" r="1.8" fill="url(#ac)"/>
<circle cx="463.9" cy="993.5" r="2.16" fill="url(#ao)"/>
<circle cx="466.3" cy="990.3" r="2.16" fill="url(#ao)"/>
<circle cx="450.3" cy="1017.1" r="1.73" fill="url(#an)"/>
<circle cx="444" cy="1015" r="1.8" fill="url(#ac)"/>
<circle cx="452" cy="1023" r="1.8" fill="url(#ac)"/>
<circle cx="485.6" cy="1008.7" r="1.73" fill="url(#an)"/>
<circle cx="491" cy="1004" r="1.8" fill="url(#ac)"/>
<circle cx="489" cy="1014" r="1.8" fill="url(#ac)"/>
<circle cx="519.3" cy="981" r="1.8" fill="url(#ac)"/>
<circle cx="524.5" cy="984" r="1.8" fill="url(#ac)"/>
<circle cx="524.5" cy="990" r="1.8" fill="url(#ac)"/>
<circle cx="519.3" cy="993" r="1.8" fill="url(#ac)"/>
<circle cx="514.1" cy="990" r="1.8" fill="url(#ac)"/>
<circle cx="514.1" cy="984" r="1.8" fill="url(#ac)"/>
<circle cx="519.3" cy="977.5" r="0.86" fill="url(#ah)"/>
<circle cx="527.53" cy="982.25" r="0.86" fill="url(#ah)"/>
<circle cx="511.07" cy="991.75" r="0.86" fill="url(#ah)"/>
<circle cx="511.07" cy="982.25" r="0.86" fill="url(#ah)"/>
<circle cx="526.5" cy="991.5" r="1.8" fill="url(#ac)"/>
<circle cx="531.7" cy="994.5" r="1.8" fill="url(#ac)"/>
<circle cx="531.7" cy="1000.5" r="1.8" fill="url(#ac)"/>
<circle cx="526.5" cy="1003.5" r="1.8" fill="url(#ac)"/>
<circle cx="521.3" cy="1000.5" r="1.8" fill="url(#ac)"/>
<circle cx="521.3" cy="994.5" r="1.8" fill="url(#ac)"/>
<circle cx="534.73" cy="992.75" r="0.86" fill="url(#ah)"/>
<circle cx="534.73" cy="1002.25" r="0.86" fill="url(#ah)"/>
<circle cx="526.5" cy="1007" r="0.86" fill="url(#ah)"/>
<circle cx="533.3" cy="1005.5" r="2.16" fill="url(#ao)"/>
<circle cx="520.4" cy="1004.7" r="1.73" fill="url(#an)"/>
<circle cx="517" cy="1008" r="1.73" fill="url(#an)"/>
<circle cx="515.1" cy="1010.8" r="1.8" fill="url(#ac)"/>
<circle cx="518.1" cy="1016" r="1.8" fill="url(#ac)"/>
<circle cx="515.1" cy="1021.2" r="1.8" fill="url(#ac)"/>
<circle cx="509.1" cy="1021.2" r="1.8" fill="url(#ac)"/>
<circle cx="506.1" cy="1016" r="1.8" fill="url(#ac)"/>
<circle cx="509.1" cy="1010.8" r="1.8" fill="url(#ac)"/>
<circle cx="521.6" cy="1016" r="0.86" fill="url(#ah)"/>
<circle cx="516.85" cy="1024.23" r="0.86" fill="url(#ah)"/>
<circle cx="502.6" cy="1016" r="0.86" fill="url(#ah)"/>
<circle cx="507.35" cy="1007.77" r="0.86" fill="url(#ah)"/>
<circle cx="503.3" cy="1026.4" r="2.02" fill="url(#as)"/>
<circle cx="497.6" cy="1025.1" r="2.16" fill="url(#ao)"/>
<circle cx="506.5" cy="1031.5" r="2.16" fill="url(#ao)"/>
<circle cx="501" cy="1021" r="2.16" fill="url(#ao)"/>
<circle cx="564.5" cy="991.76" r="1.8" fill="url(#ac)"/>
<circle cx="567.7" cy="997.3" r="1.8" fill="url(#ac)"/>
<circle cx="564.5" cy="1002.84" r="1.8" fill="url(#ac)"/>
<circle cx="558.1" cy="1002.84" r="1.8" fill="url(#ac)"/>
<circle cx="554.9" cy="997.3" r="1.8" fill="url(#ac)"/>
<circle cx="558.1" cy="991.76" r="1.8" fill="url(#ac)"/>
<circle cx="571.2" cy="997.3" r="0.86" fill="url(#ah)"/>
<circle cx="566.25" cy="1005.87" r="0.86" fill="url(#ah)"/>
<circle cx="556.35" cy="988.73" r="0.86" fill="url(#ah)"/>
<circle cx="558.6" cy="1014.16" r="1.8" fill="url(#ac)"/>
<circle cx="561.8" cy="1019.7" r="1.8" fill="url(#ac)"/>
<circle cx="558.6" cy="1025.24" r="1.8" fill="url(#ac)"/>
<circle cx="552.2" cy="1025.24" r="1.8" fill="url(#ac)"/>
<circle cx="549" cy="1019.7" r="1.8" fill="url(#ac)"/>
<circle cx="552.2" cy="1014.16" r="1.8" fill="url(#ac)"/>
<circle cx="560.35" cy="1011.13" r="0.86" fill="url(#ah)"/>
<circle cx="550.45" cy="1028.27" r="0.86" fill="url(#ah)"/>
<circle cx="550.45" cy="1011.13" r="0.86" fill="url(#ah)"/>
<circle cx="567.2" cy="1011.8" r="2.02" fill="url(#as)"/>
<circle cx="552.7" cy="1008.5" r="1.73" fill="url(#an)"/>
<circle cx="569.4" cy="988.1" r="1.73" fill="url(#an)"/>
<circle cx="564" cy="984" r="1.8" fill="url(#ac)"/>
<circle cx="575" cy="989" r="1.8" fill="url(#ac)"/>
<circle cx="557.3" cy="1033.5" r="1.73" fill="url(#an)"/>
<circle cx="552" cy="1037" r="1.8" fill="url(#ac)"/>
<circle cx="563" cy="1035" r="1.8" fill="url(#ac)"/>
<circle cx="605.3" cy="987.1" r="2.02" fill="url(#as)"/>
<circle cx="600.7" cy="984.5" r="2.16" fill="url(#ao)"/>
<circle cx="607" cy="982.6" r="2.16" fill="url(#ao)"/>
<circle cx="609.9" cy="987.9" r="2.16" fill="url(#ao)"/>
<circle cx="605.2" cy="993.06" r="1.8" fill="url(#ac)"/>
<circle cx="608.4" cy="998.6" r="1.8" fill="url(#ac)"/>
<circle cx="605.2" cy="1004.14" r="1.8" fill="url(#ac)"/>
<circle cx="598.8" cy="1004.14" r="1.8" fill="url(#ac)"/>
<circle cx="595.6" cy="998.6" r="1.8" fill="url(#ac)"/>
<circle cx="598.8" cy="993.06" r="1.8" fill="url(#ac)"/>
<circle cx="611.9" cy="998.6" r="0.86" fill="url(#ah)"/>
<circle cx="606.95" cy="1007.17" r="0.86" fill="url(#ah)"/>
<circle cx="592.1" cy="998.6" r="0.86" fill="url(#ah)"/>
<circle cx="597.05" cy="990.03" r="0.86" fill="url(#ah)"/>
<circle cx="600.5" cy="1009" r="1.73" fill="url(#an)"/>
<circle cx="597.5" cy="1013.5" r="1.73" fill="url(#an)"/>
<circle cx="598.6" cy="1018.06" r="1.8" fill="url(#ac)"/>
<circle cx="601.8" cy="1023.6" r="1.8" fill="url(#ac)"/>
<circle cx="598.6" cy="1029.14" r="1.8" fill="url(#ac)"/>
<circle cx="592.2" cy="1029.14" r="1.8" fill="url(#ac)"/>
<circle cx="589" cy="1023.6" r="1.8" fill="url(#ac)"/>
<circle cx="592.2" cy="1018.06" r="1.8" fill="url(#ac)"/>
<circle cx="605.3" cy="1023.6" r="0.86" fill="url(#ah)"/>
<circle cx="600.35" cy="1032.17" r="0.86" fill="url(#ah)"/>
<circle cx="585.5" cy="1023.6" r="0.86" fill="url(#ah)"/>
<circle cx="590.45" cy="1015.03" r="0.86" fill="url(#ah)"/>
<circle cx="592.5" cy="1034.8" r="1.73" fill="url(#an)"/>
<circle cx="587" cy="1036" r="1.8" fill="url(#ac)"/>
<circle cx="597" cy="1039" r="1.8" fill="url(#ac)"/>
</svg></body></html>
